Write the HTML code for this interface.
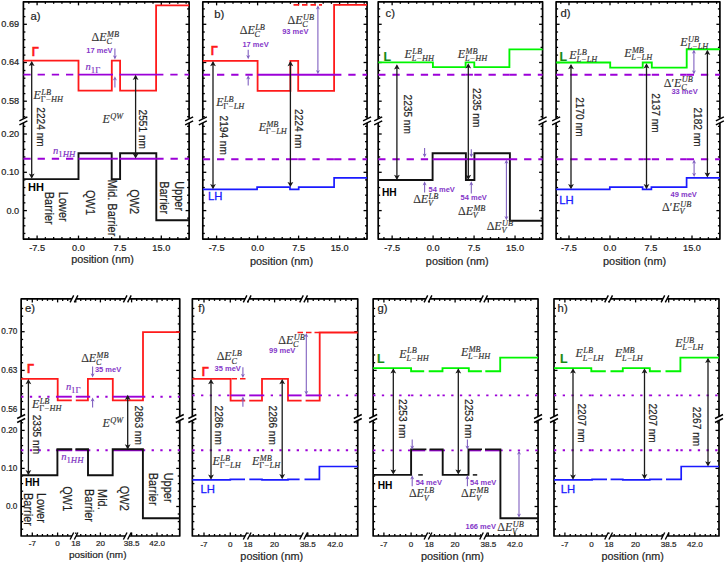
<!DOCTYPE html>
<html><head><meta charset="utf-8"><title>Band diagrams</title>
<style>html,body{margin:0;padding:0;background:#fff;width:725px;height:563px;overflow:hidden}svg{display:block}</style>
</head><body>
<svg width="725" height="563" viewBox="0 0 725 563">
<rect width="725" height="563" fill="#fff"/>
<rect x="23.4" y="1.85" width="165.7" height="237.25" fill="none" stroke="#000" stroke-width="1.7" stroke-linejoin="round"/>
<path d="M23.4 24.3 L26.9 24.3" fill="none" stroke="#000" stroke-width="1.3" stroke-linecap="butt" stroke-linejoin="miter"/>
<path d="M189.1 24.3 L185.6 24.3" fill="none" stroke="#000" stroke-width="1.3" stroke-linecap="butt" stroke-linejoin="miter"/>
<path d="M23.4 62.5 L26.9 62.5" fill="none" stroke="#000" stroke-width="1.3" stroke-linecap="butt" stroke-linejoin="miter"/>
<path d="M189.1 62.5 L185.6 62.5" fill="none" stroke="#000" stroke-width="1.3" stroke-linecap="butt" stroke-linejoin="miter"/>
<path d="M23.4 101.2 L26.9 101.2" fill="none" stroke="#000" stroke-width="1.3" stroke-linecap="butt" stroke-linejoin="miter"/>
<path d="M189.1 101.2 L185.6 101.2" fill="none" stroke="#000" stroke-width="1.3" stroke-linecap="butt" stroke-linejoin="miter"/>
<path d="M23.4 134 L26.9 134" fill="none" stroke="#000" stroke-width="1.3" stroke-linecap="butt" stroke-linejoin="miter"/>
<path d="M189.1 134 L185.6 134" fill="none" stroke="#000" stroke-width="1.3" stroke-linecap="butt" stroke-linejoin="miter"/>
<path d="M23.4 172.3 L26.9 172.3" fill="none" stroke="#000" stroke-width="1.3" stroke-linecap="butt" stroke-linejoin="miter"/>
<path d="M189.1 172.3 L185.6 172.3" fill="none" stroke="#000" stroke-width="1.3" stroke-linecap="butt" stroke-linejoin="miter"/>
<path d="M23.4 210.6 L26.9 210.6" fill="none" stroke="#000" stroke-width="1.3" stroke-linecap="butt" stroke-linejoin="miter"/>
<path d="M189.1 210.6 L185.6 210.6" fill="none" stroke="#000" stroke-width="1.3" stroke-linecap="butt" stroke-linejoin="miter"/>
<path d="M23.4 8.9 L25.4 8.9" fill="none" stroke="#000" stroke-width="1.3" stroke-linecap="butt" stroke-linejoin="miter"/>
<path d="M189.1 8.9 L187.1 8.9" fill="none" stroke="#000" stroke-width="1.3" stroke-linecap="butt" stroke-linejoin="miter"/>
<path d="M23.4 16.6 L25.4 16.6" fill="none" stroke="#000" stroke-width="1.3" stroke-linecap="butt" stroke-linejoin="miter"/>
<path d="M189.1 16.6 L187.1 16.6" fill="none" stroke="#000" stroke-width="1.3" stroke-linecap="butt" stroke-linejoin="miter"/>
<path d="M23.4 32 L25.4 32" fill="none" stroke="#000" stroke-width="1.3" stroke-linecap="butt" stroke-linejoin="miter"/>
<path d="M189.1 32 L187.1 32" fill="none" stroke="#000" stroke-width="1.3" stroke-linecap="butt" stroke-linejoin="miter"/>
<path d="M23.4 39.7 L25.4 39.7" fill="none" stroke="#000" stroke-width="1.3" stroke-linecap="butt" stroke-linejoin="miter"/>
<path d="M189.1 39.7 L187.1 39.7" fill="none" stroke="#000" stroke-width="1.3" stroke-linecap="butt" stroke-linejoin="miter"/>
<path d="M23.4 47.4 L25.4 47.4" fill="none" stroke="#000" stroke-width="1.3" stroke-linecap="butt" stroke-linejoin="miter"/>
<path d="M189.1 47.4 L187.1 47.4" fill="none" stroke="#000" stroke-width="1.3" stroke-linecap="butt" stroke-linejoin="miter"/>
<path d="M23.4 55.1 L25.4 55.1" fill="none" stroke="#000" stroke-width="1.3" stroke-linecap="butt" stroke-linejoin="miter"/>
<path d="M189.1 55.1 L187.1 55.1" fill="none" stroke="#000" stroke-width="1.3" stroke-linecap="butt" stroke-linejoin="miter"/>
<path d="M23.4 70.5 L25.4 70.5" fill="none" stroke="#000" stroke-width="1.3" stroke-linecap="butt" stroke-linejoin="miter"/>
<path d="M189.1 70.5 L187.1 70.5" fill="none" stroke="#000" stroke-width="1.3" stroke-linecap="butt" stroke-linejoin="miter"/>
<path d="M23.4 78.2 L25.4 78.2" fill="none" stroke="#000" stroke-width="1.3" stroke-linecap="butt" stroke-linejoin="miter"/>
<path d="M189.1 78.2 L187.1 78.2" fill="none" stroke="#000" stroke-width="1.3" stroke-linecap="butt" stroke-linejoin="miter"/>
<path d="M23.4 85.9 L25.4 85.9" fill="none" stroke="#000" stroke-width="1.3" stroke-linecap="butt" stroke-linejoin="miter"/>
<path d="M189.1 85.9 L187.1 85.9" fill="none" stroke="#000" stroke-width="1.3" stroke-linecap="butt" stroke-linejoin="miter"/>
<path d="M23.4 93.6 L25.4 93.6" fill="none" stroke="#000" stroke-width="1.3" stroke-linecap="butt" stroke-linejoin="miter"/>
<path d="M189.1 93.6 L187.1 93.6" fill="none" stroke="#000" stroke-width="1.3" stroke-linecap="butt" stroke-linejoin="miter"/>
<path d="M23.4 109 L25.4 109" fill="none" stroke="#000" stroke-width="1.3" stroke-linecap="butt" stroke-linejoin="miter"/>
<path d="M189.1 109 L187.1 109" fill="none" stroke="#000" stroke-width="1.3" stroke-linecap="butt" stroke-linejoin="miter"/>
<path d="M23.4 116.7 L25.4 116.7" fill="none" stroke="#000" stroke-width="1.3" stroke-linecap="butt" stroke-linejoin="miter"/>
<path d="M189.1 116.7 L187.1 116.7" fill="none" stroke="#000" stroke-width="1.3" stroke-linecap="butt" stroke-linejoin="miter"/>
<path d="M23.4 126.35 L25.4 126.35" fill="none" stroke="#000" stroke-width="1.3" stroke-linecap="butt" stroke-linejoin="miter"/>
<path d="M189.1 126.35 L187.1 126.35" fill="none" stroke="#000" stroke-width="1.3" stroke-linecap="butt" stroke-linejoin="miter"/>
<path d="M23.4 141.65 L25.4 141.65" fill="none" stroke="#000" stroke-width="1.3" stroke-linecap="butt" stroke-linejoin="miter"/>
<path d="M189.1 141.65 L187.1 141.65" fill="none" stroke="#000" stroke-width="1.3" stroke-linecap="butt" stroke-linejoin="miter"/>
<path d="M23.4 149.3 L25.4 149.3" fill="none" stroke="#000" stroke-width="1.3" stroke-linecap="butt" stroke-linejoin="miter"/>
<path d="M189.1 149.3 L187.1 149.3" fill="none" stroke="#000" stroke-width="1.3" stroke-linecap="butt" stroke-linejoin="miter"/>
<path d="M23.4 156.95 L25.4 156.95" fill="none" stroke="#000" stroke-width="1.3" stroke-linecap="butt" stroke-linejoin="miter"/>
<path d="M189.1 156.95 L187.1 156.95" fill="none" stroke="#000" stroke-width="1.3" stroke-linecap="butt" stroke-linejoin="miter"/>
<path d="M23.4 164.6 L25.4 164.6" fill="none" stroke="#000" stroke-width="1.3" stroke-linecap="butt" stroke-linejoin="miter"/>
<path d="M189.1 164.6 L187.1 164.6" fill="none" stroke="#000" stroke-width="1.3" stroke-linecap="butt" stroke-linejoin="miter"/>
<path d="M23.4 179.9 L25.4 179.9" fill="none" stroke="#000" stroke-width="1.3" stroke-linecap="butt" stroke-linejoin="miter"/>
<path d="M189.1 179.9 L187.1 179.9" fill="none" stroke="#000" stroke-width="1.3" stroke-linecap="butt" stroke-linejoin="miter"/>
<path d="M23.4 187.55 L25.4 187.55" fill="none" stroke="#000" stroke-width="1.3" stroke-linecap="butt" stroke-linejoin="miter"/>
<path d="M189.1 187.55 L187.1 187.55" fill="none" stroke="#000" stroke-width="1.3" stroke-linecap="butt" stroke-linejoin="miter"/>
<path d="M23.4 195.2 L25.4 195.2" fill="none" stroke="#000" stroke-width="1.3" stroke-linecap="butt" stroke-linejoin="miter"/>
<path d="M189.1 195.2 L187.1 195.2" fill="none" stroke="#000" stroke-width="1.3" stroke-linecap="butt" stroke-linejoin="miter"/>
<path d="M23.4 202.85 L25.4 202.85" fill="none" stroke="#000" stroke-width="1.3" stroke-linecap="butt" stroke-linejoin="miter"/>
<path d="M189.1 202.85 L187.1 202.85" fill="none" stroke="#000" stroke-width="1.3" stroke-linecap="butt" stroke-linejoin="miter"/>
<path d="M23.4 218.15 L25.4 218.15" fill="none" stroke="#000" stroke-width="1.3" stroke-linecap="butt" stroke-linejoin="miter"/>
<path d="M189.1 218.15 L187.1 218.15" fill="none" stroke="#000" stroke-width="1.3" stroke-linecap="butt" stroke-linejoin="miter"/>
<path d="M23.4 225.8 L25.4 225.8" fill="none" stroke="#000" stroke-width="1.3" stroke-linecap="butt" stroke-linejoin="miter"/>
<path d="M189.1 225.8 L187.1 225.8" fill="none" stroke="#000" stroke-width="1.3" stroke-linecap="butt" stroke-linejoin="miter"/>
<path d="M23.4 233.45 L25.4 233.45" fill="none" stroke="#000" stroke-width="1.3" stroke-linecap="butt" stroke-linejoin="miter"/>
<path d="M189.1 233.45 L187.1 233.45" fill="none" stroke="#000" stroke-width="1.3" stroke-linecap="butt" stroke-linejoin="miter"/>
<path d="M37.1 1.85 L37.1 5.35" fill="none" stroke="#000" stroke-width="1.3" stroke-linecap="butt" stroke-linejoin="miter"/>
<path d="M37.1 239.1 L37.1 235.6" fill="none" stroke="#000" stroke-width="1.3" stroke-linecap="butt" stroke-linejoin="miter"/>
<path d="M78.5 1.85 L78.5 5.35" fill="none" stroke="#000" stroke-width="1.3" stroke-linecap="butt" stroke-linejoin="miter"/>
<path d="M78.5 239.1 L78.5 235.6" fill="none" stroke="#000" stroke-width="1.3" stroke-linecap="butt" stroke-linejoin="miter"/>
<path d="M119.9 1.85 L119.9 5.35" fill="none" stroke="#000" stroke-width="1.3" stroke-linecap="butt" stroke-linejoin="miter"/>
<path d="M119.9 239.1 L119.9 235.6" fill="none" stroke="#000" stroke-width="1.3" stroke-linecap="butt" stroke-linejoin="miter"/>
<path d="M161.3 1.85 L161.3 5.35" fill="none" stroke="#000" stroke-width="1.3" stroke-linecap="butt" stroke-linejoin="miter"/>
<path d="M161.3 239.1 L161.3 235.6" fill="none" stroke="#000" stroke-width="1.3" stroke-linecap="butt" stroke-linejoin="miter"/>
<path d="M28.82 1.85 L28.82 3.85" fill="none" stroke="#000" stroke-width="1.3" stroke-linecap="butt" stroke-linejoin="miter"/>
<path d="M28.82 239.1 L28.82 237.1" fill="none" stroke="#000" stroke-width="1.3" stroke-linecap="butt" stroke-linejoin="miter"/>
<path d="M45.38 1.85 L45.38 3.85" fill="none" stroke="#000" stroke-width="1.3" stroke-linecap="butt" stroke-linejoin="miter"/>
<path d="M45.38 239.1 L45.38 237.1" fill="none" stroke="#000" stroke-width="1.3" stroke-linecap="butt" stroke-linejoin="miter"/>
<path d="M53.66 1.85 L53.66 3.85" fill="none" stroke="#000" stroke-width="1.3" stroke-linecap="butt" stroke-linejoin="miter"/>
<path d="M53.66 239.1 L53.66 237.1" fill="none" stroke="#000" stroke-width="1.3" stroke-linecap="butt" stroke-linejoin="miter"/>
<path d="M61.94 1.85 L61.94 3.85" fill="none" stroke="#000" stroke-width="1.3" stroke-linecap="butt" stroke-linejoin="miter"/>
<path d="M61.94 239.1 L61.94 237.1" fill="none" stroke="#000" stroke-width="1.3" stroke-linecap="butt" stroke-linejoin="miter"/>
<path d="M70.22 1.85 L70.22 3.85" fill="none" stroke="#000" stroke-width="1.3" stroke-linecap="butt" stroke-linejoin="miter"/>
<path d="M70.22 239.1 L70.22 237.1" fill="none" stroke="#000" stroke-width="1.3" stroke-linecap="butt" stroke-linejoin="miter"/>
<path d="M86.78 1.85 L86.78 3.85" fill="none" stroke="#000" stroke-width="1.3" stroke-linecap="butt" stroke-linejoin="miter"/>
<path d="M86.78 239.1 L86.78 237.1" fill="none" stroke="#000" stroke-width="1.3" stroke-linecap="butt" stroke-linejoin="miter"/>
<path d="M95.06 1.85 L95.06 3.85" fill="none" stroke="#000" stroke-width="1.3" stroke-linecap="butt" stroke-linejoin="miter"/>
<path d="M95.06 239.1 L95.06 237.1" fill="none" stroke="#000" stroke-width="1.3" stroke-linecap="butt" stroke-linejoin="miter"/>
<path d="M103.34 1.85 L103.34 3.85" fill="none" stroke="#000" stroke-width="1.3" stroke-linecap="butt" stroke-linejoin="miter"/>
<path d="M103.34 239.1 L103.34 237.1" fill="none" stroke="#000" stroke-width="1.3" stroke-linecap="butt" stroke-linejoin="miter"/>
<path d="M111.62 1.85 L111.62 3.85" fill="none" stroke="#000" stroke-width="1.3" stroke-linecap="butt" stroke-linejoin="miter"/>
<path d="M111.62 239.1 L111.62 237.1" fill="none" stroke="#000" stroke-width="1.3" stroke-linecap="butt" stroke-linejoin="miter"/>
<path d="M128.18 1.85 L128.18 3.85" fill="none" stroke="#000" stroke-width="1.3" stroke-linecap="butt" stroke-linejoin="miter"/>
<path d="M128.18 239.1 L128.18 237.1" fill="none" stroke="#000" stroke-width="1.3" stroke-linecap="butt" stroke-linejoin="miter"/>
<path d="M136.46 1.85 L136.46 3.85" fill="none" stroke="#000" stroke-width="1.3" stroke-linecap="butt" stroke-linejoin="miter"/>
<path d="M136.46 239.1 L136.46 237.1" fill="none" stroke="#000" stroke-width="1.3" stroke-linecap="butt" stroke-linejoin="miter"/>
<path d="M144.74 1.85 L144.74 3.85" fill="none" stroke="#000" stroke-width="1.3" stroke-linecap="butt" stroke-linejoin="miter"/>
<path d="M144.74 239.1 L144.74 237.1" fill="none" stroke="#000" stroke-width="1.3" stroke-linecap="butt" stroke-linejoin="miter"/>
<path d="M153.02 1.85 L153.02 3.85" fill="none" stroke="#000" stroke-width="1.3" stroke-linecap="butt" stroke-linejoin="miter"/>
<path d="M153.02 239.1 L153.02 237.1" fill="none" stroke="#000" stroke-width="1.3" stroke-linecap="butt" stroke-linejoin="miter"/>
<path d="M169.58 1.85 L169.58 3.85" fill="none" stroke="#000" stroke-width="1.3" stroke-linecap="butt" stroke-linejoin="miter"/>
<path d="M169.58 239.1 L169.58 237.1" fill="none" stroke="#000" stroke-width="1.3" stroke-linecap="butt" stroke-linejoin="miter"/>
<path d="M177.86 1.85 L177.86 3.85" fill="none" stroke="#000" stroke-width="1.3" stroke-linecap="butt" stroke-linejoin="miter"/>
<path d="M177.86 239.1 L177.86 237.1" fill="none" stroke="#000" stroke-width="1.3" stroke-linecap="butt" stroke-linejoin="miter"/>
<path d="M186.14 1.85 L186.14 3.85" fill="none" stroke="#000" stroke-width="1.3" stroke-linecap="butt" stroke-linejoin="miter"/>
<path d="M186.14 239.1 L186.14 237.1" fill="none" stroke="#000" stroke-width="1.3" stroke-linecap="butt" stroke-linejoin="miter"/>
<rect x="21.4" y="118.7" width="4" height="4.2" fill="#fff"/>
<path d="M19.4 120.9 L27.4 116.9" fill="none" stroke="#000" stroke-width="1.4" stroke-linecap="butt" stroke-linejoin="miter"/>
<path d="M19.4 124.9 L27.4 120.9" fill="none" stroke="#000" stroke-width="1.4" stroke-linecap="butt" stroke-linejoin="miter"/>
<rect x="187.1" y="118.7" width="4" height="4.2" fill="#fff"/>
<path d="M185.1 120.9 L193.1 116.9" fill="none" stroke="#000" stroke-width="1.4" stroke-linecap="butt" stroke-linejoin="miter"/>
<path d="M185.1 124.9 L193.1 120.9" fill="none" stroke="#000" stroke-width="1.4" stroke-linecap="butt" stroke-linejoin="miter"/>
<text x="0" y="0" font-family='"Liberation Sans", sans-serif' font-size="9.2" fill="#1e1e1e" font-weight="normal" font-style="normal" text-anchor="middle" transform="translate(37.1 251) scale(1 1.07)" stroke="#1e1e1e" stroke-width="0.2">-7.5</text>
<text x="0" y="0" font-family='"Liberation Sans", sans-serif' font-size="9.2" fill="#1e1e1e" font-weight="normal" font-style="normal" text-anchor="middle" transform="translate(78.5 251) scale(1 1.07)" stroke="#1e1e1e" stroke-width="0.2">0.0</text>
<text x="0" y="0" font-family='"Liberation Sans", sans-serif' font-size="9.2" fill="#1e1e1e" font-weight="normal" font-style="normal" text-anchor="middle" transform="translate(119.9 251) scale(1 1.07)" stroke="#1e1e1e" stroke-width="0.2">7.5</text>
<text x="0" y="0" font-family='"Liberation Sans", sans-serif' font-size="9.2" fill="#1e1e1e" font-weight="normal" font-style="normal" text-anchor="middle" transform="translate(161.3 251) scale(1 1.07)" stroke="#1e1e1e" stroke-width="0.2">15.0</text>
<text x="102.55" y="263.4" font-family='"Liberation Sans", sans-serif' font-size="10.86" fill="#1e1e1e" font-weight="normal" font-style="normal" text-anchor="middle" stroke="#1e1e1e" stroke-width="0.2">position (nm)</text>
<text x="0" y="0" font-family='"Liberation Sans", sans-serif' font-size="9.2" fill="#1e1e1e" font-weight="normal" font-style="normal" text-anchor="end" transform="translate(19.2 27.2) scale(1 1.07)" stroke="#1e1e1e" stroke-width="0.2">0.69</text>
<text x="0" y="0" font-family='"Liberation Sans", sans-serif' font-size="9.2" fill="#1e1e1e" font-weight="normal" font-style="normal" text-anchor="end" transform="translate(19.2 65.4) scale(1 1.07)" stroke="#1e1e1e" stroke-width="0.2">0.64</text>
<text x="0" y="0" font-family='"Liberation Sans", sans-serif' font-size="9.2" fill="#1e1e1e" font-weight="normal" font-style="normal" text-anchor="end" transform="translate(19.2 104.1) scale(1 1.07)" stroke="#1e1e1e" stroke-width="0.2">0.58</text>
<text x="0" y="0" font-family='"Liberation Sans", sans-serif' font-size="9.2" fill="#1e1e1e" font-weight="normal" font-style="normal" text-anchor="end" transform="translate(19.2 136.9) scale(1 1.07)" stroke="#1e1e1e" stroke-width="0.2">0.20</text>
<text x="0" y="0" font-family='"Liberation Sans", sans-serif' font-size="9.2" fill="#1e1e1e" font-weight="normal" font-style="normal" text-anchor="end" transform="translate(19.2 175.2) scale(1 1.07)" stroke="#1e1e1e" stroke-width="0.2">0.10</text>
<text x="0" y="0" font-family='"Liberation Sans", sans-serif' font-size="9.2" fill="#1e1e1e" font-weight="normal" font-style="normal" text-anchor="end" transform="translate(19.2 213.5) scale(1 1.07)" stroke="#1e1e1e" stroke-width="0.2">0.0</text>
<path d="M23.4 60.7 L78.5 60.7 L78.5 90.6 L111.8 90.6 L111.8 60.7 L120.1 60.7 L120.1 90.6 L156.1 90.6 L156.1 5.3 L189.1 5.3" fill="none" stroke="#ff1a1a" stroke-width="1.8" stroke-linecap="butt" stroke-linejoin="miter"/>
<path d="M23.4 179.1 L78.5 179.1 L78.5 153.2 L111.7 153.2 L111.7 179.1 L120.1 179.1 L120.1 153.2 L156.3 153.2 L156.3 220.2 L189.1 220.2" fill="none" stroke="#111" stroke-width="1.9" stroke-linecap="butt" stroke-linejoin="miter"/>
<path d="M23.4 74.6 L78.5 74.6" fill="none" stroke="#9c00d8" stroke-width="1.9" stroke-dasharray="7.3 6.9" stroke-dashoffset="0"/>
<path d="M78.5 74.6 L113 74.6" fill="none" stroke="#9c00d8" stroke-width="1.9" stroke-linecap="butt" stroke-linejoin="miter"/>
<path d="M119.5 74.6 L156.1 74.6" fill="none" stroke="#9c00d8" stroke-width="1.9" stroke-linecap="butt" stroke-linejoin="miter"/>
<path d="M156.1 74.6 L189.1 74.6" fill="none" stroke="#9c00d8" stroke-width="1.9" stroke-dasharray="7.3 6.9" stroke-dashoffset="0"/>
<path d="M23.4 158.7 L78.5 158.7" fill="none" stroke="#9c00d8" stroke-width="1.9" stroke-dasharray="7.3 6.9" stroke-dashoffset="0"/>
<path d="M78.5 158.7 L111.8 158.7" fill="none" stroke="#9c00d8" stroke-width="1.9" stroke-linecap="butt" stroke-linejoin="miter"/>
<path d="M111.8 158.7 L117.8 158.7" fill="none" stroke="#9c00d8" stroke-width="1.9" stroke-linecap="butt" stroke-linejoin="miter"/>
<path d="M119.4 158.7 L120.1 158.7" fill="none" stroke="#9c00d8" stroke-width="1.9" stroke-linecap="butt" stroke-linejoin="miter"/>
<path d="M120.1 158.7 L156.3 158.7" fill="none" stroke="#9c00d8" stroke-width="1.9" stroke-linecap="butt" stroke-linejoin="miter"/>
<path d="M156.3 158.7 L189.1 158.7" fill="none" stroke="#9c00d8" stroke-width="1.9" stroke-dasharray="7.3 6.9" stroke-dashoffset="0"/>
<text x="30.4" y="19.5" font-family='"Liberation Sans", sans-serif' font-size="11.3" fill="#1e1e1e" font-weight="normal" font-style="normal" text-anchor="start" stroke="#1e1e1e" stroke-width="0.2">a)</text>
<text x="0" y="0" font-family='"Liberation Sans", sans-serif' font-size="12.6" fill="#ff1a1a" font-weight="bold" font-style="normal" text-anchor="start" transform="translate(31.8 55.6) scale(0.92 1)" stroke="#ff1a1a" stroke-width="0.45">Γ</text>
<g transform="translate(85.6 69.8) scale(1 1)" font-family='"Liberation Serif", serif' fill="#7b2fc0" stroke="#7b2fc0" stroke-width="0.15">
<text x="0" y="0" font-size="10.6" font-style="italic">n</text>
<text x="5.21" y="2.7" font-size="8.8" font-style="italic"><tspan font-style="normal">1</tspan><tspan font-style="normal">Γ</tspan></text>
</g>
<g transform="translate(91.6 41) scale(1 1)" font-family='"Liberation Serif", serif' fill="#333333" stroke="#333333" stroke-width="0.15">
<text x="0" y="0" font-size="12">Δ</text>
<text x="7.68" y="0" font-size="12" font-style="italic">E</text>
<text x="15.42" y="-4.1" font-size="8.3" font-style="italic">MB</text>
<text x="14.82" y="3.2" font-size="8.3" font-style="italic">C</text>
</g>
<text x="86.3" y="52.5" font-family='"Liberation Sans", sans-serif' font-size="7.5" fill="#8436c8" font-weight="bold" font-style="normal" text-anchor="start">17 meV</text>
<path d="M114.9 48.5 L114.9 57.4" fill="none" stroke="#8060c0" stroke-width="1.1" stroke-linecap="butt" stroke-linejoin="miter"/>
<path d="M114.9 59.4 L112.9 55.2 L114.9 56.4 L116.9 55.2 Z" fill="#8060c0"/>
<path d="M114.9 87.5 L114.9 78.3" fill="none" stroke="#8060c0" stroke-width="1.1" stroke-linecap="butt" stroke-linejoin="miter"/>
<path d="M114.9 76.3 L112.9 80.5 L114.9 79.3 L116.9 80.5 Z" fill="#8060c0"/>
<path d="M31.7 62.4 L31.7 177.3" fill="none" stroke="#1a1a1a" stroke-width="1.3" stroke-linecap="butt" stroke-linejoin="miter"/>
<path d="M31.7 60.9 L28.8 66.1 L31.7 64.9 L34.6 66.1 Z" fill="#1a1a1a"/>
<path d="M31.7 178.8 L28.8 173.6 L31.7 174.8 L34.6 173.6 Z" fill="#1a1a1a"/>
<path d="M135.6 76.3 L135.6 157.1" fill="none" stroke="#1a1a1a" stroke-width="1.3" stroke-linecap="butt" stroke-linejoin="miter"/>
<path d="M135.6 74.8 L132.7 80 L135.6 78.8 L138.5 80 Z" fill="#1a1a1a"/>
<path d="M135.6 158.6 L132.7 153.4 L135.6 154.6 L138.5 153.4 Z" fill="#1a1a1a"/>
<g transform="translate(33.6 98.8) scale(1 1)" font-family='"Liberation Serif", serif' fill="#333333" stroke="#333333" stroke-width="0.15">
<text x="0" y="0" font-size="12" font-style="italic">E</text>
<text x="7.74" y="-4.1" font-size="8.3" font-style="italic">LB</text>
<text x="7.14" y="3.2" font-size="8.3" font-style="italic"><tspan font-style="normal">Γ</tspan>−HH</text>
</g>
<text x="0" y="0" font-family='"Liberation Sans", sans-serif' font-size="10.15" fill="#1e1e1e" font-weight="normal" font-style="normal" text-anchor="start" transform="translate(36.5 107.3) rotate(90)" stroke="#1e1e1e" stroke-width="0.2">2224 nm</text>
<g transform="translate(102.6 122.9) scale(1 1)" font-family='"Liberation Serif", serif' fill="#333333" stroke="#333333" stroke-width="0.15">
<text x="0" y="0" font-size="12" font-style="italic">E</text>
<text x="7.74" y="-4.1" font-size="8.3" font-style="italic">QW</text>
</g>
<text x="0" y="0" font-family='"Liberation Sans", sans-serif' font-size="10.15" fill="#1e1e1e" font-weight="normal" font-style="normal" text-anchor="start" transform="translate(139.1 109.6) rotate(90)" stroke="#1e1e1e" stroke-width="0.2">2551 nm</text>
<text x="28" y="190.5" font-family='"Liberation Sans", sans-serif' font-size="11" fill="#000" font-weight="bold" font-style="normal" text-anchor="start">HH</text>
<g transform="translate(53.1 154.3) scale(1 1)" font-family='"Liberation Serif", serif' fill="#7b2fc0" stroke="#7b2fc0" stroke-width="0.15">
<text x="0" y="0" font-size="10.6" font-style="italic">n</text>
<text x="5.21" y="2.8" font-size="8.8" font-style="italic"><tspan font-style="normal">1</tspan>HH</text>
</g>
<text x="0" y="0" font-family='"Liberation Sans", sans-serif' font-size="12.2" fill="#1e1e1e" font-weight="normal" font-style="normal" text-anchor="start" transform="translate(59 191.8) rotate(90) scale(0.9 1)" stroke="#1e1e1e" stroke-width="0.2">Lower</text>
<text x="0" y="0" font-family='"Liberation Sans", sans-serif' font-size="12.2" fill="#1e1e1e" font-weight="normal" font-style="normal" text-anchor="start" transform="translate(44.6 191.8) rotate(90) scale(0.9 1)" stroke="#1e1e1e" stroke-width="0.2">Barrier</text>
<text x="0" y="0" font-family='"Liberation Sans", sans-serif' font-size="12.2" fill="#1e1e1e" font-weight="normal" font-style="normal" text-anchor="start" transform="translate(85.8 190) rotate(90) scale(0.9 1)" stroke="#1e1e1e" stroke-width="0.2">QW1</text>
<text x="0" y="0" font-family='"Liberation Sans", sans-serif' font-size="12.2" fill="#1e1e1e" font-weight="normal" font-style="normal" text-anchor="start" transform="translate(108.2 179.6) rotate(90) scale(0.9 1)" stroke="#1e1e1e" stroke-width="0.2">Mid. Barrier</text>
<text x="0" y="0" font-family='"Liberation Sans", sans-serif' font-size="12.2" fill="#1e1e1e" font-weight="normal" font-style="normal" text-anchor="start" transform="translate(129.7 189.2) rotate(90) scale(0.9 1)" stroke="#1e1e1e" stroke-width="0.2">QW2</text>
<text x="0" y="0" font-family='"Liberation Sans", sans-serif' font-size="12.2" fill="#1e1e1e" font-weight="normal" font-style="normal" text-anchor="start" transform="translate(175 181.2) rotate(90) scale(0.9 1)" stroke="#1e1e1e" stroke-width="0.2">Upper</text>
<text x="0" y="0" font-family='"Liberation Sans", sans-serif' font-size="12.2" fill="#1e1e1e" font-weight="normal" font-style="normal" text-anchor="start" transform="translate(159.7 181.2) rotate(90) scale(0.9 1)" stroke="#1e1e1e" stroke-width="0.2">Barrier</text>
<rect x="202.8" y="1.85" width="164.25" height="237.25" fill="none" stroke="#000" stroke-width="1.7" stroke-linejoin="round"/>
<path d="M202.8 24.3 L206.3 24.3" fill="none" stroke="#000" stroke-width="1.3" stroke-linecap="butt" stroke-linejoin="miter"/>
<path d="M367.05 24.3 L363.55 24.3" fill="none" stroke="#000" stroke-width="1.3" stroke-linecap="butt" stroke-linejoin="miter"/>
<path d="M202.8 62.5 L206.3 62.5" fill="none" stroke="#000" stroke-width="1.3" stroke-linecap="butt" stroke-linejoin="miter"/>
<path d="M367.05 62.5 L363.55 62.5" fill="none" stroke="#000" stroke-width="1.3" stroke-linecap="butt" stroke-linejoin="miter"/>
<path d="M202.8 101.2 L206.3 101.2" fill="none" stroke="#000" stroke-width="1.3" stroke-linecap="butt" stroke-linejoin="miter"/>
<path d="M367.05 101.2 L363.55 101.2" fill="none" stroke="#000" stroke-width="1.3" stroke-linecap="butt" stroke-linejoin="miter"/>
<path d="M202.8 134 L206.3 134" fill="none" stroke="#000" stroke-width="1.3" stroke-linecap="butt" stroke-linejoin="miter"/>
<path d="M367.05 134 L363.55 134" fill="none" stroke="#000" stroke-width="1.3" stroke-linecap="butt" stroke-linejoin="miter"/>
<path d="M202.8 172.3 L206.3 172.3" fill="none" stroke="#000" stroke-width="1.3" stroke-linecap="butt" stroke-linejoin="miter"/>
<path d="M367.05 172.3 L363.55 172.3" fill="none" stroke="#000" stroke-width="1.3" stroke-linecap="butt" stroke-linejoin="miter"/>
<path d="M202.8 210.6 L206.3 210.6" fill="none" stroke="#000" stroke-width="1.3" stroke-linecap="butt" stroke-linejoin="miter"/>
<path d="M367.05 210.6 L363.55 210.6" fill="none" stroke="#000" stroke-width="1.3" stroke-linecap="butt" stroke-linejoin="miter"/>
<path d="M202.8 8.9 L204.8 8.9" fill="none" stroke="#000" stroke-width="1.3" stroke-linecap="butt" stroke-linejoin="miter"/>
<path d="M367.05 8.9 L365.05 8.9" fill="none" stroke="#000" stroke-width="1.3" stroke-linecap="butt" stroke-linejoin="miter"/>
<path d="M202.8 16.6 L204.8 16.6" fill="none" stroke="#000" stroke-width="1.3" stroke-linecap="butt" stroke-linejoin="miter"/>
<path d="M367.05 16.6 L365.05 16.6" fill="none" stroke="#000" stroke-width="1.3" stroke-linecap="butt" stroke-linejoin="miter"/>
<path d="M202.8 32 L204.8 32" fill="none" stroke="#000" stroke-width="1.3" stroke-linecap="butt" stroke-linejoin="miter"/>
<path d="M367.05 32 L365.05 32" fill="none" stroke="#000" stroke-width="1.3" stroke-linecap="butt" stroke-linejoin="miter"/>
<path d="M202.8 39.7 L204.8 39.7" fill="none" stroke="#000" stroke-width="1.3" stroke-linecap="butt" stroke-linejoin="miter"/>
<path d="M367.05 39.7 L365.05 39.7" fill="none" stroke="#000" stroke-width="1.3" stroke-linecap="butt" stroke-linejoin="miter"/>
<path d="M202.8 47.4 L204.8 47.4" fill="none" stroke="#000" stroke-width="1.3" stroke-linecap="butt" stroke-linejoin="miter"/>
<path d="M367.05 47.4 L365.05 47.4" fill="none" stroke="#000" stroke-width="1.3" stroke-linecap="butt" stroke-linejoin="miter"/>
<path d="M202.8 55.1 L204.8 55.1" fill="none" stroke="#000" stroke-width="1.3" stroke-linecap="butt" stroke-linejoin="miter"/>
<path d="M367.05 55.1 L365.05 55.1" fill="none" stroke="#000" stroke-width="1.3" stroke-linecap="butt" stroke-linejoin="miter"/>
<path d="M202.8 70.5 L204.8 70.5" fill="none" stroke="#000" stroke-width="1.3" stroke-linecap="butt" stroke-linejoin="miter"/>
<path d="M367.05 70.5 L365.05 70.5" fill="none" stroke="#000" stroke-width="1.3" stroke-linecap="butt" stroke-linejoin="miter"/>
<path d="M202.8 78.2 L204.8 78.2" fill="none" stroke="#000" stroke-width="1.3" stroke-linecap="butt" stroke-linejoin="miter"/>
<path d="M367.05 78.2 L365.05 78.2" fill="none" stroke="#000" stroke-width="1.3" stroke-linecap="butt" stroke-linejoin="miter"/>
<path d="M202.8 85.9 L204.8 85.9" fill="none" stroke="#000" stroke-width="1.3" stroke-linecap="butt" stroke-linejoin="miter"/>
<path d="M367.05 85.9 L365.05 85.9" fill="none" stroke="#000" stroke-width="1.3" stroke-linecap="butt" stroke-linejoin="miter"/>
<path d="M202.8 93.6 L204.8 93.6" fill="none" stroke="#000" stroke-width="1.3" stroke-linecap="butt" stroke-linejoin="miter"/>
<path d="M367.05 93.6 L365.05 93.6" fill="none" stroke="#000" stroke-width="1.3" stroke-linecap="butt" stroke-linejoin="miter"/>
<path d="M202.8 109 L204.8 109" fill="none" stroke="#000" stroke-width="1.3" stroke-linecap="butt" stroke-linejoin="miter"/>
<path d="M367.05 109 L365.05 109" fill="none" stroke="#000" stroke-width="1.3" stroke-linecap="butt" stroke-linejoin="miter"/>
<path d="M202.8 116.7 L204.8 116.7" fill="none" stroke="#000" stroke-width="1.3" stroke-linecap="butt" stroke-linejoin="miter"/>
<path d="M367.05 116.7 L365.05 116.7" fill="none" stroke="#000" stroke-width="1.3" stroke-linecap="butt" stroke-linejoin="miter"/>
<path d="M202.8 126.35 L204.8 126.35" fill="none" stroke="#000" stroke-width="1.3" stroke-linecap="butt" stroke-linejoin="miter"/>
<path d="M367.05 126.35 L365.05 126.35" fill="none" stroke="#000" stroke-width="1.3" stroke-linecap="butt" stroke-linejoin="miter"/>
<path d="M202.8 141.65 L204.8 141.65" fill="none" stroke="#000" stroke-width="1.3" stroke-linecap="butt" stroke-linejoin="miter"/>
<path d="M367.05 141.65 L365.05 141.65" fill="none" stroke="#000" stroke-width="1.3" stroke-linecap="butt" stroke-linejoin="miter"/>
<path d="M202.8 149.3 L204.8 149.3" fill="none" stroke="#000" stroke-width="1.3" stroke-linecap="butt" stroke-linejoin="miter"/>
<path d="M367.05 149.3 L365.05 149.3" fill="none" stroke="#000" stroke-width="1.3" stroke-linecap="butt" stroke-linejoin="miter"/>
<path d="M202.8 156.95 L204.8 156.95" fill="none" stroke="#000" stroke-width="1.3" stroke-linecap="butt" stroke-linejoin="miter"/>
<path d="M367.05 156.95 L365.05 156.95" fill="none" stroke="#000" stroke-width="1.3" stroke-linecap="butt" stroke-linejoin="miter"/>
<path d="M202.8 164.6 L204.8 164.6" fill="none" stroke="#000" stroke-width="1.3" stroke-linecap="butt" stroke-linejoin="miter"/>
<path d="M367.05 164.6 L365.05 164.6" fill="none" stroke="#000" stroke-width="1.3" stroke-linecap="butt" stroke-linejoin="miter"/>
<path d="M202.8 179.9 L204.8 179.9" fill="none" stroke="#000" stroke-width="1.3" stroke-linecap="butt" stroke-linejoin="miter"/>
<path d="M367.05 179.9 L365.05 179.9" fill="none" stroke="#000" stroke-width="1.3" stroke-linecap="butt" stroke-linejoin="miter"/>
<path d="M202.8 187.55 L204.8 187.55" fill="none" stroke="#000" stroke-width="1.3" stroke-linecap="butt" stroke-linejoin="miter"/>
<path d="M367.05 187.55 L365.05 187.55" fill="none" stroke="#000" stroke-width="1.3" stroke-linecap="butt" stroke-linejoin="miter"/>
<path d="M202.8 195.2 L204.8 195.2" fill="none" stroke="#000" stroke-width="1.3" stroke-linecap="butt" stroke-linejoin="miter"/>
<path d="M367.05 195.2 L365.05 195.2" fill="none" stroke="#000" stroke-width="1.3" stroke-linecap="butt" stroke-linejoin="miter"/>
<path d="M202.8 202.85 L204.8 202.85" fill="none" stroke="#000" stroke-width="1.3" stroke-linecap="butt" stroke-linejoin="miter"/>
<path d="M367.05 202.85 L365.05 202.85" fill="none" stroke="#000" stroke-width="1.3" stroke-linecap="butt" stroke-linejoin="miter"/>
<path d="M202.8 218.15 L204.8 218.15" fill="none" stroke="#000" stroke-width="1.3" stroke-linecap="butt" stroke-linejoin="miter"/>
<path d="M367.05 218.15 L365.05 218.15" fill="none" stroke="#000" stroke-width="1.3" stroke-linecap="butt" stroke-linejoin="miter"/>
<path d="M202.8 225.8 L204.8 225.8" fill="none" stroke="#000" stroke-width="1.3" stroke-linecap="butt" stroke-linejoin="miter"/>
<path d="M367.05 225.8 L365.05 225.8" fill="none" stroke="#000" stroke-width="1.3" stroke-linecap="butt" stroke-linejoin="miter"/>
<path d="M202.8 233.45 L204.8 233.45" fill="none" stroke="#000" stroke-width="1.3" stroke-linecap="butt" stroke-linejoin="miter"/>
<path d="M367.05 233.45 L365.05 233.45" fill="none" stroke="#000" stroke-width="1.3" stroke-linecap="butt" stroke-linejoin="miter"/>
<path d="M216.6 1.85 L216.6 5.35" fill="none" stroke="#000" stroke-width="1.3" stroke-linecap="butt" stroke-linejoin="miter"/>
<path d="M216.6 239.1 L216.6 235.6" fill="none" stroke="#000" stroke-width="1.3" stroke-linecap="butt" stroke-linejoin="miter"/>
<path d="M257.6 1.85 L257.6 5.35" fill="none" stroke="#000" stroke-width="1.3" stroke-linecap="butt" stroke-linejoin="miter"/>
<path d="M257.6 239.1 L257.6 235.6" fill="none" stroke="#000" stroke-width="1.3" stroke-linecap="butt" stroke-linejoin="miter"/>
<path d="M298.6 1.85 L298.6 5.35" fill="none" stroke="#000" stroke-width="1.3" stroke-linecap="butt" stroke-linejoin="miter"/>
<path d="M298.6 239.1 L298.6 235.6" fill="none" stroke="#000" stroke-width="1.3" stroke-linecap="butt" stroke-linejoin="miter"/>
<path d="M339.61 1.85 L339.61 5.35" fill="none" stroke="#000" stroke-width="1.3" stroke-linecap="butt" stroke-linejoin="miter"/>
<path d="M339.61 239.1 L339.61 235.6" fill="none" stroke="#000" stroke-width="1.3" stroke-linecap="butt" stroke-linejoin="miter"/>
<path d="M208.4 1.85 L208.4 3.85" fill="none" stroke="#000" stroke-width="1.3" stroke-linecap="butt" stroke-linejoin="miter"/>
<path d="M208.4 239.1 L208.4 237.1" fill="none" stroke="#000" stroke-width="1.3" stroke-linecap="butt" stroke-linejoin="miter"/>
<path d="M224.8 1.85 L224.8 3.85" fill="none" stroke="#000" stroke-width="1.3" stroke-linecap="butt" stroke-linejoin="miter"/>
<path d="M224.8 239.1 L224.8 237.1" fill="none" stroke="#000" stroke-width="1.3" stroke-linecap="butt" stroke-linejoin="miter"/>
<path d="M233 1.85 L233 3.85" fill="none" stroke="#000" stroke-width="1.3" stroke-linecap="butt" stroke-linejoin="miter"/>
<path d="M233 239.1 L233 237.1" fill="none" stroke="#000" stroke-width="1.3" stroke-linecap="butt" stroke-linejoin="miter"/>
<path d="M241.2 1.85 L241.2 3.85" fill="none" stroke="#000" stroke-width="1.3" stroke-linecap="butt" stroke-linejoin="miter"/>
<path d="M241.2 239.1 L241.2 237.1" fill="none" stroke="#000" stroke-width="1.3" stroke-linecap="butt" stroke-linejoin="miter"/>
<path d="M249.4 1.85 L249.4 3.85" fill="none" stroke="#000" stroke-width="1.3" stroke-linecap="butt" stroke-linejoin="miter"/>
<path d="M249.4 239.1 L249.4 237.1" fill="none" stroke="#000" stroke-width="1.3" stroke-linecap="butt" stroke-linejoin="miter"/>
<path d="M265.8 1.85 L265.8 3.85" fill="none" stroke="#000" stroke-width="1.3" stroke-linecap="butt" stroke-linejoin="miter"/>
<path d="M265.8 239.1 L265.8 237.1" fill="none" stroke="#000" stroke-width="1.3" stroke-linecap="butt" stroke-linejoin="miter"/>
<path d="M274 1.85 L274 3.85" fill="none" stroke="#000" stroke-width="1.3" stroke-linecap="butt" stroke-linejoin="miter"/>
<path d="M274 239.1 L274 237.1" fill="none" stroke="#000" stroke-width="1.3" stroke-linecap="butt" stroke-linejoin="miter"/>
<path d="M282.2 1.85 L282.2 3.85" fill="none" stroke="#000" stroke-width="1.3" stroke-linecap="butt" stroke-linejoin="miter"/>
<path d="M282.2 239.1 L282.2 237.1" fill="none" stroke="#000" stroke-width="1.3" stroke-linecap="butt" stroke-linejoin="miter"/>
<path d="M290.4 1.85 L290.4 3.85" fill="none" stroke="#000" stroke-width="1.3" stroke-linecap="butt" stroke-linejoin="miter"/>
<path d="M290.4 239.1 L290.4 237.1" fill="none" stroke="#000" stroke-width="1.3" stroke-linecap="butt" stroke-linejoin="miter"/>
<path d="M306.8 1.85 L306.8 3.85" fill="none" stroke="#000" stroke-width="1.3" stroke-linecap="butt" stroke-linejoin="miter"/>
<path d="M306.8 239.1 L306.8 237.1" fill="none" stroke="#000" stroke-width="1.3" stroke-linecap="butt" stroke-linejoin="miter"/>
<path d="M315 1.85 L315 3.85" fill="none" stroke="#000" stroke-width="1.3" stroke-linecap="butt" stroke-linejoin="miter"/>
<path d="M315 239.1 L315 237.1" fill="none" stroke="#000" stroke-width="1.3" stroke-linecap="butt" stroke-linejoin="miter"/>
<path d="M323.2 1.85 L323.2 3.85" fill="none" stroke="#000" stroke-width="1.3" stroke-linecap="butt" stroke-linejoin="miter"/>
<path d="M323.2 239.1 L323.2 237.1" fill="none" stroke="#000" stroke-width="1.3" stroke-linecap="butt" stroke-linejoin="miter"/>
<path d="M331.4 1.85 L331.4 3.85" fill="none" stroke="#000" stroke-width="1.3" stroke-linecap="butt" stroke-linejoin="miter"/>
<path d="M331.4 239.1 L331.4 237.1" fill="none" stroke="#000" stroke-width="1.3" stroke-linecap="butt" stroke-linejoin="miter"/>
<path d="M347.81 1.85 L347.81 3.85" fill="none" stroke="#000" stroke-width="1.3" stroke-linecap="butt" stroke-linejoin="miter"/>
<path d="M347.81 239.1 L347.81 237.1" fill="none" stroke="#000" stroke-width="1.3" stroke-linecap="butt" stroke-linejoin="miter"/>
<path d="M356.01 1.85 L356.01 3.85" fill="none" stroke="#000" stroke-width="1.3" stroke-linecap="butt" stroke-linejoin="miter"/>
<path d="M356.01 239.1 L356.01 237.1" fill="none" stroke="#000" stroke-width="1.3" stroke-linecap="butt" stroke-linejoin="miter"/>
<path d="M364.21 1.85 L364.21 3.85" fill="none" stroke="#000" stroke-width="1.3" stroke-linecap="butt" stroke-linejoin="miter"/>
<path d="M364.21 239.1 L364.21 237.1" fill="none" stroke="#000" stroke-width="1.3" stroke-linecap="butt" stroke-linejoin="miter"/>
<rect x="200.8" y="118.7" width="4" height="4.2" fill="#fff"/>
<path d="M198.8 120.9 L206.8 116.9" fill="none" stroke="#000" stroke-width="1.4" stroke-linecap="butt" stroke-linejoin="miter"/>
<path d="M198.8 124.9 L206.8 120.9" fill="none" stroke="#000" stroke-width="1.4" stroke-linecap="butt" stroke-linejoin="miter"/>
<rect x="365.05" y="118.7" width="4" height="4.2" fill="#fff"/>
<path d="M363.05 120.9 L371.05 116.9" fill="none" stroke="#000" stroke-width="1.4" stroke-linecap="butt" stroke-linejoin="miter"/>
<path d="M363.05 124.9 L371.05 120.9" fill="none" stroke="#000" stroke-width="1.4" stroke-linecap="butt" stroke-linejoin="miter"/>
<text x="0" y="0" font-family='"Liberation Sans", sans-serif' font-size="9.2" fill="#1e1e1e" font-weight="normal" font-style="normal" text-anchor="middle" transform="translate(216.6 251) scale(1 1.07)" stroke="#1e1e1e" stroke-width="0.2">-7.5</text>
<text x="0" y="0" font-family='"Liberation Sans", sans-serif' font-size="9.2" fill="#1e1e1e" font-weight="normal" font-style="normal" text-anchor="middle" transform="translate(257.6 251) scale(1 1.07)" stroke="#1e1e1e" stroke-width="0.2">0.0</text>
<text x="0" y="0" font-family='"Liberation Sans", sans-serif' font-size="9.2" fill="#1e1e1e" font-weight="normal" font-style="normal" text-anchor="middle" transform="translate(298.6 251) scale(1 1.07)" stroke="#1e1e1e" stroke-width="0.2">7.5</text>
<text x="0" y="0" font-family='"Liberation Sans", sans-serif' font-size="9.2" fill="#1e1e1e" font-weight="normal" font-style="normal" text-anchor="middle" transform="translate(339.61 251) scale(1 1.07)" stroke="#1e1e1e" stroke-width="0.2">15.0</text>
<text x="281.5" y="264.5" font-family='"Liberation Sans", sans-serif' font-size="10.95" fill="#1e1e1e" font-weight="normal" font-style="normal" text-anchor="middle" stroke="#1e1e1e" stroke-width="0.2">position (nm)</text>
<path d="M202.8 60.8 L257.6 60.8 L257.6 90.9 L290.4 90.9 L290.4 60.8 L298.2 60.8 L298.2 90.9 L334.1 90.9 L334.1 4.9 L367.05 4.9" fill="none" stroke="#ff1a1a" stroke-width="1.8" stroke-linecap="butt" stroke-linejoin="miter"/>
<path d="M293.5 4.9 L322 4.9" fill="none" stroke="#ff1a1a" stroke-width="1.6" stroke-linecap="butt" stroke-linejoin="miter" stroke-dasharray="5.5 3"/>
<path d="M202.8 74.7 L257.6 74.7" fill="none" stroke="#9c00d8" stroke-width="1.9" stroke-dasharray="7.3 6.9" stroke-dashoffset="0"/>
<path d="M257.6 74.7 L290.4 74.7" fill="none" stroke="#9c00d8" stroke-width="1.9" stroke-linecap="butt" stroke-linejoin="miter"/>
<path d="M290.4 74.7 L298.2 74.7" fill="none" stroke="#9c00d8" stroke-width="1.9" stroke-linecap="butt" stroke-linejoin="miter"/>
<path d="M298.2 74.7 L334.1 74.7" fill="none" stroke="#9c00d8" stroke-width="1.9" stroke-linecap="butt" stroke-linejoin="miter"/>
<path d="M334.1 74.7 L367.05 74.7" fill="none" stroke="#9c00d8" stroke-width="1.9" stroke-dasharray="7.3 6.9" stroke-dashoffset="0"/>
<path d="M202.8 159.2 L257.6 159.2" fill="none" stroke="#9c00d8" stroke-width="1.9" stroke-dasharray="7.3 6.9" stroke-dashoffset="0"/>
<path d="M257.6 159.2 L290.4 159.2" fill="none" stroke="#9c00d8" stroke-width="1.9" stroke-dasharray="7.3 6.9" stroke-dashoffset="0"/>
<path d="M290.4 159.2 L298.2 159.2" fill="none" stroke="#9c00d8" stroke-width="1.9" stroke-dasharray="7.3 6.9" stroke-dashoffset="0"/>
<path d="M298.2 159.2 L334.1 159.2" fill="none" stroke="#9c00d8" stroke-width="1.9" stroke-dasharray="7.3 6.9" stroke-dashoffset="0"/>
<path d="M334.1 159.2 L367.05 159.2" fill="none" stroke="#9c00d8" stroke-width="1.9" stroke-dasharray="7.3 6.9" stroke-dashoffset="0"/>
<path d="M202.8 189.3 L257.1 189.3 L257.1 187.2 L290 187.2 L290 189.3 L298.7 189.3 L298.7 187.2 L334.1 187.2 L334.1 177.8 L367.05 177.8" fill="none" stroke="#1a1aff" stroke-width="1.7" stroke-linecap="butt" stroke-linejoin="miter"/>
<text x="214.3" y="17.5" font-family='"Liberation Sans", sans-serif' font-size="11.3" fill="#1e1e1e" font-weight="normal" font-style="normal" text-anchor="start" stroke="#1e1e1e" stroke-width="0.2">b)</text>
<text x="0" y="0" font-family='"Liberation Sans", sans-serif' font-size="12.6" fill="#ff1a1a" font-weight="bold" font-style="normal" text-anchor="start" transform="translate(210.8 55.4) scale(0.92 1)" stroke="#ff1a1a" stroke-width="0.45">Γ</text>
<g transform="translate(239.8 34.2) scale(1 1)" font-family='"Liberation Serif", serif' fill="#333333" stroke="#333333" stroke-width="0.15">
<text x="0" y="0" font-size="12">Δ</text>
<text x="7.68" y="0" font-size="12" font-style="italic">E</text>
<text x="15.42" y="-4.1" font-size="8.3" font-style="italic">LB</text>
<text x="14.82" y="3.2" font-size="8.3" font-style="italic">C</text>
</g>
<text x="242.4" y="46.6" font-family='"Liberation Sans", sans-serif' font-size="7.5" fill="#8436c8" font-weight="bold" font-style="normal" text-anchor="start">17 meV</text>
<g transform="translate(287.5 23.7) scale(1 1)" font-family='"Liberation Serif", serif' fill="#333333" stroke="#333333" stroke-width="0.15">
<text x="0" y="0" font-size="12">Δ</text>
<text x="7.68" y="0" font-size="12" font-style="italic">E</text>
<text x="15.42" y="-4.1" font-size="8.3" font-style="italic">UB</text>
<text x="14.82" y="3.2" font-size="8.3" font-style="italic">C</text>
</g>
<text x="282.2" y="34.3" font-family='"Liberation Sans", sans-serif' font-size="7.5" fill="#8436c8" font-weight="bold" font-style="normal" text-anchor="start">93 meV</text>
<path d="M248.2 49.8 L248.2 57.3" fill="none" stroke="#8060c0" stroke-width="1.1" stroke-linecap="butt" stroke-linejoin="miter"/>
<path d="M248.2 59.3 L246.2 55.1 L248.2 56.3 L250.2 55.1 Z" fill="#8060c0"/>
<path d="M248.2 85.5 L248.2 77.2" fill="none" stroke="#8060c0" stroke-width="1.1" stroke-linecap="butt" stroke-linejoin="miter"/>
<path d="M248.2 75.2 L246.2 79.4 L248.2 78.2 L250.2 79.4 Z" fill="#8060c0"/>
<path d="M317.9 7.3 L317.9 72.3" fill="none" stroke="#8060c0" stroke-width="1.1" stroke-linecap="butt" stroke-linejoin="miter"/>
<path d="M317.9 5.3 L315.9 9.5 L317.9 8.3 L319.9 9.5 Z" fill="#8060c0"/>
<path d="M317.9 74.3 L315.9 70.1 L317.9 71.3 L319.9 70.1 Z" fill="#8060c0"/>
<path d="M213 62.5 L213 187.7" fill="none" stroke="#1a1a1a" stroke-width="1.3" stroke-linecap="butt" stroke-linejoin="miter"/>
<path d="M213 61 L210.1 66.2 L213 65 L215.9 66.2 Z" fill="#1a1a1a"/>
<path d="M213 189.2 L210.1 184 L213 185.2 L215.9 184 Z" fill="#1a1a1a"/>
<path d="M290.4 62.5 L290.4 185.6" fill="none" stroke="#1a1a1a" stroke-width="1.3" stroke-linecap="butt" stroke-linejoin="miter"/>
<path d="M290.4 61 L287.5 66.2 L290.4 65 L293.3 66.2 Z" fill="#1a1a1a"/>
<path d="M290.4 187.1 L287.5 181.9 L290.4 183.1 L293.3 181.9 Z" fill="#1a1a1a"/>
<g transform="translate(216.2 106.2) scale(1 1)" font-family='"Liberation Serif", serif' fill="#333333" stroke="#333333" stroke-width="0.15">
<text x="0" y="0" font-size="12" font-style="italic">E</text>
<text x="7.74" y="-4.1" font-size="8.3" font-style="italic">LB</text>
<text x="7.14" y="3.2" font-size="8.3" font-style="italic"><tspan font-style="normal">Γ</tspan>−LH</text>
</g>
<text x="0" y="0" font-family='"Liberation Sans", sans-serif' font-size="10.15" fill="#1e1e1e" font-weight="normal" font-style="normal" text-anchor="start" transform="translate(219.9 115.5) rotate(90)" stroke="#1e1e1e" stroke-width="0.2">2194 nm</text>
<g transform="translate(258.7 131) scale(1 1)" font-family='"Liberation Serif", serif' fill="#333333" stroke="#333333" stroke-width="0.15">
<text x="0" y="0" font-size="12" font-style="italic">E</text>
<text x="7.74" y="-4.1" font-size="8.3" font-style="italic">MB</text>
<text x="7.14" y="3.2" font-size="8.3" font-style="italic"><tspan font-style="normal">Γ</tspan>−LH</text>
</g>
<text x="0" y="0" font-family='"Liberation Sans", sans-serif' font-size="10.15" fill="#1e1e1e" font-weight="normal" font-style="normal" text-anchor="start" transform="translate(294.7 109) rotate(90)" stroke="#1e1e1e" stroke-width="0.2">2224 nm</text>
<text x="0" y="0" font-family='"Liberation Sans", sans-serif' font-size="11.3" fill="#1a1aff" font-weight="normal" font-style="normal" text-anchor="start" transform="translate(208 200.2) scale(1 0.93)" stroke="#1a1aff" stroke-width="0.3">LH</text>
<rect x="378.2" y="1.85" width="164.4" height="237.25" fill="none" stroke="#000" stroke-width="1.7" stroke-linejoin="round"/>
<path d="M378.2 24.3 L381.7 24.3" fill="none" stroke="#000" stroke-width="1.3" stroke-linecap="butt" stroke-linejoin="miter"/>
<path d="M542.6 24.3 L539.1 24.3" fill="none" stroke="#000" stroke-width="1.3" stroke-linecap="butt" stroke-linejoin="miter"/>
<path d="M378.2 62.5 L381.7 62.5" fill="none" stroke="#000" stroke-width="1.3" stroke-linecap="butt" stroke-linejoin="miter"/>
<path d="M542.6 62.5 L539.1 62.5" fill="none" stroke="#000" stroke-width="1.3" stroke-linecap="butt" stroke-linejoin="miter"/>
<path d="M378.2 101.2 L381.7 101.2" fill="none" stroke="#000" stroke-width="1.3" stroke-linecap="butt" stroke-linejoin="miter"/>
<path d="M542.6 101.2 L539.1 101.2" fill="none" stroke="#000" stroke-width="1.3" stroke-linecap="butt" stroke-linejoin="miter"/>
<path d="M378.2 134 L381.7 134" fill="none" stroke="#000" stroke-width="1.3" stroke-linecap="butt" stroke-linejoin="miter"/>
<path d="M542.6 134 L539.1 134" fill="none" stroke="#000" stroke-width="1.3" stroke-linecap="butt" stroke-linejoin="miter"/>
<path d="M378.2 172.3 L381.7 172.3" fill="none" stroke="#000" stroke-width="1.3" stroke-linecap="butt" stroke-linejoin="miter"/>
<path d="M542.6 172.3 L539.1 172.3" fill="none" stroke="#000" stroke-width="1.3" stroke-linecap="butt" stroke-linejoin="miter"/>
<path d="M378.2 210.6 L381.7 210.6" fill="none" stroke="#000" stroke-width="1.3" stroke-linecap="butt" stroke-linejoin="miter"/>
<path d="M542.6 210.6 L539.1 210.6" fill="none" stroke="#000" stroke-width="1.3" stroke-linecap="butt" stroke-linejoin="miter"/>
<path d="M378.2 8.9 L380.2 8.9" fill="none" stroke="#000" stroke-width="1.3" stroke-linecap="butt" stroke-linejoin="miter"/>
<path d="M542.6 8.9 L540.6 8.9" fill="none" stroke="#000" stroke-width="1.3" stroke-linecap="butt" stroke-linejoin="miter"/>
<path d="M378.2 16.6 L380.2 16.6" fill="none" stroke="#000" stroke-width="1.3" stroke-linecap="butt" stroke-linejoin="miter"/>
<path d="M542.6 16.6 L540.6 16.6" fill="none" stroke="#000" stroke-width="1.3" stroke-linecap="butt" stroke-linejoin="miter"/>
<path d="M378.2 32 L380.2 32" fill="none" stroke="#000" stroke-width="1.3" stroke-linecap="butt" stroke-linejoin="miter"/>
<path d="M542.6 32 L540.6 32" fill="none" stroke="#000" stroke-width="1.3" stroke-linecap="butt" stroke-linejoin="miter"/>
<path d="M378.2 39.7 L380.2 39.7" fill="none" stroke="#000" stroke-width="1.3" stroke-linecap="butt" stroke-linejoin="miter"/>
<path d="M542.6 39.7 L540.6 39.7" fill="none" stroke="#000" stroke-width="1.3" stroke-linecap="butt" stroke-linejoin="miter"/>
<path d="M378.2 47.4 L380.2 47.4" fill="none" stroke="#000" stroke-width="1.3" stroke-linecap="butt" stroke-linejoin="miter"/>
<path d="M542.6 47.4 L540.6 47.4" fill="none" stroke="#000" stroke-width="1.3" stroke-linecap="butt" stroke-linejoin="miter"/>
<path d="M378.2 55.1 L380.2 55.1" fill="none" stroke="#000" stroke-width="1.3" stroke-linecap="butt" stroke-linejoin="miter"/>
<path d="M542.6 55.1 L540.6 55.1" fill="none" stroke="#000" stroke-width="1.3" stroke-linecap="butt" stroke-linejoin="miter"/>
<path d="M378.2 70.5 L380.2 70.5" fill="none" stroke="#000" stroke-width="1.3" stroke-linecap="butt" stroke-linejoin="miter"/>
<path d="M542.6 70.5 L540.6 70.5" fill="none" stroke="#000" stroke-width="1.3" stroke-linecap="butt" stroke-linejoin="miter"/>
<path d="M378.2 78.2 L380.2 78.2" fill="none" stroke="#000" stroke-width="1.3" stroke-linecap="butt" stroke-linejoin="miter"/>
<path d="M542.6 78.2 L540.6 78.2" fill="none" stroke="#000" stroke-width="1.3" stroke-linecap="butt" stroke-linejoin="miter"/>
<path d="M378.2 85.9 L380.2 85.9" fill="none" stroke="#000" stroke-width="1.3" stroke-linecap="butt" stroke-linejoin="miter"/>
<path d="M542.6 85.9 L540.6 85.9" fill="none" stroke="#000" stroke-width="1.3" stroke-linecap="butt" stroke-linejoin="miter"/>
<path d="M378.2 93.6 L380.2 93.6" fill="none" stroke="#000" stroke-width="1.3" stroke-linecap="butt" stroke-linejoin="miter"/>
<path d="M542.6 93.6 L540.6 93.6" fill="none" stroke="#000" stroke-width="1.3" stroke-linecap="butt" stroke-linejoin="miter"/>
<path d="M378.2 109 L380.2 109" fill="none" stroke="#000" stroke-width="1.3" stroke-linecap="butt" stroke-linejoin="miter"/>
<path d="M542.6 109 L540.6 109" fill="none" stroke="#000" stroke-width="1.3" stroke-linecap="butt" stroke-linejoin="miter"/>
<path d="M378.2 116.7 L380.2 116.7" fill="none" stroke="#000" stroke-width="1.3" stroke-linecap="butt" stroke-linejoin="miter"/>
<path d="M542.6 116.7 L540.6 116.7" fill="none" stroke="#000" stroke-width="1.3" stroke-linecap="butt" stroke-linejoin="miter"/>
<path d="M378.2 126.35 L380.2 126.35" fill="none" stroke="#000" stroke-width="1.3" stroke-linecap="butt" stroke-linejoin="miter"/>
<path d="M542.6 126.35 L540.6 126.35" fill="none" stroke="#000" stroke-width="1.3" stroke-linecap="butt" stroke-linejoin="miter"/>
<path d="M378.2 141.65 L380.2 141.65" fill="none" stroke="#000" stroke-width="1.3" stroke-linecap="butt" stroke-linejoin="miter"/>
<path d="M542.6 141.65 L540.6 141.65" fill="none" stroke="#000" stroke-width="1.3" stroke-linecap="butt" stroke-linejoin="miter"/>
<path d="M378.2 149.3 L380.2 149.3" fill="none" stroke="#000" stroke-width="1.3" stroke-linecap="butt" stroke-linejoin="miter"/>
<path d="M542.6 149.3 L540.6 149.3" fill="none" stroke="#000" stroke-width="1.3" stroke-linecap="butt" stroke-linejoin="miter"/>
<path d="M378.2 156.95 L380.2 156.95" fill="none" stroke="#000" stroke-width="1.3" stroke-linecap="butt" stroke-linejoin="miter"/>
<path d="M542.6 156.95 L540.6 156.95" fill="none" stroke="#000" stroke-width="1.3" stroke-linecap="butt" stroke-linejoin="miter"/>
<path d="M378.2 164.6 L380.2 164.6" fill="none" stroke="#000" stroke-width="1.3" stroke-linecap="butt" stroke-linejoin="miter"/>
<path d="M542.6 164.6 L540.6 164.6" fill="none" stroke="#000" stroke-width="1.3" stroke-linecap="butt" stroke-linejoin="miter"/>
<path d="M378.2 179.9 L380.2 179.9" fill="none" stroke="#000" stroke-width="1.3" stroke-linecap="butt" stroke-linejoin="miter"/>
<path d="M542.6 179.9 L540.6 179.9" fill="none" stroke="#000" stroke-width="1.3" stroke-linecap="butt" stroke-linejoin="miter"/>
<path d="M378.2 187.55 L380.2 187.55" fill="none" stroke="#000" stroke-width="1.3" stroke-linecap="butt" stroke-linejoin="miter"/>
<path d="M542.6 187.55 L540.6 187.55" fill="none" stroke="#000" stroke-width="1.3" stroke-linecap="butt" stroke-linejoin="miter"/>
<path d="M378.2 195.2 L380.2 195.2" fill="none" stroke="#000" stroke-width="1.3" stroke-linecap="butt" stroke-linejoin="miter"/>
<path d="M542.6 195.2 L540.6 195.2" fill="none" stroke="#000" stroke-width="1.3" stroke-linecap="butt" stroke-linejoin="miter"/>
<path d="M378.2 202.85 L380.2 202.85" fill="none" stroke="#000" stroke-width="1.3" stroke-linecap="butt" stroke-linejoin="miter"/>
<path d="M542.6 202.85 L540.6 202.85" fill="none" stroke="#000" stroke-width="1.3" stroke-linecap="butt" stroke-linejoin="miter"/>
<path d="M378.2 218.15 L380.2 218.15" fill="none" stroke="#000" stroke-width="1.3" stroke-linecap="butt" stroke-linejoin="miter"/>
<path d="M542.6 218.15 L540.6 218.15" fill="none" stroke="#000" stroke-width="1.3" stroke-linecap="butt" stroke-linejoin="miter"/>
<path d="M378.2 225.8 L380.2 225.8" fill="none" stroke="#000" stroke-width="1.3" stroke-linecap="butt" stroke-linejoin="miter"/>
<path d="M542.6 225.8 L540.6 225.8" fill="none" stroke="#000" stroke-width="1.3" stroke-linecap="butt" stroke-linejoin="miter"/>
<path d="M378.2 233.45 L380.2 233.45" fill="none" stroke="#000" stroke-width="1.3" stroke-linecap="butt" stroke-linejoin="miter"/>
<path d="M542.6 233.45 L540.6 233.45" fill="none" stroke="#000" stroke-width="1.3" stroke-linecap="butt" stroke-linejoin="miter"/>
<path d="M392.13 1.85 L392.13 5.35" fill="none" stroke="#000" stroke-width="1.3" stroke-linecap="butt" stroke-linejoin="miter"/>
<path d="M392.13 239.1 L392.13 235.6" fill="none" stroke="#000" stroke-width="1.3" stroke-linecap="butt" stroke-linejoin="miter"/>
<path d="M433.1 1.85 L433.1 5.35" fill="none" stroke="#000" stroke-width="1.3" stroke-linecap="butt" stroke-linejoin="miter"/>
<path d="M433.1 239.1 L433.1 235.6" fill="none" stroke="#000" stroke-width="1.3" stroke-linecap="butt" stroke-linejoin="miter"/>
<path d="M474.07 1.85 L474.07 5.35" fill="none" stroke="#000" stroke-width="1.3" stroke-linecap="butt" stroke-linejoin="miter"/>
<path d="M474.07 239.1 L474.07 235.6" fill="none" stroke="#000" stroke-width="1.3" stroke-linecap="butt" stroke-linejoin="miter"/>
<path d="M515.05 1.85 L515.05 5.35" fill="none" stroke="#000" stroke-width="1.3" stroke-linecap="butt" stroke-linejoin="miter"/>
<path d="M515.05 239.1 L515.05 235.6" fill="none" stroke="#000" stroke-width="1.3" stroke-linecap="butt" stroke-linejoin="miter"/>
<path d="M383.93 1.85 L383.93 3.85" fill="none" stroke="#000" stroke-width="1.3" stroke-linecap="butt" stroke-linejoin="miter"/>
<path d="M383.93 239.1 L383.93 237.1" fill="none" stroke="#000" stroke-width="1.3" stroke-linecap="butt" stroke-linejoin="miter"/>
<path d="M400.32 1.85 L400.32 3.85" fill="none" stroke="#000" stroke-width="1.3" stroke-linecap="butt" stroke-linejoin="miter"/>
<path d="M400.32 239.1 L400.32 237.1" fill="none" stroke="#000" stroke-width="1.3" stroke-linecap="butt" stroke-linejoin="miter"/>
<path d="M408.52 1.85 L408.52 3.85" fill="none" stroke="#000" stroke-width="1.3" stroke-linecap="butt" stroke-linejoin="miter"/>
<path d="M408.52 239.1 L408.52 237.1" fill="none" stroke="#000" stroke-width="1.3" stroke-linecap="butt" stroke-linejoin="miter"/>
<path d="M416.71 1.85 L416.71 3.85" fill="none" stroke="#000" stroke-width="1.3" stroke-linecap="butt" stroke-linejoin="miter"/>
<path d="M416.71 239.1 L416.71 237.1" fill="none" stroke="#000" stroke-width="1.3" stroke-linecap="butt" stroke-linejoin="miter"/>
<path d="M424.91 1.85 L424.91 3.85" fill="none" stroke="#000" stroke-width="1.3" stroke-linecap="butt" stroke-linejoin="miter"/>
<path d="M424.91 239.1 L424.91 237.1" fill="none" stroke="#000" stroke-width="1.3" stroke-linecap="butt" stroke-linejoin="miter"/>
<path d="M441.29 1.85 L441.29 3.85" fill="none" stroke="#000" stroke-width="1.3" stroke-linecap="butt" stroke-linejoin="miter"/>
<path d="M441.29 239.1 L441.29 237.1" fill="none" stroke="#000" stroke-width="1.3" stroke-linecap="butt" stroke-linejoin="miter"/>
<path d="M449.49 1.85 L449.49 3.85" fill="none" stroke="#000" stroke-width="1.3" stroke-linecap="butt" stroke-linejoin="miter"/>
<path d="M449.49 239.1 L449.49 237.1" fill="none" stroke="#000" stroke-width="1.3" stroke-linecap="butt" stroke-linejoin="miter"/>
<path d="M457.68 1.85 L457.68 3.85" fill="none" stroke="#000" stroke-width="1.3" stroke-linecap="butt" stroke-linejoin="miter"/>
<path d="M457.68 239.1 L457.68 237.1" fill="none" stroke="#000" stroke-width="1.3" stroke-linecap="butt" stroke-linejoin="miter"/>
<path d="M465.88 1.85 L465.88 3.85" fill="none" stroke="#000" stroke-width="1.3" stroke-linecap="butt" stroke-linejoin="miter"/>
<path d="M465.88 239.1 L465.88 237.1" fill="none" stroke="#000" stroke-width="1.3" stroke-linecap="butt" stroke-linejoin="miter"/>
<path d="M482.27 1.85 L482.27 3.85" fill="none" stroke="#000" stroke-width="1.3" stroke-linecap="butt" stroke-linejoin="miter"/>
<path d="M482.27 239.1 L482.27 237.1" fill="none" stroke="#000" stroke-width="1.3" stroke-linecap="butt" stroke-linejoin="miter"/>
<path d="M490.46 1.85 L490.46 3.85" fill="none" stroke="#000" stroke-width="1.3" stroke-linecap="butt" stroke-linejoin="miter"/>
<path d="M490.46 239.1 L490.46 237.1" fill="none" stroke="#000" stroke-width="1.3" stroke-linecap="butt" stroke-linejoin="miter"/>
<path d="M498.66 1.85 L498.66 3.85" fill="none" stroke="#000" stroke-width="1.3" stroke-linecap="butt" stroke-linejoin="miter"/>
<path d="M498.66 239.1 L498.66 237.1" fill="none" stroke="#000" stroke-width="1.3" stroke-linecap="butt" stroke-linejoin="miter"/>
<path d="M506.85 1.85 L506.85 3.85" fill="none" stroke="#000" stroke-width="1.3" stroke-linecap="butt" stroke-linejoin="miter"/>
<path d="M506.85 239.1 L506.85 237.1" fill="none" stroke="#000" stroke-width="1.3" stroke-linecap="butt" stroke-linejoin="miter"/>
<path d="M523.24 1.85 L523.24 3.85" fill="none" stroke="#000" stroke-width="1.3" stroke-linecap="butt" stroke-linejoin="miter"/>
<path d="M523.24 239.1 L523.24 237.1" fill="none" stroke="#000" stroke-width="1.3" stroke-linecap="butt" stroke-linejoin="miter"/>
<path d="M531.43 1.85 L531.43 3.85" fill="none" stroke="#000" stroke-width="1.3" stroke-linecap="butt" stroke-linejoin="miter"/>
<path d="M531.43 239.1 L531.43 237.1" fill="none" stroke="#000" stroke-width="1.3" stroke-linecap="butt" stroke-linejoin="miter"/>
<path d="M539.63 1.85 L539.63 3.85" fill="none" stroke="#000" stroke-width="1.3" stroke-linecap="butt" stroke-linejoin="miter"/>
<path d="M539.63 239.1 L539.63 237.1" fill="none" stroke="#000" stroke-width="1.3" stroke-linecap="butt" stroke-linejoin="miter"/>
<rect x="376.2" y="118.7" width="4" height="4.2" fill="#fff"/>
<path d="M374.2 120.9 L382.2 116.9" fill="none" stroke="#000" stroke-width="1.4" stroke-linecap="butt" stroke-linejoin="miter"/>
<path d="M374.2 124.9 L382.2 120.9" fill="none" stroke="#000" stroke-width="1.4" stroke-linecap="butt" stroke-linejoin="miter"/>
<rect x="540.6" y="118.7" width="4" height="4.2" fill="#fff"/>
<path d="M538.6 120.9 L546.6 116.9" fill="none" stroke="#000" stroke-width="1.4" stroke-linecap="butt" stroke-linejoin="miter"/>
<path d="M538.6 124.9 L546.6 120.9" fill="none" stroke="#000" stroke-width="1.4" stroke-linecap="butt" stroke-linejoin="miter"/>
<text x="0" y="0" font-family='"Liberation Sans", sans-serif' font-size="9.2" fill="#1e1e1e" font-weight="normal" font-style="normal" text-anchor="middle" transform="translate(392.13 251) scale(1 1.07)" stroke="#1e1e1e" stroke-width="0.2">-7.5</text>
<text x="0" y="0" font-family='"Liberation Sans", sans-serif' font-size="9.2" fill="#1e1e1e" font-weight="normal" font-style="normal" text-anchor="middle" transform="translate(433.1 251) scale(1 1.07)" stroke="#1e1e1e" stroke-width="0.2">0.0</text>
<text x="0" y="0" font-family='"Liberation Sans", sans-serif' font-size="9.2" fill="#1e1e1e" font-weight="normal" font-style="normal" text-anchor="middle" transform="translate(474.07 251) scale(1 1.07)" stroke="#1e1e1e" stroke-width="0.2">7.5</text>
<text x="0" y="0" font-family='"Liberation Sans", sans-serif' font-size="9.2" fill="#1e1e1e" font-weight="normal" font-style="normal" text-anchor="middle" transform="translate(515.05 251) scale(1 1.07)" stroke="#1e1e1e" stroke-width="0.2">15.0</text>
<text x="457.25" y="264.5" font-family='"Liberation Sans", sans-serif' font-size="10.86" fill="#1e1e1e" font-weight="normal" font-style="normal" text-anchor="middle" stroke="#1e1e1e" stroke-width="0.2">position (nm)</text>
<path d="M378.2 62.4 L432.9 62.4 L432.9 67.1 L465.6 67.1 L465.6 62.4 L474.3 62.4 L474.3 67.1 L509.4 67.1 L509.4 49.3 L542.6 49.3" fill="none" stroke="#00f500" stroke-width="1.85" stroke-linecap="butt" stroke-linejoin="miter"/>
<path d="M378.2 180 L432.6 180 L432.6 153.3 L465.9 153.3 L465.9 180 L474.4 180 L474.4 153.3 L509.9 153.3 L509.9 220.7 L542.6 220.7" fill="none" stroke="#111" stroke-width="1.9" stroke-linecap="butt" stroke-linejoin="miter"/>
<path d="M378.2 74.7 L432.9 74.7" fill="none" stroke="#9c00d8" stroke-width="1.9" stroke-dasharray="7.3 6.9" stroke-dashoffset="0"/>
<path d="M432.9 74.7 L465.6 74.7" fill="none" stroke="#9c00d8" stroke-width="1.9" stroke-dasharray="7.3 6.9" stroke-dashoffset="0"/>
<path d="M465.6 74.7 L474.3 74.7" fill="none" stroke="#9c00d8" stroke-width="1.9" stroke-dasharray="7.3 6.9" stroke-dashoffset="0"/>
<path d="M474.3 74.7 L509.4 74.7" fill="none" stroke="#9c00d8" stroke-width="1.9" stroke-dasharray="7.3 6.9" stroke-dashoffset="0"/>
<path d="M509.4 74.7 L542.6 74.7" fill="none" stroke="#9c00d8" stroke-width="1.9" stroke-dasharray="7.3 6.9" stroke-dashoffset="0"/>
<path d="M378.2 159.2 L432.6 159.2" fill="none" stroke="#9c00d8" stroke-width="1.9" stroke-dasharray="7.3 6.9" stroke-dashoffset="0"/>
<path d="M432.6 159.2 L465.9 159.2" fill="none" stroke="#9c00d8" stroke-width="1.9" stroke-linecap="butt" stroke-linejoin="miter"/>
<path d="M465.9 159.2 L474.4 159.2" fill="none" stroke="#9c00d8" stroke-width="1.9" stroke-linecap="butt" stroke-linejoin="miter"/>
<path d="M474.4 159.2 L509.9 159.2" fill="none" stroke="#9c00d8" stroke-width="1.9" stroke-linecap="butt" stroke-linejoin="miter"/>
<path d="M509.9 159.2 L542.6 159.2" fill="none" stroke="#9c00d8" stroke-width="1.9" stroke-dasharray="7.3 6.9" stroke-dashoffset="0"/>
<text x="385.5" y="17.3" font-family='"Liberation Sans", sans-serif' font-size="11.3" fill="#1e1e1e" font-weight="normal" font-style="normal" text-anchor="start" stroke="#1e1e1e" stroke-width="0.2">c)</text>
<text x="383.6" y="60.8" font-family='"Liberation Sans", sans-serif' font-size="12.4" fill="#148a14" font-weight="bold" font-style="normal" text-anchor="start" stroke="#148a14" stroke-width="0.15">L</text>
<g transform="translate(404.6 57.8) scale(1 1)" font-family='"Liberation Serif", serif' fill="#333333" stroke="#333333" stroke-width="0.15">
<text x="0" y="0" font-size="12" font-style="italic">E</text>
<text x="7.74" y="-4.1" font-size="8.3" font-style="italic">LB</text>
<text x="7.14" y="3.2" font-size="8.3" font-style="italic">L−HH</text>
</g>
<g transform="translate(457.8 57.8) scale(1 1)" font-family='"Liberation Serif", serif' fill="#333333" stroke="#333333" stroke-width="0.15">
<text x="0" y="0" font-size="12" font-style="italic">E</text>
<text x="7.74" y="-4.1" font-size="8.3" font-style="italic">MB</text>
<text x="7.14" y="3.2" font-size="8.3" font-style="italic">L−HH</text>
</g>
<path d="M396.9 65.8 L396.9 178.4" fill="none" stroke="#1a1a1a" stroke-width="1.3" stroke-linecap="butt" stroke-linejoin="miter"/>
<path d="M396.9 64.3 L394 69.5 L396.9 68.3 L399.8 69.5 Z" fill="#1a1a1a"/>
<path d="M396.9 179.9 L394 174.7 L396.9 175.9 L399.8 174.7 Z" fill="#1a1a1a"/>
<path d="M468.3 64.8 L468.3 178.4" fill="none" stroke="#1a1a1a" stroke-width="1.3" stroke-linecap="butt" stroke-linejoin="miter"/>
<path d="M468.3 63.3 L465.4 68.5 L468.3 67.3 L471.2 68.5 Z" fill="#1a1a1a"/>
<path d="M468.3 179.9 L465.4 174.7 L468.3 175.9 L471.2 174.7 Z" fill="#1a1a1a"/>
<text x="0" y="0" font-family='"Liberation Sans", sans-serif' font-size="10.15" fill="#1e1e1e" font-weight="normal" font-style="normal" text-anchor="start" transform="translate(403.9 94.5) rotate(90)" stroke="#1e1e1e" stroke-width="0.2">2235 nm</text>
<text x="0" y="0" font-family='"Liberation Sans", sans-serif' font-size="10.15" fill="#1e1e1e" font-weight="normal" font-style="normal" text-anchor="start" transform="translate(473.3 88) rotate(90)" stroke="#1e1e1e" stroke-width="0.2">2235 nm</text>
<path d="M424.6 148 L424.6 155.6" fill="none" stroke="#8060c0" stroke-width="1.1" stroke-linecap="butt" stroke-linejoin="miter"/>
<path d="M424.6 157.6 L422.6 153.4 L424.6 154.6 L426.6 153.4 Z" fill="#8060c0"/>
<path d="M424.6 192.5 L424.6 183.2" fill="none" stroke="#8060c0" stroke-width="1.1" stroke-linecap="butt" stroke-linejoin="miter"/>
<path d="M424.6 181.2 L422.6 185.4 L424.6 184.2 L426.6 185.4 Z" fill="#8060c0"/>
<path d="M471.3 149.3 L471.3 155.6" fill="none" stroke="#8060c0" stroke-width="1.1" stroke-linecap="butt" stroke-linejoin="miter"/>
<path d="M471.3 157.6 L469.3 153.4 L471.3 154.6 L473.3 153.4 Z" fill="#8060c0"/>
<path d="M471.3 193.5 L471.3 183.2" fill="none" stroke="#8060c0" stroke-width="1.1" stroke-linecap="butt" stroke-linejoin="miter"/>
<path d="M471.3 181.2 L469.3 185.4 L471.3 184.2 L473.3 185.4 Z" fill="#8060c0"/>
<text x="428.6" y="191.5" font-family='"Liberation Sans", sans-serif' font-size="7.5" fill="#8436c8" font-weight="bold" font-style="normal" text-anchor="start">54 meV</text>
<text x="460.6" y="199.5" font-family='"Liberation Sans", sans-serif' font-size="7.5" fill="#8436c8" font-weight="bold" font-style="normal" text-anchor="start">54 meV</text>
<g transform="translate(413.2 203) scale(1 1)" font-family='"Liberation Serif", serif' fill="#333333" stroke="#333333" stroke-width="0.15">
<text x="0" y="0" font-size="12">Δ</text>
<text x="7.68" y="0" font-size="12" font-style="italic">E</text>
<text x="15.42" y="-4.1" font-size="8.3" font-style="italic">LB</text>
<text x="14.82" y="3.2" font-size="8.3" font-style="italic">V</text>
</g>
<g transform="translate(458 215) scale(1 1)" font-family='"Liberation Serif", serif' fill="#333333" stroke="#333333" stroke-width="0.15">
<text x="0" y="0" font-size="12">Δ</text>
<text x="7.68" y="0" font-size="12" font-style="italic">E</text>
<text x="15.42" y="-4.1" font-size="8.3" font-style="italic">MB</text>
<text x="14.82" y="3.2" font-size="8.3" font-style="italic">V</text>
</g>
<path d="M506.4 161.6 L506.4 218.3" fill="none" stroke="#8060c0" stroke-width="1.1" stroke-linecap="butt" stroke-linejoin="miter"/>
<path d="M506.4 159.6 L504.4 163.8 L506.4 162.6 L508.4 163.8 Z" fill="#8060c0"/>
<path d="M506.4 220.3 L504.4 216.1 L506.4 217.3 L508.4 216.1 Z" fill="#8060c0"/>
<g transform="translate(486.7 230) scale(1 1)" font-family='"Liberation Serif", serif' fill="#333333" stroke="#333333" stroke-width="0.15">
<text x="0" y="0" font-size="12">Δ</text>
<text x="7.68" y="0" font-size="12" font-style="italic">E</text>
<text x="15.42" y="-4.1" font-size="8.3" font-style="italic">UB</text>
<text x="14.82" y="3.2" font-size="8.3" font-style="italic">V</text>
</g>
<text x="382" y="196.2" font-family='"Liberation Sans", sans-serif' font-size="10.2" fill="#000" font-weight="bold" font-style="normal" text-anchor="start">HH</text>
<rect x="556.1" y="1.85" width="163.8" height="237.25" fill="none" stroke="#000" stroke-width="1.7" stroke-linejoin="round"/>
<path d="M556.1 24.3 L559.6 24.3" fill="none" stroke="#000" stroke-width="1.3" stroke-linecap="butt" stroke-linejoin="miter"/>
<path d="M719.9 24.3 L716.4 24.3" fill="none" stroke="#000" stroke-width="1.3" stroke-linecap="butt" stroke-linejoin="miter"/>
<path d="M556.1 62.5 L559.6 62.5" fill="none" stroke="#000" stroke-width="1.3" stroke-linecap="butt" stroke-linejoin="miter"/>
<path d="M719.9 62.5 L716.4 62.5" fill="none" stroke="#000" stroke-width="1.3" stroke-linecap="butt" stroke-linejoin="miter"/>
<path d="M556.1 101.2 L559.6 101.2" fill="none" stroke="#000" stroke-width="1.3" stroke-linecap="butt" stroke-linejoin="miter"/>
<path d="M719.9 101.2 L716.4 101.2" fill="none" stroke="#000" stroke-width="1.3" stroke-linecap="butt" stroke-linejoin="miter"/>
<path d="M556.1 134 L559.6 134" fill="none" stroke="#000" stroke-width="1.3" stroke-linecap="butt" stroke-linejoin="miter"/>
<path d="M719.9 134 L716.4 134" fill="none" stroke="#000" stroke-width="1.3" stroke-linecap="butt" stroke-linejoin="miter"/>
<path d="M556.1 172.3 L559.6 172.3" fill="none" stroke="#000" stroke-width="1.3" stroke-linecap="butt" stroke-linejoin="miter"/>
<path d="M719.9 172.3 L716.4 172.3" fill="none" stroke="#000" stroke-width="1.3" stroke-linecap="butt" stroke-linejoin="miter"/>
<path d="M556.1 210.6 L559.6 210.6" fill="none" stroke="#000" stroke-width="1.3" stroke-linecap="butt" stroke-linejoin="miter"/>
<path d="M719.9 210.6 L716.4 210.6" fill="none" stroke="#000" stroke-width="1.3" stroke-linecap="butt" stroke-linejoin="miter"/>
<path d="M556.1 8.9 L558.1 8.9" fill="none" stroke="#000" stroke-width="1.3" stroke-linecap="butt" stroke-linejoin="miter"/>
<path d="M719.9 8.9 L717.9 8.9" fill="none" stroke="#000" stroke-width="1.3" stroke-linecap="butt" stroke-linejoin="miter"/>
<path d="M556.1 16.6 L558.1 16.6" fill="none" stroke="#000" stroke-width="1.3" stroke-linecap="butt" stroke-linejoin="miter"/>
<path d="M719.9 16.6 L717.9 16.6" fill="none" stroke="#000" stroke-width="1.3" stroke-linecap="butt" stroke-linejoin="miter"/>
<path d="M556.1 32 L558.1 32" fill="none" stroke="#000" stroke-width="1.3" stroke-linecap="butt" stroke-linejoin="miter"/>
<path d="M719.9 32 L717.9 32" fill="none" stroke="#000" stroke-width="1.3" stroke-linecap="butt" stroke-linejoin="miter"/>
<path d="M556.1 39.7 L558.1 39.7" fill="none" stroke="#000" stroke-width="1.3" stroke-linecap="butt" stroke-linejoin="miter"/>
<path d="M719.9 39.7 L717.9 39.7" fill="none" stroke="#000" stroke-width="1.3" stroke-linecap="butt" stroke-linejoin="miter"/>
<path d="M556.1 47.4 L558.1 47.4" fill="none" stroke="#000" stroke-width="1.3" stroke-linecap="butt" stroke-linejoin="miter"/>
<path d="M719.9 47.4 L717.9 47.4" fill="none" stroke="#000" stroke-width="1.3" stroke-linecap="butt" stroke-linejoin="miter"/>
<path d="M556.1 55.1 L558.1 55.1" fill="none" stroke="#000" stroke-width="1.3" stroke-linecap="butt" stroke-linejoin="miter"/>
<path d="M719.9 55.1 L717.9 55.1" fill="none" stroke="#000" stroke-width="1.3" stroke-linecap="butt" stroke-linejoin="miter"/>
<path d="M556.1 70.5 L558.1 70.5" fill="none" stroke="#000" stroke-width="1.3" stroke-linecap="butt" stroke-linejoin="miter"/>
<path d="M719.9 70.5 L717.9 70.5" fill="none" stroke="#000" stroke-width="1.3" stroke-linecap="butt" stroke-linejoin="miter"/>
<path d="M556.1 78.2 L558.1 78.2" fill="none" stroke="#000" stroke-width="1.3" stroke-linecap="butt" stroke-linejoin="miter"/>
<path d="M719.9 78.2 L717.9 78.2" fill="none" stroke="#000" stroke-width="1.3" stroke-linecap="butt" stroke-linejoin="miter"/>
<path d="M556.1 85.9 L558.1 85.9" fill="none" stroke="#000" stroke-width="1.3" stroke-linecap="butt" stroke-linejoin="miter"/>
<path d="M719.9 85.9 L717.9 85.9" fill="none" stroke="#000" stroke-width="1.3" stroke-linecap="butt" stroke-linejoin="miter"/>
<path d="M556.1 93.6 L558.1 93.6" fill="none" stroke="#000" stroke-width="1.3" stroke-linecap="butt" stroke-linejoin="miter"/>
<path d="M719.9 93.6 L717.9 93.6" fill="none" stroke="#000" stroke-width="1.3" stroke-linecap="butt" stroke-linejoin="miter"/>
<path d="M556.1 109 L558.1 109" fill="none" stroke="#000" stroke-width="1.3" stroke-linecap="butt" stroke-linejoin="miter"/>
<path d="M719.9 109 L717.9 109" fill="none" stroke="#000" stroke-width="1.3" stroke-linecap="butt" stroke-linejoin="miter"/>
<path d="M556.1 116.7 L558.1 116.7" fill="none" stroke="#000" stroke-width="1.3" stroke-linecap="butt" stroke-linejoin="miter"/>
<path d="M719.9 116.7 L717.9 116.7" fill="none" stroke="#000" stroke-width="1.3" stroke-linecap="butt" stroke-linejoin="miter"/>
<path d="M556.1 126.35 L558.1 126.35" fill="none" stroke="#000" stroke-width="1.3" stroke-linecap="butt" stroke-linejoin="miter"/>
<path d="M719.9 126.35 L717.9 126.35" fill="none" stroke="#000" stroke-width="1.3" stroke-linecap="butt" stroke-linejoin="miter"/>
<path d="M556.1 141.65 L558.1 141.65" fill="none" stroke="#000" stroke-width="1.3" stroke-linecap="butt" stroke-linejoin="miter"/>
<path d="M719.9 141.65 L717.9 141.65" fill="none" stroke="#000" stroke-width="1.3" stroke-linecap="butt" stroke-linejoin="miter"/>
<path d="M556.1 149.3 L558.1 149.3" fill="none" stroke="#000" stroke-width="1.3" stroke-linecap="butt" stroke-linejoin="miter"/>
<path d="M719.9 149.3 L717.9 149.3" fill="none" stroke="#000" stroke-width="1.3" stroke-linecap="butt" stroke-linejoin="miter"/>
<path d="M556.1 156.95 L558.1 156.95" fill="none" stroke="#000" stroke-width="1.3" stroke-linecap="butt" stroke-linejoin="miter"/>
<path d="M719.9 156.95 L717.9 156.95" fill="none" stroke="#000" stroke-width="1.3" stroke-linecap="butt" stroke-linejoin="miter"/>
<path d="M556.1 164.6 L558.1 164.6" fill="none" stroke="#000" stroke-width="1.3" stroke-linecap="butt" stroke-linejoin="miter"/>
<path d="M719.9 164.6 L717.9 164.6" fill="none" stroke="#000" stroke-width="1.3" stroke-linecap="butt" stroke-linejoin="miter"/>
<path d="M556.1 179.9 L558.1 179.9" fill="none" stroke="#000" stroke-width="1.3" stroke-linecap="butt" stroke-linejoin="miter"/>
<path d="M719.9 179.9 L717.9 179.9" fill="none" stroke="#000" stroke-width="1.3" stroke-linecap="butt" stroke-linejoin="miter"/>
<path d="M556.1 187.55 L558.1 187.55" fill="none" stroke="#000" stroke-width="1.3" stroke-linecap="butt" stroke-linejoin="miter"/>
<path d="M719.9 187.55 L717.9 187.55" fill="none" stroke="#000" stroke-width="1.3" stroke-linecap="butt" stroke-linejoin="miter"/>
<path d="M556.1 195.2 L558.1 195.2" fill="none" stroke="#000" stroke-width="1.3" stroke-linecap="butt" stroke-linejoin="miter"/>
<path d="M719.9 195.2 L717.9 195.2" fill="none" stroke="#000" stroke-width="1.3" stroke-linecap="butt" stroke-linejoin="miter"/>
<path d="M556.1 202.85 L558.1 202.85" fill="none" stroke="#000" stroke-width="1.3" stroke-linecap="butt" stroke-linejoin="miter"/>
<path d="M719.9 202.85 L717.9 202.85" fill="none" stroke="#000" stroke-width="1.3" stroke-linecap="butt" stroke-linejoin="miter"/>
<path d="M556.1 218.15 L558.1 218.15" fill="none" stroke="#000" stroke-width="1.3" stroke-linecap="butt" stroke-linejoin="miter"/>
<path d="M719.9 218.15 L717.9 218.15" fill="none" stroke="#000" stroke-width="1.3" stroke-linecap="butt" stroke-linejoin="miter"/>
<path d="M556.1 225.8 L558.1 225.8" fill="none" stroke="#000" stroke-width="1.3" stroke-linecap="butt" stroke-linejoin="miter"/>
<path d="M719.9 225.8 L717.9 225.8" fill="none" stroke="#000" stroke-width="1.3" stroke-linecap="butt" stroke-linejoin="miter"/>
<path d="M556.1 233.45 L558.1 233.45" fill="none" stroke="#000" stroke-width="1.3" stroke-linecap="butt" stroke-linejoin="miter"/>
<path d="M719.9 233.45 L717.9 233.45" fill="none" stroke="#000" stroke-width="1.3" stroke-linecap="butt" stroke-linejoin="miter"/>
<path d="M569 1.85 L569 5.35" fill="none" stroke="#000" stroke-width="1.3" stroke-linecap="butt" stroke-linejoin="miter"/>
<path d="M569 239.1 L569 235.6" fill="none" stroke="#000" stroke-width="1.3" stroke-linecap="butt" stroke-linejoin="miter"/>
<path d="M610 1.85 L610 5.35" fill="none" stroke="#000" stroke-width="1.3" stroke-linecap="butt" stroke-linejoin="miter"/>
<path d="M610 239.1 L610 235.6" fill="none" stroke="#000" stroke-width="1.3" stroke-linecap="butt" stroke-linejoin="miter"/>
<path d="M651 1.85 L651 5.35" fill="none" stroke="#000" stroke-width="1.3" stroke-linecap="butt" stroke-linejoin="miter"/>
<path d="M651 239.1 L651 235.6" fill="none" stroke="#000" stroke-width="1.3" stroke-linecap="butt" stroke-linejoin="miter"/>
<path d="M692 1.85 L692 5.35" fill="none" stroke="#000" stroke-width="1.3" stroke-linecap="butt" stroke-linejoin="miter"/>
<path d="M692 239.1 L692 235.6" fill="none" stroke="#000" stroke-width="1.3" stroke-linecap="butt" stroke-linejoin="miter"/>
<path d="M560.8 1.85 L560.8 3.85" fill="none" stroke="#000" stroke-width="1.3" stroke-linecap="butt" stroke-linejoin="miter"/>
<path d="M560.8 239.1 L560.8 237.1" fill="none" stroke="#000" stroke-width="1.3" stroke-linecap="butt" stroke-linejoin="miter"/>
<path d="M577.2 1.85 L577.2 3.85" fill="none" stroke="#000" stroke-width="1.3" stroke-linecap="butt" stroke-linejoin="miter"/>
<path d="M577.2 239.1 L577.2 237.1" fill="none" stroke="#000" stroke-width="1.3" stroke-linecap="butt" stroke-linejoin="miter"/>
<path d="M585.4 1.85 L585.4 3.85" fill="none" stroke="#000" stroke-width="1.3" stroke-linecap="butt" stroke-linejoin="miter"/>
<path d="M585.4 239.1 L585.4 237.1" fill="none" stroke="#000" stroke-width="1.3" stroke-linecap="butt" stroke-linejoin="miter"/>
<path d="M593.6 1.85 L593.6 3.85" fill="none" stroke="#000" stroke-width="1.3" stroke-linecap="butt" stroke-linejoin="miter"/>
<path d="M593.6 239.1 L593.6 237.1" fill="none" stroke="#000" stroke-width="1.3" stroke-linecap="butt" stroke-linejoin="miter"/>
<path d="M601.8 1.85 L601.8 3.85" fill="none" stroke="#000" stroke-width="1.3" stroke-linecap="butt" stroke-linejoin="miter"/>
<path d="M601.8 239.1 L601.8 237.1" fill="none" stroke="#000" stroke-width="1.3" stroke-linecap="butt" stroke-linejoin="miter"/>
<path d="M618.2 1.85 L618.2 3.85" fill="none" stroke="#000" stroke-width="1.3" stroke-linecap="butt" stroke-linejoin="miter"/>
<path d="M618.2 239.1 L618.2 237.1" fill="none" stroke="#000" stroke-width="1.3" stroke-linecap="butt" stroke-linejoin="miter"/>
<path d="M626.4 1.85 L626.4 3.85" fill="none" stroke="#000" stroke-width="1.3" stroke-linecap="butt" stroke-linejoin="miter"/>
<path d="M626.4 239.1 L626.4 237.1" fill="none" stroke="#000" stroke-width="1.3" stroke-linecap="butt" stroke-linejoin="miter"/>
<path d="M634.6 1.85 L634.6 3.85" fill="none" stroke="#000" stroke-width="1.3" stroke-linecap="butt" stroke-linejoin="miter"/>
<path d="M634.6 239.1 L634.6 237.1" fill="none" stroke="#000" stroke-width="1.3" stroke-linecap="butt" stroke-linejoin="miter"/>
<path d="M642.8 1.85 L642.8 3.85" fill="none" stroke="#000" stroke-width="1.3" stroke-linecap="butt" stroke-linejoin="miter"/>
<path d="M642.8 239.1 L642.8 237.1" fill="none" stroke="#000" stroke-width="1.3" stroke-linecap="butt" stroke-linejoin="miter"/>
<path d="M659.2 1.85 L659.2 3.85" fill="none" stroke="#000" stroke-width="1.3" stroke-linecap="butt" stroke-linejoin="miter"/>
<path d="M659.2 239.1 L659.2 237.1" fill="none" stroke="#000" stroke-width="1.3" stroke-linecap="butt" stroke-linejoin="miter"/>
<path d="M667.4 1.85 L667.4 3.85" fill="none" stroke="#000" stroke-width="1.3" stroke-linecap="butt" stroke-linejoin="miter"/>
<path d="M667.4 239.1 L667.4 237.1" fill="none" stroke="#000" stroke-width="1.3" stroke-linecap="butt" stroke-linejoin="miter"/>
<path d="M675.6 1.85 L675.6 3.85" fill="none" stroke="#000" stroke-width="1.3" stroke-linecap="butt" stroke-linejoin="miter"/>
<path d="M675.6 239.1 L675.6 237.1" fill="none" stroke="#000" stroke-width="1.3" stroke-linecap="butt" stroke-linejoin="miter"/>
<path d="M683.8 1.85 L683.8 3.85" fill="none" stroke="#000" stroke-width="1.3" stroke-linecap="butt" stroke-linejoin="miter"/>
<path d="M683.8 239.1 L683.8 237.1" fill="none" stroke="#000" stroke-width="1.3" stroke-linecap="butt" stroke-linejoin="miter"/>
<path d="M700.21 1.85 L700.21 3.85" fill="none" stroke="#000" stroke-width="1.3" stroke-linecap="butt" stroke-linejoin="miter"/>
<path d="M700.21 239.1 L700.21 237.1" fill="none" stroke="#000" stroke-width="1.3" stroke-linecap="butt" stroke-linejoin="miter"/>
<path d="M708.41 1.85 L708.41 3.85" fill="none" stroke="#000" stroke-width="1.3" stroke-linecap="butt" stroke-linejoin="miter"/>
<path d="M708.41 239.1 L708.41 237.1" fill="none" stroke="#000" stroke-width="1.3" stroke-linecap="butt" stroke-linejoin="miter"/>
<path d="M716.61 1.85 L716.61 3.85" fill="none" stroke="#000" stroke-width="1.3" stroke-linecap="butt" stroke-linejoin="miter"/>
<path d="M716.61 239.1 L716.61 237.1" fill="none" stroke="#000" stroke-width="1.3" stroke-linecap="butt" stroke-linejoin="miter"/>
<rect x="554.1" y="118.7" width="4" height="4.2" fill="#fff"/>
<path d="M552.1 120.9 L560.1 116.9" fill="none" stroke="#000" stroke-width="1.4" stroke-linecap="butt" stroke-linejoin="miter"/>
<path d="M552.1 124.9 L560.1 120.9" fill="none" stroke="#000" stroke-width="1.4" stroke-linecap="butt" stroke-linejoin="miter"/>
<rect x="717.9" y="118.7" width="4" height="4.2" fill="#fff"/>
<path d="M715.9 120.9 L723.9 116.9" fill="none" stroke="#000" stroke-width="1.4" stroke-linecap="butt" stroke-linejoin="miter"/>
<path d="M715.9 124.9 L723.9 120.9" fill="none" stroke="#000" stroke-width="1.4" stroke-linecap="butt" stroke-linejoin="miter"/>
<text x="0" y="0" font-family='"Liberation Sans", sans-serif' font-size="9.2" fill="#1e1e1e" font-weight="normal" font-style="normal" text-anchor="middle" transform="translate(569 251) scale(1 1.07)" stroke="#1e1e1e" stroke-width="0.2">-7.5</text>
<text x="0" y="0" font-family='"Liberation Sans", sans-serif' font-size="9.2" fill="#1e1e1e" font-weight="normal" font-style="normal" text-anchor="middle" transform="translate(610 251) scale(1 1.07)" stroke="#1e1e1e" stroke-width="0.2">0.0</text>
<text x="0" y="0" font-family='"Liberation Sans", sans-serif' font-size="9.2" fill="#1e1e1e" font-weight="normal" font-style="normal" text-anchor="middle" transform="translate(651 251) scale(1 1.07)" stroke="#1e1e1e" stroke-width="0.2">7.5</text>
<text x="0" y="0" font-family='"Liberation Sans", sans-serif' font-size="9.2" fill="#1e1e1e" font-weight="normal" font-style="normal" text-anchor="middle" transform="translate(692 251) scale(1 1.07)" stroke="#1e1e1e" stroke-width="0.2">15.0</text>
<text x="634.6" y="265" font-family='"Liberation Sans", sans-serif' font-size="10.95" fill="#1e1e1e" font-weight="normal" font-style="normal" text-anchor="middle" stroke="#1e1e1e" stroke-width="0.2">position (nm)</text>
<path d="M556.1 62.5 L610.2 62.5 L610.2 67.6 L642.7 67.6 L642.7 62.5 L651.8 62.5 L651.8 67.6 L686.7 67.6 L686.7 49.2 L719.9 49.2" fill="none" stroke="#00f500" stroke-width="1.85" stroke-linecap="butt" stroke-linejoin="miter"/>
<path d="M556.1 74.8 L610.2 74.8" fill="none" stroke="#9c00d8" stroke-width="1.9" stroke-dasharray="7.3 6.9" stroke-dashoffset="0"/>
<path d="M610.2 74.8 L643.3 74.8" fill="none" stroke="#9c00d8" stroke-width="1.9" stroke-dasharray="7.3 6.9" stroke-dashoffset="0"/>
<path d="M643.3 74.8 L651.8 74.8" fill="none" stroke="#9c00d8" stroke-width="1.9" stroke-dasharray="7.3 6.9" stroke-dashoffset="0"/>
<path d="M651.8 74.8 L686.7 74.8" fill="none" stroke="#9c00d8" stroke-width="1.9" stroke-dasharray="7.3 6.9" stroke-dashoffset="0"/>
<path d="M686.7 74.8 L719.9 74.8" fill="none" stroke="#9c00d8" stroke-width="1.9" stroke-dasharray="7.3 6.9" stroke-dashoffset="0"/>
<path d="M556.1 159.2 L610.2 159.2" fill="none" stroke="#9c00d8" stroke-width="1.9" stroke-dasharray="7.3 6.9" stroke-dashoffset="0"/>
<path d="M610.2 159.2 L643.3 159.2" fill="none" stroke="#9c00d8" stroke-width="1.9" stroke-dasharray="7.3 6.9" stroke-dashoffset="0"/>
<path d="M643.3 159.2 L651.8 159.2" fill="none" stroke="#9c00d8" stroke-width="1.9" stroke-dasharray="7.3 6.9" stroke-dashoffset="0"/>
<path d="M651.8 159.2 L686.7 159.2" fill="none" stroke="#9c00d8" stroke-width="1.9" stroke-dasharray="7.3 6.9" stroke-dashoffset="0"/>
<path d="M686.7 159.2 L719.9 159.2" fill="none" stroke="#9c00d8" stroke-width="1.9" stroke-dasharray="7.3 6.9" stroke-dashoffset="0"/>
<path d="M556.1 189.3 L609.8 189.3 L609.8 187.2 L642.6 187.2 L642.6 189.3 L651.4 189.3 L651.4 187.2 L686.6 187.2 L686.6 177.8 L719.9 177.8" fill="none" stroke="#1a1aff" stroke-width="1.7" stroke-linecap="butt" stroke-linejoin="miter"/>
<text x="560.5" y="16.9" font-family='"Liberation Sans", sans-serif' font-size="11.3" fill="#1e1e1e" font-weight="normal" font-style="normal" text-anchor="start" stroke="#1e1e1e" stroke-width="0.2">d)</text>
<text x="559.6" y="60.7" font-family='"Liberation Sans", sans-serif' font-size="12.4" fill="#148a14" font-weight="bold" font-style="normal" text-anchor="start" stroke="#148a14" stroke-width="0.15">L</text>
<g transform="translate(569.3 58.6) scale(1 1)" font-family='"Liberation Serif", serif' fill="#333333" stroke="#333333" stroke-width="0.15">
<text x="0" y="0" font-size="12" font-style="italic">E</text>
<text x="7.74" y="-4.1" font-size="8.3" font-style="italic">LB</text>
<text x="7.14" y="3.2" font-size="8.3" font-style="italic">L−LH</text>
</g>
<g transform="translate(624.2 56.6) scale(1 1)" font-family='"Liberation Serif", serif' fill="#333333" stroke="#333333" stroke-width="0.15">
<text x="0" y="0" font-size="12" font-style="italic">E</text>
<text x="7.74" y="-4.1" font-size="8.3" font-style="italic">MB</text>
<text x="7.14" y="3.2" font-size="8.3" font-style="italic">L−LH</text>
</g>
<g transform="translate(680.3 45.9) scale(1 1)" font-family='"Liberation Serif", serif' fill="#333333" stroke="#333333" stroke-width="0.15">
<text x="0" y="0" font-size="12" font-style="italic">E</text>
<text x="7.74" y="-4.1" font-size="8.3" font-style="italic">UB</text>
<text x="7.14" y="3.2" font-size="8.3" font-style="italic">L−LH</text>
</g>
<path d="M571 65.5 L571 187.7" fill="none" stroke="#1a1a1a" stroke-width="1.3" stroke-linecap="butt" stroke-linejoin="miter"/>
<path d="M571 64 L568.1 69.2 L571 68 L573.9 69.2 Z" fill="#1a1a1a"/>
<path d="M571 189.2 L568.1 184 L571 185.2 L573.9 184 Z" fill="#1a1a1a"/>
<path d="M646.5 64.8 L646.5 187.7" fill="none" stroke="#1a1a1a" stroke-width="1.3" stroke-linecap="butt" stroke-linejoin="miter"/>
<path d="M646.5 63.3 L643.6 68.5 L646.5 67.3 L649.4 68.5 Z" fill="#1a1a1a"/>
<path d="M646.5 189.2 L643.6 184 L646.5 185.2 L649.4 184 Z" fill="#1a1a1a"/>
<path d="M707.4 51.2 L707.4 176.1" fill="none" stroke="#1a1a1a" stroke-width="1.3" stroke-linecap="butt" stroke-linejoin="miter"/>
<path d="M707.4 49.7 L704.5 54.9 L707.4 53.7 L710.3 54.9 Z" fill="#1a1a1a"/>
<path d="M707.4 177.6 L704.5 172.4 L707.4 173.6 L710.3 172.4 Z" fill="#1a1a1a"/>
<path d="M693.9 51.6 L693.9 72.4" fill="none" stroke="#8060c0" stroke-width="1.1" stroke-linecap="butt" stroke-linejoin="miter"/>
<path d="M693.9 49.6 L691.9 53.8 L693.9 52.6 L695.9 53.8 Z" fill="#8060c0"/>
<path d="M693.9 74.4 L691.9 70.2 L693.9 71.4 L695.9 70.2 Z" fill="#8060c0"/>
<g transform="translate(663.8 86.5) scale(1 1)" font-family='"Liberation Serif", serif' fill="#333333" stroke="#333333" stroke-width="0.15">
<text x="0" y="0" font-size="12">Δ′</text>
<text x="10.32" y="0" font-size="12" font-style="italic">E</text>
<text x="18.06" y="-4.1" font-size="8.3" font-style="italic">UB</text>
<text x="17.46" y="3.2" font-size="8.3" font-style="italic">C</text>
</g>
<text x="671.4" y="94.3" font-family='"Liberation Sans", sans-serif' font-size="7.5" fill="#8436c8" font-weight="bold" font-style="normal" text-anchor="start">33 meV</text>
<text x="0" y="0" font-family='"Liberation Sans", sans-serif' font-size="10.15" fill="#1e1e1e" font-weight="normal" font-style="normal" text-anchor="start" transform="translate(575.5 97.2) rotate(90)" stroke="#1e1e1e" stroke-width="0.2">2170 nm</text>
<text x="0" y="0" font-family='"Liberation Sans", sans-serif' font-size="10.15" fill="#1e1e1e" font-weight="normal" font-style="normal" text-anchor="start" transform="translate(652.1 93.3) rotate(90)" stroke="#1e1e1e" stroke-width="0.2">2137 nm</text>
<text x="0" y="0" font-family='"Liberation Sans", sans-serif' font-size="10.15" fill="#1e1e1e" font-weight="normal" font-style="normal" text-anchor="start" transform="translate(694.2 107.4) rotate(90)" stroke="#1e1e1e" stroke-width="0.2">2182 nm</text>
<path d="M694.1 161.6 L694.1 174.9" fill="none" stroke="#8060c0" stroke-width="1.1" stroke-linecap="butt" stroke-linejoin="miter"/>
<path d="M694.1 159.6 L692.1 163.8 L694.1 162.6 L696.1 163.8 Z" fill="#8060c0"/>
<path d="M694.1 176.9 L692.1 172.7 L694.1 173.9 L696.1 172.7 Z" fill="#8060c0"/>
<text x="670.6" y="196.7" font-family='"Liberation Sans", sans-serif' font-size="7.5" fill="#8436c8" font-weight="bold" font-style="normal" text-anchor="start">49 meV</text>
<g transform="translate(662.1 210.8) scale(1 1)" font-family='"Liberation Serif", serif' fill="#333333" stroke="#333333" stroke-width="0.15">
<text x="0" y="0" font-size="12">Δ′</text>
<text x="10.32" y="0" font-size="12" font-style="italic">E</text>
<text x="18.06" y="-4.1" font-size="8.3" font-style="italic">UB</text>
<text x="17.46" y="3.2" font-size="8.3" font-style="italic">V</text>
</g>
<text x="0" y="0" font-family='"Liberation Sans", sans-serif' font-size="11.3" fill="#1a1aff" font-weight="normal" font-style="normal" text-anchor="start" transform="translate(559.2 204.2) scale(1 0.93)" stroke="#1a1aff" stroke-width="0.3">LH</text>
<rect x="21.15" y="298.9" width="158.6" height="237.1" fill="none" stroke="#000" stroke-width="1.7" stroke-linejoin="round"/>
<path d="M21.15 331.7 L24.65 331.7" fill="none" stroke="#000" stroke-width="1.3" stroke-linecap="butt" stroke-linejoin="miter"/>
<path d="M179.75 331.7 L176.25 331.7" fill="none" stroke="#000" stroke-width="1.3" stroke-linecap="butt" stroke-linejoin="miter"/>
<path d="M21.15 370.4 L24.65 370.4" fill="none" stroke="#000" stroke-width="1.3" stroke-linecap="butt" stroke-linejoin="miter"/>
<path d="M179.75 370.4 L176.25 370.4" fill="none" stroke="#000" stroke-width="1.3" stroke-linecap="butt" stroke-linejoin="miter"/>
<path d="M21.15 409.3 L24.65 409.3" fill="none" stroke="#000" stroke-width="1.3" stroke-linecap="butt" stroke-linejoin="miter"/>
<path d="M179.75 409.3 L176.25 409.3" fill="none" stroke="#000" stroke-width="1.3" stroke-linecap="butt" stroke-linejoin="miter"/>
<path d="M21.15 430.4 L24.65 430.4" fill="none" stroke="#000" stroke-width="1.3" stroke-linecap="butt" stroke-linejoin="miter"/>
<path d="M179.75 430.4 L176.25 430.4" fill="none" stroke="#000" stroke-width="1.3" stroke-linecap="butt" stroke-linejoin="miter"/>
<path d="M21.15 468.4 L24.65 468.4" fill="none" stroke="#000" stroke-width="1.3" stroke-linecap="butt" stroke-linejoin="miter"/>
<path d="M179.75 468.4 L176.25 468.4" fill="none" stroke="#000" stroke-width="1.3" stroke-linecap="butt" stroke-linejoin="miter"/>
<path d="M21.15 506.5 L24.65 506.5" fill="none" stroke="#000" stroke-width="1.3" stroke-linecap="butt" stroke-linejoin="miter"/>
<path d="M179.75 506.5 L176.25 506.5" fill="none" stroke="#000" stroke-width="1.3" stroke-linecap="butt" stroke-linejoin="miter"/>
<path d="M21.15 308.45 L23.15 308.45" fill="none" stroke="#000" stroke-width="1.3" stroke-linecap="butt" stroke-linejoin="miter"/>
<path d="M179.75 308.45 L177.75 308.45" fill="none" stroke="#000" stroke-width="1.3" stroke-linecap="butt" stroke-linejoin="miter"/>
<path d="M21.15 316.2 L23.15 316.2" fill="none" stroke="#000" stroke-width="1.3" stroke-linecap="butt" stroke-linejoin="miter"/>
<path d="M179.75 316.2 L177.75 316.2" fill="none" stroke="#000" stroke-width="1.3" stroke-linecap="butt" stroke-linejoin="miter"/>
<path d="M21.15 323.95 L23.15 323.95" fill="none" stroke="#000" stroke-width="1.3" stroke-linecap="butt" stroke-linejoin="miter"/>
<path d="M179.75 323.95 L177.75 323.95" fill="none" stroke="#000" stroke-width="1.3" stroke-linecap="butt" stroke-linejoin="miter"/>
<path d="M21.15 339.45 L23.15 339.45" fill="none" stroke="#000" stroke-width="1.3" stroke-linecap="butt" stroke-linejoin="miter"/>
<path d="M179.75 339.45 L177.75 339.45" fill="none" stroke="#000" stroke-width="1.3" stroke-linecap="butt" stroke-linejoin="miter"/>
<path d="M21.15 347.2 L23.15 347.2" fill="none" stroke="#000" stroke-width="1.3" stroke-linecap="butt" stroke-linejoin="miter"/>
<path d="M179.75 347.2 L177.75 347.2" fill="none" stroke="#000" stroke-width="1.3" stroke-linecap="butt" stroke-linejoin="miter"/>
<path d="M21.15 354.95 L23.15 354.95" fill="none" stroke="#000" stroke-width="1.3" stroke-linecap="butt" stroke-linejoin="miter"/>
<path d="M179.75 354.95 L177.75 354.95" fill="none" stroke="#000" stroke-width="1.3" stroke-linecap="butt" stroke-linejoin="miter"/>
<path d="M21.15 362.7 L23.15 362.7" fill="none" stroke="#000" stroke-width="1.3" stroke-linecap="butt" stroke-linejoin="miter"/>
<path d="M179.75 362.7 L177.75 362.7" fill="none" stroke="#000" stroke-width="1.3" stroke-linecap="butt" stroke-linejoin="miter"/>
<path d="M21.15 378.2 L23.15 378.2" fill="none" stroke="#000" stroke-width="1.3" stroke-linecap="butt" stroke-linejoin="miter"/>
<path d="M179.75 378.2 L177.75 378.2" fill="none" stroke="#000" stroke-width="1.3" stroke-linecap="butt" stroke-linejoin="miter"/>
<path d="M21.15 385.95 L23.15 385.95" fill="none" stroke="#000" stroke-width="1.3" stroke-linecap="butt" stroke-linejoin="miter"/>
<path d="M179.75 385.95 L177.75 385.95" fill="none" stroke="#000" stroke-width="1.3" stroke-linecap="butt" stroke-linejoin="miter"/>
<path d="M21.15 393.7 L23.15 393.7" fill="none" stroke="#000" stroke-width="1.3" stroke-linecap="butt" stroke-linejoin="miter"/>
<path d="M179.75 393.7 L177.75 393.7" fill="none" stroke="#000" stroke-width="1.3" stroke-linecap="butt" stroke-linejoin="miter"/>
<path d="M21.15 401.45 L23.15 401.45" fill="none" stroke="#000" stroke-width="1.3" stroke-linecap="butt" stroke-linejoin="miter"/>
<path d="M179.75 401.45 L177.75 401.45" fill="none" stroke="#000" stroke-width="1.3" stroke-linecap="butt" stroke-linejoin="miter"/>
<path d="M21.15 422.8 L23.15 422.8" fill="none" stroke="#000" stroke-width="1.3" stroke-linecap="butt" stroke-linejoin="miter"/>
<path d="M179.75 422.8 L177.75 422.8" fill="none" stroke="#000" stroke-width="1.3" stroke-linecap="butt" stroke-linejoin="miter"/>
<path d="M21.15 438 L23.15 438" fill="none" stroke="#000" stroke-width="1.3" stroke-linecap="butt" stroke-linejoin="miter"/>
<path d="M179.75 438 L177.75 438" fill="none" stroke="#000" stroke-width="1.3" stroke-linecap="butt" stroke-linejoin="miter"/>
<path d="M21.15 445.6 L23.15 445.6" fill="none" stroke="#000" stroke-width="1.3" stroke-linecap="butt" stroke-linejoin="miter"/>
<path d="M179.75 445.6 L177.75 445.6" fill="none" stroke="#000" stroke-width="1.3" stroke-linecap="butt" stroke-linejoin="miter"/>
<path d="M21.15 453.2 L23.15 453.2" fill="none" stroke="#000" stroke-width="1.3" stroke-linecap="butt" stroke-linejoin="miter"/>
<path d="M179.75 453.2 L177.75 453.2" fill="none" stroke="#000" stroke-width="1.3" stroke-linecap="butt" stroke-linejoin="miter"/>
<path d="M21.15 460.8 L23.15 460.8" fill="none" stroke="#000" stroke-width="1.3" stroke-linecap="butt" stroke-linejoin="miter"/>
<path d="M179.75 460.8 L177.75 460.8" fill="none" stroke="#000" stroke-width="1.3" stroke-linecap="butt" stroke-linejoin="miter"/>
<path d="M21.15 476 L23.15 476" fill="none" stroke="#000" stroke-width="1.3" stroke-linecap="butt" stroke-linejoin="miter"/>
<path d="M179.75 476 L177.75 476" fill="none" stroke="#000" stroke-width="1.3" stroke-linecap="butt" stroke-linejoin="miter"/>
<path d="M21.15 483.6 L23.15 483.6" fill="none" stroke="#000" stroke-width="1.3" stroke-linecap="butt" stroke-linejoin="miter"/>
<path d="M179.75 483.6 L177.75 483.6" fill="none" stroke="#000" stroke-width="1.3" stroke-linecap="butt" stroke-linejoin="miter"/>
<path d="M21.15 491.2 L23.15 491.2" fill="none" stroke="#000" stroke-width="1.3" stroke-linecap="butt" stroke-linejoin="miter"/>
<path d="M179.75 491.2 L177.75 491.2" fill="none" stroke="#000" stroke-width="1.3" stroke-linecap="butt" stroke-linejoin="miter"/>
<path d="M21.15 498.8 L23.15 498.8" fill="none" stroke="#000" stroke-width="1.3" stroke-linecap="butt" stroke-linejoin="miter"/>
<path d="M179.75 498.8 L177.75 498.8" fill="none" stroke="#000" stroke-width="1.3" stroke-linecap="butt" stroke-linejoin="miter"/>
<path d="M21.15 514 L23.15 514" fill="none" stroke="#000" stroke-width="1.3" stroke-linecap="butt" stroke-linejoin="miter"/>
<path d="M179.75 514 L177.75 514" fill="none" stroke="#000" stroke-width="1.3" stroke-linecap="butt" stroke-linejoin="miter"/>
<path d="M21.15 521.6 L23.15 521.6" fill="none" stroke="#000" stroke-width="1.3" stroke-linecap="butt" stroke-linejoin="miter"/>
<path d="M179.75 521.6 L177.75 521.6" fill="none" stroke="#000" stroke-width="1.3" stroke-linecap="butt" stroke-linejoin="miter"/>
<path d="M21.15 529.2 L23.15 529.2" fill="none" stroke="#000" stroke-width="1.3" stroke-linecap="butt" stroke-linejoin="miter"/>
<path d="M179.75 529.2 L177.75 529.2" fill="none" stroke="#000" stroke-width="1.3" stroke-linecap="butt" stroke-linejoin="miter"/>
<path d="M32.3 298.9 L32.3 302.4" fill="none" stroke="#000" stroke-width="1.3" stroke-linecap="butt" stroke-linejoin="miter"/>
<path d="M32.3 536 L32.3 532.5" fill="none" stroke="#000" stroke-width="1.3" stroke-linecap="butt" stroke-linejoin="miter"/>
<path d="M57.6 298.9 L57.6 302.4" fill="none" stroke="#000" stroke-width="1.3" stroke-linecap="butt" stroke-linejoin="miter"/>
<path d="M57.6 536 L57.6 532.5" fill="none" stroke="#000" stroke-width="1.3" stroke-linecap="butt" stroke-linejoin="miter"/>
<path d="M75.8 298.9 L75.8 302.4" fill="none" stroke="#000" stroke-width="1.3" stroke-linecap="butt" stroke-linejoin="miter"/>
<path d="M75.8 536 L75.8 532.5" fill="none" stroke="#000" stroke-width="1.3" stroke-linecap="butt" stroke-linejoin="miter"/>
<path d="M100.4 298.9 L100.4 302.4" fill="none" stroke="#000" stroke-width="1.3" stroke-linecap="butt" stroke-linejoin="miter"/>
<path d="M100.4 536 L100.4 532.5" fill="none" stroke="#000" stroke-width="1.3" stroke-linecap="butt" stroke-linejoin="miter"/>
<path d="M131.6 298.9 L131.6 302.4" fill="none" stroke="#000" stroke-width="1.3" stroke-linecap="butt" stroke-linejoin="miter"/>
<path d="M131.6 536 L131.6 532.5" fill="none" stroke="#000" stroke-width="1.3" stroke-linecap="butt" stroke-linejoin="miter"/>
<path d="M157 298.9 L157 302.4" fill="none" stroke="#000" stroke-width="1.3" stroke-linecap="butt" stroke-linejoin="miter"/>
<path d="M157 536 L157 532.5" fill="none" stroke="#000" stroke-width="1.3" stroke-linecap="butt" stroke-linejoin="miter"/>
<path d="M27.24 298.9 L27.24 300.9" fill="none" stroke="#000" stroke-width="1.3" stroke-linecap="butt" stroke-linejoin="miter"/>
<path d="M27.24 536 L27.24 534" fill="none" stroke="#000" stroke-width="1.3" stroke-linecap="butt" stroke-linejoin="miter"/>
<path d="M37.36 298.9 L37.36 300.9" fill="none" stroke="#000" stroke-width="1.3" stroke-linecap="butt" stroke-linejoin="miter"/>
<path d="M37.36 536 L37.36 534" fill="none" stroke="#000" stroke-width="1.3" stroke-linecap="butt" stroke-linejoin="miter"/>
<path d="M42.42 298.9 L42.42 300.9" fill="none" stroke="#000" stroke-width="1.3" stroke-linecap="butt" stroke-linejoin="miter"/>
<path d="M42.42 536 L42.42 534" fill="none" stroke="#000" stroke-width="1.3" stroke-linecap="butt" stroke-linejoin="miter"/>
<path d="M47.48 298.9 L47.48 300.9" fill="none" stroke="#000" stroke-width="1.3" stroke-linecap="butt" stroke-linejoin="miter"/>
<path d="M47.48 536 L47.48 534" fill="none" stroke="#000" stroke-width="1.3" stroke-linecap="butt" stroke-linejoin="miter"/>
<path d="M52.54 298.9 L52.54 300.9" fill="none" stroke="#000" stroke-width="1.3" stroke-linecap="butt" stroke-linejoin="miter"/>
<path d="M52.54 536 L52.54 534" fill="none" stroke="#000" stroke-width="1.3" stroke-linecap="butt" stroke-linejoin="miter"/>
<path d="M62.66 298.9 L62.66 300.9" fill="none" stroke="#000" stroke-width="1.3" stroke-linecap="butt" stroke-linejoin="miter"/>
<path d="M62.66 536 L62.66 534" fill="none" stroke="#000" stroke-width="1.3" stroke-linecap="butt" stroke-linejoin="miter"/>
<path d="M67.72 298.9 L67.72 300.9" fill="none" stroke="#000" stroke-width="1.3" stroke-linecap="butt" stroke-linejoin="miter"/>
<path d="M67.72 536 L67.72 534" fill="none" stroke="#000" stroke-width="1.3" stroke-linecap="butt" stroke-linejoin="miter"/>
<path d="M80.72 298.9 L80.72 300.9" fill="none" stroke="#000" stroke-width="1.3" stroke-linecap="butt" stroke-linejoin="miter"/>
<path d="M80.72 536 L80.72 534" fill="none" stroke="#000" stroke-width="1.3" stroke-linecap="butt" stroke-linejoin="miter"/>
<path d="M85.64 298.9 L85.64 300.9" fill="none" stroke="#000" stroke-width="1.3" stroke-linecap="butt" stroke-linejoin="miter"/>
<path d="M85.64 536 L85.64 534" fill="none" stroke="#000" stroke-width="1.3" stroke-linecap="butt" stroke-linejoin="miter"/>
<path d="M90.56 298.9 L90.56 300.9" fill="none" stroke="#000" stroke-width="1.3" stroke-linecap="butt" stroke-linejoin="miter"/>
<path d="M90.56 536 L90.56 534" fill="none" stroke="#000" stroke-width="1.3" stroke-linecap="butt" stroke-linejoin="miter"/>
<path d="M95.48 298.9 L95.48 300.9" fill="none" stroke="#000" stroke-width="1.3" stroke-linecap="butt" stroke-linejoin="miter"/>
<path d="M95.48 536 L95.48 534" fill="none" stroke="#000" stroke-width="1.3" stroke-linecap="butt" stroke-linejoin="miter"/>
<path d="M105.32 298.9 L105.32 300.9" fill="none" stroke="#000" stroke-width="1.3" stroke-linecap="butt" stroke-linejoin="miter"/>
<path d="M105.32 536 L105.32 534" fill="none" stroke="#000" stroke-width="1.3" stroke-linecap="butt" stroke-linejoin="miter"/>
<path d="M110.24 298.9 L110.24 300.9" fill="none" stroke="#000" stroke-width="1.3" stroke-linecap="butt" stroke-linejoin="miter"/>
<path d="M110.24 536 L110.24 534" fill="none" stroke="#000" stroke-width="1.3" stroke-linecap="butt" stroke-linejoin="miter"/>
<path d="M115.16 298.9 L115.16 300.9" fill="none" stroke="#000" stroke-width="1.3" stroke-linecap="butt" stroke-linejoin="miter"/>
<path d="M115.16 536 L115.16 534" fill="none" stroke="#000" stroke-width="1.3" stroke-linecap="butt" stroke-linejoin="miter"/>
<path d="M120.08 298.9 L120.08 300.9" fill="none" stroke="#000" stroke-width="1.3" stroke-linecap="butt" stroke-linejoin="miter"/>
<path d="M120.08 536 L120.08 534" fill="none" stroke="#000" stroke-width="1.3" stroke-linecap="butt" stroke-linejoin="miter"/>
<path d="M136.68 298.9 L136.68 300.9" fill="none" stroke="#000" stroke-width="1.3" stroke-linecap="butt" stroke-linejoin="miter"/>
<path d="M136.68 536 L136.68 534" fill="none" stroke="#000" stroke-width="1.3" stroke-linecap="butt" stroke-linejoin="miter"/>
<path d="M141.76 298.9 L141.76 300.9" fill="none" stroke="#000" stroke-width="1.3" stroke-linecap="butt" stroke-linejoin="miter"/>
<path d="M141.76 536 L141.76 534" fill="none" stroke="#000" stroke-width="1.3" stroke-linecap="butt" stroke-linejoin="miter"/>
<path d="M146.84 298.9 L146.84 300.9" fill="none" stroke="#000" stroke-width="1.3" stroke-linecap="butt" stroke-linejoin="miter"/>
<path d="M146.84 536 L146.84 534" fill="none" stroke="#000" stroke-width="1.3" stroke-linecap="butt" stroke-linejoin="miter"/>
<path d="M151.92 298.9 L151.92 300.9" fill="none" stroke="#000" stroke-width="1.3" stroke-linecap="butt" stroke-linejoin="miter"/>
<path d="M151.92 536 L151.92 534" fill="none" stroke="#000" stroke-width="1.3" stroke-linecap="butt" stroke-linejoin="miter"/>
<path d="M162.08 298.9 L162.08 300.9" fill="none" stroke="#000" stroke-width="1.3" stroke-linecap="butt" stroke-linejoin="miter"/>
<path d="M162.08 536 L162.08 534" fill="none" stroke="#000" stroke-width="1.3" stroke-linecap="butt" stroke-linejoin="miter"/>
<path d="M167.16 298.9 L167.16 300.9" fill="none" stroke="#000" stroke-width="1.3" stroke-linecap="butt" stroke-linejoin="miter"/>
<path d="M167.16 536 L167.16 534" fill="none" stroke="#000" stroke-width="1.3" stroke-linecap="butt" stroke-linejoin="miter"/>
<path d="M172.24 298.9 L172.24 300.9" fill="none" stroke="#000" stroke-width="1.3" stroke-linecap="butt" stroke-linejoin="miter"/>
<path d="M172.24 536 L172.24 534" fill="none" stroke="#000" stroke-width="1.3" stroke-linecap="butt" stroke-linejoin="miter"/>
<rect x="19.15" y="416.3" width="4" height="4.2" fill="#fff"/>
<path d="M17.15 418.5 L25.15 414.5" fill="none" stroke="#000" stroke-width="1.4" stroke-linecap="butt" stroke-linejoin="miter"/>
<path d="M17.15 422.5 L25.15 418.5" fill="none" stroke="#000" stroke-width="1.4" stroke-linecap="butt" stroke-linejoin="miter"/>
<rect x="177.75" y="416.3" width="4" height="4.2" fill="#fff"/>
<path d="M175.75 418.5 L183.75 414.5" fill="none" stroke="#000" stroke-width="1.4" stroke-linecap="butt" stroke-linejoin="miter"/>
<path d="M175.75 422.5 L183.75 418.5" fill="none" stroke="#000" stroke-width="1.4" stroke-linecap="butt" stroke-linejoin="miter"/>
<rect x="71.9" y="296.9" width="4.2" height="4" fill="#fff"/>
<path d="M70.1 302.4 L73.7 295.4" fill="none" stroke="#000" stroke-width="1.4" stroke-linecap="butt" stroke-linejoin="miter"/>
<path d="M74.3 302.4 L77.9 295.4" fill="none" stroke="#000" stroke-width="1.4" stroke-linecap="butt" stroke-linejoin="miter"/>
<rect x="71.9" y="534" width="4.2" height="4" fill="#fff"/>
<path d="M70.1 539.5 L73.7 532.5" fill="none" stroke="#000" stroke-width="1.4" stroke-linecap="butt" stroke-linejoin="miter"/>
<path d="M74.3 539.5 L77.9 532.5" fill="none" stroke="#000" stroke-width="1.4" stroke-linecap="butt" stroke-linejoin="miter"/>
<rect x="125.2" y="296.9" width="4.2" height="4" fill="#fff"/>
<path d="M123.4 302.4 L127 295.4" fill="none" stroke="#000" stroke-width="1.4" stroke-linecap="butt" stroke-linejoin="miter"/>
<path d="M127.6 302.4 L131.2 295.4" fill="none" stroke="#000" stroke-width="1.4" stroke-linecap="butt" stroke-linejoin="miter"/>
<rect x="125.2" y="534" width="4.2" height="4" fill="#fff"/>
<path d="M123.4 539.5 L127 532.5" fill="none" stroke="#000" stroke-width="1.4" stroke-linecap="butt" stroke-linejoin="miter"/>
<path d="M127.6 539.5 L131.2 532.5" fill="none" stroke="#000" stroke-width="1.4" stroke-linecap="butt" stroke-linejoin="miter"/>
<text x="0" y="0" font-family='"Liberation Sans", sans-serif' font-size="8.1" fill="#1e1e1e" font-weight="normal" font-style="normal" text-anchor="middle" transform="translate(32.3 546) scale(1 0.97)" stroke="#1e1e1e" stroke-width="0.2">-7</text>
<text x="0" y="0" font-family='"Liberation Sans", sans-serif' font-size="8.1" fill="#1e1e1e" font-weight="normal" font-style="normal" text-anchor="middle" transform="translate(57.6 546) scale(1 0.97)" stroke="#1e1e1e" stroke-width="0.2">0</text>
<text x="0" y="0" font-family='"Liberation Sans", sans-serif' font-size="8.1" fill="#1e1e1e" font-weight="normal" font-style="normal" text-anchor="middle" transform="translate(75.8 546) scale(1 0.97)" stroke="#1e1e1e" stroke-width="0.2">18</text>
<text x="0" y="0" font-family='"Liberation Sans", sans-serif' font-size="8.1" fill="#1e1e1e" font-weight="normal" font-style="normal" text-anchor="middle" transform="translate(100.4 546) scale(1 0.97)" stroke="#1e1e1e" stroke-width="0.2">20</text>
<text x="0" y="0" font-family='"Liberation Sans", sans-serif' font-size="8.1" fill="#1e1e1e" font-weight="normal" font-style="normal" text-anchor="middle" transform="translate(131.6 546) scale(1 0.97)" stroke="#1e1e1e" stroke-width="0.2">38.5</text>
<text x="0" y="0" font-family='"Liberation Sans", sans-serif' font-size="8.1" fill="#1e1e1e" font-weight="normal" font-style="normal" text-anchor="middle" transform="translate(157 546) scale(1 0.97)" stroke="#1e1e1e" stroke-width="0.2">42.0</text>
<text x="97.7" y="557.6" font-family='"Liberation Sans", sans-serif' font-size="9.98" fill="#1e1e1e" font-weight="normal" font-style="normal" text-anchor="middle" stroke="#1e1e1e" stroke-width="0.2">position (nm)</text>
<text x="17.3" y="334" font-family='"Liberation Sans", sans-serif' font-size="8.2" fill="#1e1e1e" font-weight="normal" font-style="normal" text-anchor="end" stroke="#1e1e1e" stroke-width="0.2">0.70</text>
<text x="17.3" y="372.7" font-family='"Liberation Sans", sans-serif' font-size="8.2" fill="#1e1e1e" font-weight="normal" font-style="normal" text-anchor="end" stroke="#1e1e1e" stroke-width="0.2">0.63</text>
<text x="17.3" y="411.6" font-family='"Liberation Sans", sans-serif' font-size="8.2" fill="#1e1e1e" font-weight="normal" font-style="normal" text-anchor="end" stroke="#1e1e1e" stroke-width="0.2">0.56</text>
<text x="17.3" y="432.7" font-family='"Liberation Sans", sans-serif' font-size="8.2" fill="#1e1e1e" font-weight="normal" font-style="normal" text-anchor="end" stroke="#1e1e1e" stroke-width="0.2">0.20</text>
<text x="17.3" y="470.7" font-family='"Liberation Sans", sans-serif' font-size="8.2" fill="#1e1e1e" font-weight="normal" font-style="normal" text-anchor="end" stroke="#1e1e1e" stroke-width="0.2">0.10</text>
<text x="17.3" y="508.8" font-family='"Liberation Sans", sans-serif' font-size="8.2" fill="#1e1e1e" font-weight="normal" font-style="normal" text-anchor="end" stroke="#1e1e1e" stroke-width="0.2">0.0</text>
<path d="M21.15 378.8 L57.7 378.8 L57.7 400.3 L71.8 400.3" fill="none" stroke="#ff1a1a" stroke-width="1.8" stroke-linecap="butt" stroke-linejoin="miter"/>
<path d="M75.8 400.3 L87.9 400.3 L87.9 378.8 L112.8 378.8 L112.8 400.3 L143 400.3 L143 332.2 L179.75 332.2" fill="none" stroke="#ff1a1a" stroke-width="1.8" stroke-linecap="butt" stroke-linejoin="miter"/>
<path d="M21.15 396.7 L57.7 396.7" fill="none" stroke="#9c00d8" stroke-width="1.9" stroke-dasharray="2.3 6.4" stroke-dashoffset="0"/>
<path d="M57.7 396.7 L71.8 396.7" fill="none" stroke="#9c00d8" stroke-width="1.9" stroke-linecap="butt" stroke-linejoin="miter"/>
<path d="M75.8 396.7 L87.9 396.7" fill="none" stroke="#9c00d8" stroke-width="1.9" stroke-linecap="butt" stroke-linejoin="miter"/>
<path d="M87.9 396.7 L112.8 396.7" fill="none" stroke="#9c00d8" stroke-width="1.9" stroke-dasharray="2.3 6.4" stroke-dashoffset="0"/>
<path d="M112.8 396.7 L143 396.7" fill="none" stroke="#9c00d8" stroke-width="1.9" stroke-linecap="butt" stroke-linejoin="miter"/>
<path d="M143 396.7 L179.75 396.7" fill="none" stroke="#9c00d8" stroke-width="1.9" stroke-dasharray="2.3 6.4" stroke-dashoffset="0"/>
<path d="M21.15 450.3 L57.4 450.3" fill="none" stroke="#9c00d8" stroke-width="1.9" stroke-dasharray="2.3 6.4" stroke-dashoffset="0"/>
<path d="M57.4 450.3 L72.2 450.3" fill="none" stroke="#9c00d8" stroke-width="1.9" stroke-linecap="butt" stroke-linejoin="miter"/>
<path d="M75.4 450.3 L88 450.3" fill="none" stroke="#9c00d8" stroke-width="1.9" stroke-linecap="butt" stroke-linejoin="miter"/>
<path d="M88 450.3 L112.7 450.3" fill="none" stroke="#9c00d8" stroke-width="1.9" stroke-dasharray="2.3 6.4" stroke-dashoffset="0"/>
<path d="M112.7 450.3 L142.9 450.3" fill="none" stroke="#9c00d8" stroke-width="1.9" stroke-linecap="butt" stroke-linejoin="miter"/>
<path d="M142.9 450.3 L179.75 450.3" fill="none" stroke="#9c00d8" stroke-width="1.9" stroke-dasharray="2.3 6.4" stroke-dashoffset="0"/>
<path d="M21.15 475.3 L57.4 475.3 L57.4 449.2 L72.2 449.2" fill="none" stroke="#111" stroke-width="1.9" stroke-linecap="butt" stroke-linejoin="miter"/>
<path d="M75.4 449.2 L88 449.2 L88 475.3 L112.7 475.3 L112.7 449.2 L142.9 449.2 L142.9 518.2 L179.75 518.2" fill="none" stroke="#111" stroke-width="1.9" stroke-linecap="butt" stroke-linejoin="miter"/>
<text x="25" y="312.2" font-family='"Liberation Sans", sans-serif' font-size="11.3" fill="#1e1e1e" font-weight="normal" font-style="normal" text-anchor="start" stroke="#1e1e1e" stroke-width="0.2">e)</text>
<text x="0" y="0" font-family='"Liberation Sans", sans-serif' font-size="12.6" fill="#ff1a1a" font-weight="bold" font-style="normal" text-anchor="start" transform="translate(27 372.8) scale(0.92 1)" stroke="#ff1a1a" stroke-width="0.45">Γ</text>
<g transform="translate(81.2 362) scale(1 1)" font-family='"Liberation Serif", serif' fill="#333333" stroke="#333333" stroke-width="0.15">
<text x="0" y="0" font-size="12">Δ</text>
<text x="7.68" y="0" font-size="12" font-style="italic">E</text>
<text x="15.42" y="-4.1" font-size="8.3" font-style="italic">MB</text>
<text x="14.82" y="3.2" font-size="8.3" font-style="italic">C</text>
</g>
<text x="94.9" y="371.9" font-family='"Liberation Sans", sans-serif' font-size="7.5" fill="#8436c8" font-weight="bold" font-style="normal" text-anchor="start">35 meV</text>
<path d="M92.6 366.5 L92.6 375.4" fill="none" stroke="#8060c0" stroke-width="1.1" stroke-linecap="butt" stroke-linejoin="miter"/>
<path d="M92.6 377.4 L90.6 373.2 L92.6 374.4 L94.6 373.2 Z" fill="#8060c0"/>
<path d="M92.6 407.5 L92.6 399.4" fill="none" stroke="#8060c0" stroke-width="1.1" stroke-linecap="butt" stroke-linejoin="miter"/>
<path d="M92.6 397.4 L90.6 401.6 L92.6 400.4 L94.6 401.6 Z" fill="#8060c0"/>
<g transform="translate(65.9 390.3) scale(1 1)" font-family='"Liberation Serif", serif' fill="#7b2fc0" stroke="#7b2fc0" stroke-width="0.15">
<text x="0" y="0" font-size="10.6" font-style="italic">n</text>
<text x="5.21" y="2.7" font-size="8.8" font-style="italic"><tspan font-style="normal">1</tspan><tspan font-style="normal">Γ</tspan></text>
</g>
<path d="M28.4 380.5 L28.4 473.7" fill="none" stroke="#1a1a1a" stroke-width="1.3" stroke-linecap="butt" stroke-linejoin="miter"/>
<path d="M28.4 379 L25.5 384.2 L28.4 383 L31.3 384.2 Z" fill="#1a1a1a"/>
<path d="M28.4 475.2 L25.5 470 L28.4 471.2 L31.3 470 Z" fill="#1a1a1a"/>
<g transform="translate(32 407.8) scale(1 1)" font-family='"Liberation Serif", serif' fill="#333333" stroke="#333333" stroke-width="0.15">
<text x="0" y="0" font-size="12" font-style="italic">E</text>
<text x="7.74" y="-4.1" font-size="8.3" font-style="italic">LB</text>
<text x="7.14" y="3.2" font-size="8.3" font-style="italic"><tspan font-style="normal">Γ</tspan>−HH</text>
</g>
<text x="0" y="0" font-family='"Liberation Sans", sans-serif' font-size="10.15" fill="#1e1e1e" font-weight="normal" font-style="normal" text-anchor="start" transform="translate(32.7 414.7) rotate(90)" stroke="#1e1e1e" stroke-width="0.2">2335 nm</text>
<path d="M127.7 396.3 L127.7 447.9" fill="none" stroke="#1a1a1a" stroke-width="1.3" stroke-linecap="butt" stroke-linejoin="miter"/>
<path d="M127.7 394.8 L124.8 400 L127.7 398.8 L130.6 400 Z" fill="#1a1a1a"/>
<path d="M127.7 449.4 L124.8 444.2 L127.7 445.4 L130.6 444.2 Z" fill="#1a1a1a"/>
<g transform="translate(102.4 427.4) scale(1 1)" font-family='"Liberation Serif", serif' fill="#333333" stroke="#333333" stroke-width="0.15">
<text x="0" y="0" font-size="12" font-style="italic">E</text>
<text x="7.74" y="-4.1" font-size="8.3" font-style="italic">QW</text>
</g>
<text x="0" y="0" font-family='"Liberation Sans", sans-serif' font-size="10.15" fill="#1e1e1e" font-weight="normal" font-style="normal" text-anchor="start" transform="translate(134.5 405.5) rotate(90)" stroke="#1e1e1e" stroke-width="0.2">2863 nm</text>
<g transform="translate(61.2 460.4) scale(1 1)" font-family='"Liberation Serif", serif' fill="#7b2fc0" stroke="#7b2fc0" stroke-width="0.15">
<text x="0" y="0" font-size="10.6" font-style="italic">n</text>
<text x="5.21" y="2.8" font-size="8.8" font-style="italic"><tspan font-style="normal">1</tspan>HH</text>
</g>
<text x="25" y="486.3" font-family='"Liberation Sans", sans-serif' font-size="10.2" fill="#000" font-weight="bold" font-style="normal" text-anchor="start">HH</text>
<text x="0" y="0" font-family='"Liberation Sans", sans-serif' font-size="12.2" fill="#1e1e1e" font-weight="normal" font-style="normal" text-anchor="start" transform="translate(37 493) rotate(90) scale(0.9 1)" stroke="#1e1e1e" stroke-width="0.2">Lower</text>
<text x="0" y="0" font-family='"Liberation Sans", sans-serif' font-size="12.2" fill="#1e1e1e" font-weight="normal" font-style="normal" text-anchor="start" transform="translate(24.1 493) rotate(90) scale(0.9 1)" stroke="#1e1e1e" stroke-width="0.2">Barrier</text>
<text x="0" y="0" font-family='"Liberation Sans", sans-serif' font-size="12.2" fill="#1e1e1e" font-weight="normal" font-style="normal" text-anchor="start" transform="translate(63.3 486.3) rotate(90) scale(0.9 1)" stroke="#1e1e1e" stroke-width="0.2">QW1</text>
<text x="0" y="0" font-family='"Liberation Sans", sans-serif' font-size="12.2" fill="#1e1e1e" font-weight="normal" font-style="normal" text-anchor="start" transform="translate(97.5 489) rotate(90) scale(0.9 1)" stroke="#1e1e1e" stroke-width="0.2">Mid.</text>
<text x="0" y="0" font-family='"Liberation Sans", sans-serif' font-size="12.2" fill="#1e1e1e" font-weight="normal" font-style="normal" text-anchor="start" transform="translate(85 489) rotate(90) scale(0.9 1)" stroke="#1e1e1e" stroke-width="0.2">Barrier</text>
<text x="0" y="0" font-family='"Liberation Sans", sans-serif' font-size="12.2" fill="#1e1e1e" font-weight="normal" font-style="normal" text-anchor="start" transform="translate(119.9 485.8) rotate(90) scale(0.9 1)" stroke="#1e1e1e" stroke-width="0.2">QW2</text>
<text x="0" y="0" font-family='"Liberation Sans", sans-serif' font-size="12.2" fill="#1e1e1e" font-weight="normal" font-style="normal" text-anchor="start" transform="translate(163.9 472.7) rotate(90) scale(0.9 1)" stroke="#1e1e1e" stroke-width="0.2">Upper</text>
<text x="0" y="0" font-family='"Liberation Sans", sans-serif' font-size="12.2" fill="#1e1e1e" font-weight="normal" font-style="normal" text-anchor="start" transform="translate(149.2 472.7) rotate(90) scale(0.9 1)" stroke="#1e1e1e" stroke-width="0.2">Barrier</text>
<rect x="192.35" y="298.9" width="165.4" height="237.1" fill="none" stroke="#000" stroke-width="1.7" stroke-linejoin="round"/>
<path d="M192.35 331.7 L195.85 331.7" fill="none" stroke="#000" stroke-width="1.3" stroke-linecap="butt" stroke-linejoin="miter"/>
<path d="M357.75 331.7 L354.25 331.7" fill="none" stroke="#000" stroke-width="1.3" stroke-linecap="butt" stroke-linejoin="miter"/>
<path d="M192.35 370.4 L195.85 370.4" fill="none" stroke="#000" stroke-width="1.3" stroke-linecap="butt" stroke-linejoin="miter"/>
<path d="M357.75 370.4 L354.25 370.4" fill="none" stroke="#000" stroke-width="1.3" stroke-linecap="butt" stroke-linejoin="miter"/>
<path d="M192.35 409.3 L195.85 409.3" fill="none" stroke="#000" stroke-width="1.3" stroke-linecap="butt" stroke-linejoin="miter"/>
<path d="M357.75 409.3 L354.25 409.3" fill="none" stroke="#000" stroke-width="1.3" stroke-linecap="butt" stroke-linejoin="miter"/>
<path d="M192.35 430.4 L195.85 430.4" fill="none" stroke="#000" stroke-width="1.3" stroke-linecap="butt" stroke-linejoin="miter"/>
<path d="M357.75 430.4 L354.25 430.4" fill="none" stroke="#000" stroke-width="1.3" stroke-linecap="butt" stroke-linejoin="miter"/>
<path d="M192.35 468.4 L195.85 468.4" fill="none" stroke="#000" stroke-width="1.3" stroke-linecap="butt" stroke-linejoin="miter"/>
<path d="M357.75 468.4 L354.25 468.4" fill="none" stroke="#000" stroke-width="1.3" stroke-linecap="butt" stroke-linejoin="miter"/>
<path d="M192.35 506.5 L195.85 506.5" fill="none" stroke="#000" stroke-width="1.3" stroke-linecap="butt" stroke-linejoin="miter"/>
<path d="M357.75 506.5 L354.25 506.5" fill="none" stroke="#000" stroke-width="1.3" stroke-linecap="butt" stroke-linejoin="miter"/>
<path d="M192.35 308.45 L194.35 308.45" fill="none" stroke="#000" stroke-width="1.3" stroke-linecap="butt" stroke-linejoin="miter"/>
<path d="M357.75 308.45 L355.75 308.45" fill="none" stroke="#000" stroke-width="1.3" stroke-linecap="butt" stroke-linejoin="miter"/>
<path d="M192.35 316.2 L194.35 316.2" fill="none" stroke="#000" stroke-width="1.3" stroke-linecap="butt" stroke-linejoin="miter"/>
<path d="M357.75 316.2 L355.75 316.2" fill="none" stroke="#000" stroke-width="1.3" stroke-linecap="butt" stroke-linejoin="miter"/>
<path d="M192.35 323.95 L194.35 323.95" fill="none" stroke="#000" stroke-width="1.3" stroke-linecap="butt" stroke-linejoin="miter"/>
<path d="M357.75 323.95 L355.75 323.95" fill="none" stroke="#000" stroke-width="1.3" stroke-linecap="butt" stroke-linejoin="miter"/>
<path d="M192.35 339.45 L194.35 339.45" fill="none" stroke="#000" stroke-width="1.3" stroke-linecap="butt" stroke-linejoin="miter"/>
<path d="M357.75 339.45 L355.75 339.45" fill="none" stroke="#000" stroke-width="1.3" stroke-linecap="butt" stroke-linejoin="miter"/>
<path d="M192.35 347.2 L194.35 347.2" fill="none" stroke="#000" stroke-width="1.3" stroke-linecap="butt" stroke-linejoin="miter"/>
<path d="M357.75 347.2 L355.75 347.2" fill="none" stroke="#000" stroke-width="1.3" stroke-linecap="butt" stroke-linejoin="miter"/>
<path d="M192.35 354.95 L194.35 354.95" fill="none" stroke="#000" stroke-width="1.3" stroke-linecap="butt" stroke-linejoin="miter"/>
<path d="M357.75 354.95 L355.75 354.95" fill="none" stroke="#000" stroke-width="1.3" stroke-linecap="butt" stroke-linejoin="miter"/>
<path d="M192.35 362.7 L194.35 362.7" fill="none" stroke="#000" stroke-width="1.3" stroke-linecap="butt" stroke-linejoin="miter"/>
<path d="M357.75 362.7 L355.75 362.7" fill="none" stroke="#000" stroke-width="1.3" stroke-linecap="butt" stroke-linejoin="miter"/>
<path d="M192.35 378.2 L194.35 378.2" fill="none" stroke="#000" stroke-width="1.3" stroke-linecap="butt" stroke-linejoin="miter"/>
<path d="M357.75 378.2 L355.75 378.2" fill="none" stroke="#000" stroke-width="1.3" stroke-linecap="butt" stroke-linejoin="miter"/>
<path d="M192.35 385.95 L194.35 385.95" fill="none" stroke="#000" stroke-width="1.3" stroke-linecap="butt" stroke-linejoin="miter"/>
<path d="M357.75 385.95 L355.75 385.95" fill="none" stroke="#000" stroke-width="1.3" stroke-linecap="butt" stroke-linejoin="miter"/>
<path d="M192.35 393.7 L194.35 393.7" fill="none" stroke="#000" stroke-width="1.3" stroke-linecap="butt" stroke-linejoin="miter"/>
<path d="M357.75 393.7 L355.75 393.7" fill="none" stroke="#000" stroke-width="1.3" stroke-linecap="butt" stroke-linejoin="miter"/>
<path d="M192.35 401.45 L194.35 401.45" fill="none" stroke="#000" stroke-width="1.3" stroke-linecap="butt" stroke-linejoin="miter"/>
<path d="M357.75 401.45 L355.75 401.45" fill="none" stroke="#000" stroke-width="1.3" stroke-linecap="butt" stroke-linejoin="miter"/>
<path d="M192.35 422.8 L194.35 422.8" fill="none" stroke="#000" stroke-width="1.3" stroke-linecap="butt" stroke-linejoin="miter"/>
<path d="M357.75 422.8 L355.75 422.8" fill="none" stroke="#000" stroke-width="1.3" stroke-linecap="butt" stroke-linejoin="miter"/>
<path d="M192.35 438 L194.35 438" fill="none" stroke="#000" stroke-width="1.3" stroke-linecap="butt" stroke-linejoin="miter"/>
<path d="M357.75 438 L355.75 438" fill="none" stroke="#000" stroke-width="1.3" stroke-linecap="butt" stroke-linejoin="miter"/>
<path d="M192.35 445.6 L194.35 445.6" fill="none" stroke="#000" stroke-width="1.3" stroke-linecap="butt" stroke-linejoin="miter"/>
<path d="M357.75 445.6 L355.75 445.6" fill="none" stroke="#000" stroke-width="1.3" stroke-linecap="butt" stroke-linejoin="miter"/>
<path d="M192.35 453.2 L194.35 453.2" fill="none" stroke="#000" stroke-width="1.3" stroke-linecap="butt" stroke-linejoin="miter"/>
<path d="M357.75 453.2 L355.75 453.2" fill="none" stroke="#000" stroke-width="1.3" stroke-linecap="butt" stroke-linejoin="miter"/>
<path d="M192.35 460.8 L194.35 460.8" fill="none" stroke="#000" stroke-width="1.3" stroke-linecap="butt" stroke-linejoin="miter"/>
<path d="M357.75 460.8 L355.75 460.8" fill="none" stroke="#000" stroke-width="1.3" stroke-linecap="butt" stroke-linejoin="miter"/>
<path d="M192.35 476 L194.35 476" fill="none" stroke="#000" stroke-width="1.3" stroke-linecap="butt" stroke-linejoin="miter"/>
<path d="M357.75 476 L355.75 476" fill="none" stroke="#000" stroke-width="1.3" stroke-linecap="butt" stroke-linejoin="miter"/>
<path d="M192.35 483.6 L194.35 483.6" fill="none" stroke="#000" stroke-width="1.3" stroke-linecap="butt" stroke-linejoin="miter"/>
<path d="M357.75 483.6 L355.75 483.6" fill="none" stroke="#000" stroke-width="1.3" stroke-linecap="butt" stroke-linejoin="miter"/>
<path d="M192.35 491.2 L194.35 491.2" fill="none" stroke="#000" stroke-width="1.3" stroke-linecap="butt" stroke-linejoin="miter"/>
<path d="M357.75 491.2 L355.75 491.2" fill="none" stroke="#000" stroke-width="1.3" stroke-linecap="butt" stroke-linejoin="miter"/>
<path d="M192.35 498.8 L194.35 498.8" fill="none" stroke="#000" stroke-width="1.3" stroke-linecap="butt" stroke-linejoin="miter"/>
<path d="M357.75 498.8 L355.75 498.8" fill="none" stroke="#000" stroke-width="1.3" stroke-linecap="butt" stroke-linejoin="miter"/>
<path d="M192.35 514 L194.35 514" fill="none" stroke="#000" stroke-width="1.3" stroke-linecap="butt" stroke-linejoin="miter"/>
<path d="M357.75 514 L355.75 514" fill="none" stroke="#000" stroke-width="1.3" stroke-linecap="butt" stroke-linejoin="miter"/>
<path d="M192.35 521.6 L194.35 521.6" fill="none" stroke="#000" stroke-width="1.3" stroke-linecap="butt" stroke-linejoin="miter"/>
<path d="M357.75 521.6 L355.75 521.6" fill="none" stroke="#000" stroke-width="1.3" stroke-linecap="butt" stroke-linejoin="miter"/>
<path d="M192.35 529.2 L194.35 529.2" fill="none" stroke="#000" stroke-width="1.3" stroke-linecap="butt" stroke-linejoin="miter"/>
<path d="M357.75 529.2 L355.75 529.2" fill="none" stroke="#000" stroke-width="1.3" stroke-linecap="butt" stroke-linejoin="miter"/>
<path d="M204 298.9 L204 302.4" fill="none" stroke="#000" stroke-width="1.3" stroke-linecap="butt" stroke-linejoin="miter"/>
<path d="M204 536 L204 532.5" fill="none" stroke="#000" stroke-width="1.3" stroke-linecap="butt" stroke-linejoin="miter"/>
<path d="M230.3 298.9 L230.3 302.4" fill="none" stroke="#000" stroke-width="1.3" stroke-linecap="butt" stroke-linejoin="miter"/>
<path d="M230.3 536 L230.3 532.5" fill="none" stroke="#000" stroke-width="1.3" stroke-linecap="butt" stroke-linejoin="miter"/>
<path d="M247.9 298.9 L247.9 302.4" fill="none" stroke="#000" stroke-width="1.3" stroke-linecap="butt" stroke-linejoin="miter"/>
<path d="M247.9 536 L247.9 532.5" fill="none" stroke="#000" stroke-width="1.3" stroke-linecap="butt" stroke-linejoin="miter"/>
<path d="M274.6 298.9 L274.6 302.4" fill="none" stroke="#000" stroke-width="1.3" stroke-linecap="butt" stroke-linejoin="miter"/>
<path d="M274.6 536 L274.6 532.5" fill="none" stroke="#000" stroke-width="1.3" stroke-linecap="butt" stroke-linejoin="miter"/>
<path d="M307.8 298.9 L307.8 302.4" fill="none" stroke="#000" stroke-width="1.3" stroke-linecap="butt" stroke-linejoin="miter"/>
<path d="M307.8 536 L307.8 532.5" fill="none" stroke="#000" stroke-width="1.3" stroke-linecap="butt" stroke-linejoin="miter"/>
<path d="M335 298.9 L335 302.4" fill="none" stroke="#000" stroke-width="1.3" stroke-linecap="butt" stroke-linejoin="miter"/>
<path d="M335 536 L335 532.5" fill="none" stroke="#000" stroke-width="1.3" stroke-linecap="butt" stroke-linejoin="miter"/>
<path d="M198.74 298.9 L198.74 300.9" fill="none" stroke="#000" stroke-width="1.3" stroke-linecap="butt" stroke-linejoin="miter"/>
<path d="M198.74 536 L198.74 534" fill="none" stroke="#000" stroke-width="1.3" stroke-linecap="butt" stroke-linejoin="miter"/>
<path d="M209.26 298.9 L209.26 300.9" fill="none" stroke="#000" stroke-width="1.3" stroke-linecap="butt" stroke-linejoin="miter"/>
<path d="M209.26 536 L209.26 534" fill="none" stroke="#000" stroke-width="1.3" stroke-linecap="butt" stroke-linejoin="miter"/>
<path d="M214.52 298.9 L214.52 300.9" fill="none" stroke="#000" stroke-width="1.3" stroke-linecap="butt" stroke-linejoin="miter"/>
<path d="M214.52 536 L214.52 534" fill="none" stroke="#000" stroke-width="1.3" stroke-linecap="butt" stroke-linejoin="miter"/>
<path d="M219.78 298.9 L219.78 300.9" fill="none" stroke="#000" stroke-width="1.3" stroke-linecap="butt" stroke-linejoin="miter"/>
<path d="M219.78 536 L219.78 534" fill="none" stroke="#000" stroke-width="1.3" stroke-linecap="butt" stroke-linejoin="miter"/>
<path d="M225.04 298.9 L225.04 300.9" fill="none" stroke="#000" stroke-width="1.3" stroke-linecap="butt" stroke-linejoin="miter"/>
<path d="M225.04 536 L225.04 534" fill="none" stroke="#000" stroke-width="1.3" stroke-linecap="butt" stroke-linejoin="miter"/>
<path d="M235.56 298.9 L235.56 300.9" fill="none" stroke="#000" stroke-width="1.3" stroke-linecap="butt" stroke-linejoin="miter"/>
<path d="M235.56 536 L235.56 534" fill="none" stroke="#000" stroke-width="1.3" stroke-linecap="butt" stroke-linejoin="miter"/>
<path d="M240.82 298.9 L240.82 300.9" fill="none" stroke="#000" stroke-width="1.3" stroke-linecap="butt" stroke-linejoin="miter"/>
<path d="M240.82 536 L240.82 534" fill="none" stroke="#000" stroke-width="1.3" stroke-linecap="butt" stroke-linejoin="miter"/>
<path d="M253.24 298.9 L253.24 300.9" fill="none" stroke="#000" stroke-width="1.3" stroke-linecap="butt" stroke-linejoin="miter"/>
<path d="M253.24 536 L253.24 534" fill="none" stroke="#000" stroke-width="1.3" stroke-linecap="butt" stroke-linejoin="miter"/>
<path d="M258.58 298.9 L258.58 300.9" fill="none" stroke="#000" stroke-width="1.3" stroke-linecap="butt" stroke-linejoin="miter"/>
<path d="M258.58 536 L258.58 534" fill="none" stroke="#000" stroke-width="1.3" stroke-linecap="butt" stroke-linejoin="miter"/>
<path d="M263.92 298.9 L263.92 300.9" fill="none" stroke="#000" stroke-width="1.3" stroke-linecap="butt" stroke-linejoin="miter"/>
<path d="M263.92 536 L263.92 534" fill="none" stroke="#000" stroke-width="1.3" stroke-linecap="butt" stroke-linejoin="miter"/>
<path d="M269.26 298.9 L269.26 300.9" fill="none" stroke="#000" stroke-width="1.3" stroke-linecap="butt" stroke-linejoin="miter"/>
<path d="M269.26 536 L269.26 534" fill="none" stroke="#000" stroke-width="1.3" stroke-linecap="butt" stroke-linejoin="miter"/>
<path d="M279.94 298.9 L279.94 300.9" fill="none" stroke="#000" stroke-width="1.3" stroke-linecap="butt" stroke-linejoin="miter"/>
<path d="M279.94 536 L279.94 534" fill="none" stroke="#000" stroke-width="1.3" stroke-linecap="butt" stroke-linejoin="miter"/>
<path d="M285.28 298.9 L285.28 300.9" fill="none" stroke="#000" stroke-width="1.3" stroke-linecap="butt" stroke-linejoin="miter"/>
<path d="M285.28 536 L285.28 534" fill="none" stroke="#000" stroke-width="1.3" stroke-linecap="butt" stroke-linejoin="miter"/>
<path d="M290.62 298.9 L290.62 300.9" fill="none" stroke="#000" stroke-width="1.3" stroke-linecap="butt" stroke-linejoin="miter"/>
<path d="M290.62 536 L290.62 534" fill="none" stroke="#000" stroke-width="1.3" stroke-linecap="butt" stroke-linejoin="miter"/>
<path d="M295.96 298.9 L295.96 300.9" fill="none" stroke="#000" stroke-width="1.3" stroke-linecap="butt" stroke-linejoin="miter"/>
<path d="M295.96 536 L295.96 534" fill="none" stroke="#000" stroke-width="1.3" stroke-linecap="butt" stroke-linejoin="miter"/>
<path d="M313.24 298.9 L313.24 300.9" fill="none" stroke="#000" stroke-width="1.3" stroke-linecap="butt" stroke-linejoin="miter"/>
<path d="M313.24 536 L313.24 534" fill="none" stroke="#000" stroke-width="1.3" stroke-linecap="butt" stroke-linejoin="miter"/>
<path d="M318.68 298.9 L318.68 300.9" fill="none" stroke="#000" stroke-width="1.3" stroke-linecap="butt" stroke-linejoin="miter"/>
<path d="M318.68 536 L318.68 534" fill="none" stroke="#000" stroke-width="1.3" stroke-linecap="butt" stroke-linejoin="miter"/>
<path d="M324.12 298.9 L324.12 300.9" fill="none" stroke="#000" stroke-width="1.3" stroke-linecap="butt" stroke-linejoin="miter"/>
<path d="M324.12 536 L324.12 534" fill="none" stroke="#000" stroke-width="1.3" stroke-linecap="butt" stroke-linejoin="miter"/>
<path d="M329.56 298.9 L329.56 300.9" fill="none" stroke="#000" stroke-width="1.3" stroke-linecap="butt" stroke-linejoin="miter"/>
<path d="M329.56 536 L329.56 534" fill="none" stroke="#000" stroke-width="1.3" stroke-linecap="butt" stroke-linejoin="miter"/>
<path d="M340.44 298.9 L340.44 300.9" fill="none" stroke="#000" stroke-width="1.3" stroke-linecap="butt" stroke-linejoin="miter"/>
<path d="M340.44 536 L340.44 534" fill="none" stroke="#000" stroke-width="1.3" stroke-linecap="butt" stroke-linejoin="miter"/>
<path d="M345.88 298.9 L345.88 300.9" fill="none" stroke="#000" stroke-width="1.3" stroke-linecap="butt" stroke-linejoin="miter"/>
<path d="M345.88 536 L345.88 534" fill="none" stroke="#000" stroke-width="1.3" stroke-linecap="butt" stroke-linejoin="miter"/>
<path d="M351.32 298.9 L351.32 300.9" fill="none" stroke="#000" stroke-width="1.3" stroke-linecap="butt" stroke-linejoin="miter"/>
<path d="M351.32 536 L351.32 534" fill="none" stroke="#000" stroke-width="1.3" stroke-linecap="butt" stroke-linejoin="miter"/>
<rect x="190.35" y="416.3" width="4" height="4.2" fill="#fff"/>
<path d="M188.35 418.5 L196.35 414.5" fill="none" stroke="#000" stroke-width="1.4" stroke-linecap="butt" stroke-linejoin="miter"/>
<path d="M188.35 422.5 L196.35 418.5" fill="none" stroke="#000" stroke-width="1.4" stroke-linecap="butt" stroke-linejoin="miter"/>
<rect x="355.75" y="416.3" width="4" height="4.2" fill="#fff"/>
<path d="M353.75 418.5 L361.75 414.5" fill="none" stroke="#000" stroke-width="1.4" stroke-linecap="butt" stroke-linejoin="miter"/>
<path d="M353.75 422.5 L361.75 418.5" fill="none" stroke="#000" stroke-width="1.4" stroke-linecap="butt" stroke-linejoin="miter"/>
<rect x="245.1" y="296.9" width="4.2" height="4" fill="#fff"/>
<path d="M243.3 302.4 L246.9 295.4" fill="none" stroke="#000" stroke-width="1.4" stroke-linecap="butt" stroke-linejoin="miter"/>
<path d="M247.5 302.4 L251.1 295.4" fill="none" stroke="#000" stroke-width="1.4" stroke-linecap="butt" stroke-linejoin="miter"/>
<rect x="245.1" y="534" width="4.2" height="4" fill="#fff"/>
<path d="M243.3 539.5 L246.9 532.5" fill="none" stroke="#000" stroke-width="1.4" stroke-linecap="butt" stroke-linejoin="miter"/>
<path d="M247.5 539.5 L251.1 532.5" fill="none" stroke="#000" stroke-width="1.4" stroke-linecap="butt" stroke-linejoin="miter"/>
<rect x="301.5" y="296.9" width="4.2" height="4" fill="#fff"/>
<path d="M299.7 302.4 L303.3 295.4" fill="none" stroke="#000" stroke-width="1.4" stroke-linecap="butt" stroke-linejoin="miter"/>
<path d="M303.9 302.4 L307.5 295.4" fill="none" stroke="#000" stroke-width="1.4" stroke-linecap="butt" stroke-linejoin="miter"/>
<rect x="301.5" y="534" width="4.2" height="4" fill="#fff"/>
<path d="M299.7 539.5 L303.3 532.5" fill="none" stroke="#000" stroke-width="1.4" stroke-linecap="butt" stroke-linejoin="miter"/>
<path d="M303.9 539.5 L307.5 532.5" fill="none" stroke="#000" stroke-width="1.4" stroke-linecap="butt" stroke-linejoin="miter"/>
<text x="0" y="0" font-family='"Liberation Sans", sans-serif' font-size="8.1" fill="#1e1e1e" font-weight="normal" font-style="normal" text-anchor="middle" transform="translate(204 546.8) scale(1 0.97)" stroke="#1e1e1e" stroke-width="0.2">-7</text>
<text x="0" y="0" font-family='"Liberation Sans", sans-serif' font-size="8.1" fill="#1e1e1e" font-weight="normal" font-style="normal" text-anchor="middle" transform="translate(230.3 546.8) scale(1 0.97)" stroke="#1e1e1e" stroke-width="0.2">0</text>
<text x="0" y="0" font-family='"Liberation Sans", sans-serif' font-size="8.1" fill="#1e1e1e" font-weight="normal" font-style="normal" text-anchor="middle" transform="translate(247.9 546.8) scale(1 0.97)" stroke="#1e1e1e" stroke-width="0.2">18</text>
<text x="0" y="0" font-family='"Liberation Sans", sans-serif' font-size="8.1" fill="#1e1e1e" font-weight="normal" font-style="normal" text-anchor="middle" transform="translate(274.6 546.8) scale(1 0.97)" stroke="#1e1e1e" stroke-width="0.2">20</text>
<text x="0" y="0" font-family='"Liberation Sans", sans-serif' font-size="8.1" fill="#1e1e1e" font-weight="normal" font-style="normal" text-anchor="middle" transform="translate(307.8 546.8) scale(1 0.97)" stroke="#1e1e1e" stroke-width="0.2">38.5</text>
<text x="0" y="0" font-family='"Liberation Sans", sans-serif' font-size="8.1" fill="#1e1e1e" font-weight="normal" font-style="normal" text-anchor="middle" transform="translate(335 546.8) scale(1 0.97)" stroke="#1e1e1e" stroke-width="0.2">42.0</text>
<text x="271.75" y="559.5" font-family='"Liberation Sans", sans-serif' font-size="10.86" fill="#1e1e1e" font-weight="normal" font-style="normal" text-anchor="middle" stroke="#1e1e1e" stroke-width="0.2">position (nm)</text>
<path d="M192.35 378.8 L230.6 378.8 L230.6 400.6 L245.2 400.6" fill="none" stroke="#ff1a1a" stroke-width="1.8" stroke-linecap="butt" stroke-linejoin="miter"/>
<path d="M249.2 400.6 L262 400.6 L262 378.8 L288 378.8 L288 400.6 L301.6 400.6" fill="none" stroke="#ff1a1a" stroke-width="1.8" stroke-linecap="butt" stroke-linejoin="miter"/>
<path d="M305.6 400.6 L319.7 400.6 L319.7 332.5 L357.75 332.5" fill="none" stroke="#ff1a1a" stroke-width="1.8" stroke-linecap="butt" stroke-linejoin="miter"/>
<path d="M231.5 378.8 L248 378.8" fill="none" stroke="#ff1a1a" stroke-width="1.6" stroke-linecap="butt" stroke-linejoin="miter" stroke-dasharray="5.5 3"/>
<path d="M297.5 332.5 L319 332.5" fill="none" stroke="#ff1a1a" stroke-width="1.6" stroke-linecap="butt" stroke-linejoin="miter" stroke-dasharray="5.5 3"/>
<path d="M192.35 395.4 L230.6 395.4" fill="none" stroke="#9c00d8" stroke-width="1.9" stroke-dasharray="2.3 6.4" stroke-dashoffset="0"/>
<path d="M230.6 395.4 L245.2 395.4" fill="none" stroke="#9c00d8" stroke-width="1.9" stroke-linecap="butt" stroke-linejoin="miter"/>
<path d="M249.2 395.4 L262 395.4" fill="none" stroke="#9c00d8" stroke-width="1.9" stroke-linecap="butt" stroke-linejoin="miter"/>
<path d="M262 395.4 L288 395.4" fill="none" stroke="#9c00d8" stroke-width="1.9" stroke-dasharray="2.3 6.4" stroke-dashoffset="0"/>
<path d="M288 395.4 L301.6 395.4" fill="none" stroke="#9c00d8" stroke-width="1.9" stroke-linecap="butt" stroke-linejoin="miter"/>
<path d="M305.6 395.4 L319.7 395.4" fill="none" stroke="#9c00d8" stroke-width="1.9" stroke-linecap="butt" stroke-linejoin="miter"/>
<path d="M319.7 395.4 L357.75 395.4" fill="none" stroke="#9c00d8" stroke-width="1.9" stroke-dasharray="2.3 6.4" stroke-dashoffset="0"/>
<path d="M192.35 450.2 L230.6 450.2" fill="none" stroke="#9c00d8" stroke-width="1.9" stroke-dasharray="2.3 6.4" stroke-dashoffset="0"/>
<path d="M230.6 450.2 L262 450.2" fill="none" stroke="#9c00d8" stroke-width="1.9" stroke-dasharray="2.3 6.4" stroke-dashoffset="0"/>
<path d="M262 450.2 L288 450.2" fill="none" stroke="#9c00d8" stroke-width="1.9" stroke-dasharray="2.3 6.4" stroke-dashoffset="0"/>
<path d="M288 450.2 L319.7 450.2" fill="none" stroke="#9c00d8" stroke-width="1.9" stroke-dasharray="2.3 6.4" stroke-dashoffset="0"/>
<path d="M319.7 450.2 L357.75 450.2" fill="none" stroke="#9c00d8" stroke-width="1.9" stroke-dasharray="2.3 6.4" stroke-dashoffset="0"/>
<path d="M192.35 479.9 L230.3 479.9 L230.3 479.3 L245 479.3" fill="none" stroke="#1a1aff" stroke-width="1.7" stroke-linecap="butt" stroke-linejoin="miter"/>
<path d="M249.3 479.3 L262 479.3 L262 479.9 L288 479.9 L288 479.3 L299.6 479.3" fill="none" stroke="#1a1aff" stroke-width="1.7" stroke-linecap="butt" stroke-linejoin="miter"/>
<path d="M304.5 479.3 L319.4 479.3 L319.4 466.5 L357.75 466.5" fill="none" stroke="#1a1aff" stroke-width="1.7" stroke-linecap="butt" stroke-linejoin="miter"/>
<text x="198.2" y="312" font-family='"Liberation Sans", sans-serif' font-size="11.3" fill="#1e1e1e" font-weight="normal" font-style="normal" text-anchor="start" stroke="#1e1e1e" stroke-width="0.2">f)</text>
<text x="0" y="0" font-family='"Liberation Sans", sans-serif' font-size="12.6" fill="#ff1a1a" font-weight="bold" font-style="normal" text-anchor="start" transform="translate(201.8 376.2) scale(0.92 1)" stroke="#ff1a1a" stroke-width="0.45">Γ</text>
<g transform="translate(216.7 360.4) scale(1 1)" font-family='"Liberation Serif", serif' fill="#333333" stroke="#333333" stroke-width="0.15">
<text x="0" y="0" font-size="12">Δ</text>
<text x="7.68" y="0" font-size="12" font-style="italic">E</text>
<text x="15.42" y="-4.1" font-size="8.3" font-style="italic">LB</text>
<text x="14.82" y="3.2" font-size="8.3" font-style="italic">C</text>
</g>
<text x="214.6" y="371.2" font-family='"Liberation Sans", sans-serif' font-size="7.5" fill="#8436c8" font-weight="bold" font-style="normal" text-anchor="start">35 meV</text>
<path d="M242.9 367.3 L242.9 376" fill="none" stroke="#8060c0" stroke-width="1.1" stroke-linecap="butt" stroke-linejoin="miter"/>
<path d="M242.9 378 L240.9 373.8 L242.9 375 L244.9 373.8 Z" fill="#8060c0"/>
<path d="M242.9 406.8 L242.9 398.6" fill="none" stroke="#8060c0" stroke-width="1.1" stroke-linecap="butt" stroke-linejoin="miter"/>
<path d="M242.9 396.6 L240.9 400.8 L242.9 399.6 L244.9 400.8 Z" fill="#8060c0"/>
<g transform="translate(278.3 343.9) scale(1 1)" font-family='"Liberation Serif", serif' fill="#333333" stroke="#333333" stroke-width="0.15">
<text x="0" y="0" font-size="12">Δ</text>
<text x="7.68" y="0" font-size="12" font-style="italic">E</text>
<text x="15.42" y="-4.1" font-size="8.3" font-style="italic">UB</text>
<text x="14.82" y="3.2" font-size="8.3" font-style="italic">C</text>
</g>
<text x="269.1" y="352.8" font-family='"Liberation Sans", sans-serif' font-size="7.5" fill="#8436c8" font-weight="bold" font-style="normal" text-anchor="start">99 meV</text>
<path d="M306.3 335 L306.3 392.9" fill="none" stroke="#8060c0" stroke-width="1.1" stroke-linecap="butt" stroke-linejoin="miter"/>
<path d="M306.3 333 L304.3 337.2 L306.3 336 L308.3 337.2 Z" fill="#8060c0"/>
<path d="M306.3 394.9 L304.3 390.7 L306.3 391.9 L308.3 390.7 Z" fill="#8060c0"/>
<path d="M211 380.5 L211 478.3" fill="none" stroke="#1a1a1a" stroke-width="1.3" stroke-linecap="butt" stroke-linejoin="miter"/>
<path d="M211 379 L208.1 384.2 L211 383 L213.9 384.2 Z" fill="#1a1a1a"/>
<path d="M211 479.8 L208.1 474.6 L211 475.8 L213.9 474.6 Z" fill="#1a1a1a"/>
<path d="M282.2 380.5 L282.2 477.7" fill="none" stroke="#1a1a1a" stroke-width="1.3" stroke-linecap="butt" stroke-linejoin="miter"/>
<path d="M282.2 379 L279.3 384.2 L282.2 383 L285.1 384.2 Z" fill="#1a1a1a"/>
<path d="M282.2 479.2 L279.3 474 L282.2 475.2 L285.1 474 Z" fill="#1a1a1a"/>
<text x="0" y="0" font-family='"Liberation Sans", sans-serif' font-size="10.15" fill="#1e1e1e" font-weight="normal" font-style="normal" text-anchor="start" transform="translate(215.3 405.5) rotate(90)" stroke="#1e1e1e" stroke-width="0.2">2286 nm</text>
<text x="0" y="0" font-family='"Liberation Sans", sans-serif' font-size="10.15" fill="#1e1e1e" font-weight="normal" font-style="normal" text-anchor="start" transform="translate(269 405.5) rotate(90)" stroke="#1e1e1e" stroke-width="0.2">2286 nm</text>
<g transform="translate(212.6 464.6) scale(1 1)" font-family='"Liberation Serif", serif' fill="#333333" stroke="#333333" stroke-width="0.15">
<text x="0" y="0" font-size="12" font-style="italic">E</text>
<text x="7.74" y="-4.1" font-size="8.3" font-style="italic">LB</text>
<text x="7.14" y="3.2" font-size="8.3" font-style="italic"><tspan font-style="normal">Γ</tspan>−LH</text>
</g>
<g transform="translate(252 464.6) scale(1 1)" font-family='"Liberation Serif", serif' fill="#333333" stroke="#333333" stroke-width="0.15">
<text x="0" y="0" font-size="12" font-style="italic">E</text>
<text x="7.74" y="-4.1" font-size="8.3" font-style="italic">MB</text>
<text x="7.14" y="3.2" font-size="8.3" font-style="italic"><tspan font-style="normal">Γ</tspan>−LH</text>
</g>
<text x="0" y="0" font-family='"Liberation Sans", sans-serif' font-size="11.3" fill="#1a1aff" font-weight="normal" font-style="normal" text-anchor="start" transform="translate(200.4 493.1) scale(1 0.93)" stroke="#1a1aff" stroke-width="0.3">LH</text>
<rect x="373.15" y="298.9" width="164.9" height="237.1" fill="none" stroke="#000" stroke-width="1.7" stroke-linejoin="round"/>
<path d="M373.15 331.7 L376.65 331.7" fill="none" stroke="#000" stroke-width="1.3" stroke-linecap="butt" stroke-linejoin="miter"/>
<path d="M538.05 331.7 L534.55 331.7" fill="none" stroke="#000" stroke-width="1.3" stroke-linecap="butt" stroke-linejoin="miter"/>
<path d="M373.15 370.4 L376.65 370.4" fill="none" stroke="#000" stroke-width="1.3" stroke-linecap="butt" stroke-linejoin="miter"/>
<path d="M538.05 370.4 L534.55 370.4" fill="none" stroke="#000" stroke-width="1.3" stroke-linecap="butt" stroke-linejoin="miter"/>
<path d="M373.15 409.3 L376.65 409.3" fill="none" stroke="#000" stroke-width="1.3" stroke-linecap="butt" stroke-linejoin="miter"/>
<path d="M538.05 409.3 L534.55 409.3" fill="none" stroke="#000" stroke-width="1.3" stroke-linecap="butt" stroke-linejoin="miter"/>
<path d="M373.15 430.4 L376.65 430.4" fill="none" stroke="#000" stroke-width="1.3" stroke-linecap="butt" stroke-linejoin="miter"/>
<path d="M538.05 430.4 L534.55 430.4" fill="none" stroke="#000" stroke-width="1.3" stroke-linecap="butt" stroke-linejoin="miter"/>
<path d="M373.15 468.4 L376.65 468.4" fill="none" stroke="#000" stroke-width="1.3" stroke-linecap="butt" stroke-linejoin="miter"/>
<path d="M538.05 468.4 L534.55 468.4" fill="none" stroke="#000" stroke-width="1.3" stroke-linecap="butt" stroke-linejoin="miter"/>
<path d="M373.15 506.5 L376.65 506.5" fill="none" stroke="#000" stroke-width="1.3" stroke-linecap="butt" stroke-linejoin="miter"/>
<path d="M538.05 506.5 L534.55 506.5" fill="none" stroke="#000" stroke-width="1.3" stroke-linecap="butt" stroke-linejoin="miter"/>
<path d="M373.15 308.45 L375.15 308.45" fill="none" stroke="#000" stroke-width="1.3" stroke-linecap="butt" stroke-linejoin="miter"/>
<path d="M538.05 308.45 L536.05 308.45" fill="none" stroke="#000" stroke-width="1.3" stroke-linecap="butt" stroke-linejoin="miter"/>
<path d="M373.15 316.2 L375.15 316.2" fill="none" stroke="#000" stroke-width="1.3" stroke-linecap="butt" stroke-linejoin="miter"/>
<path d="M538.05 316.2 L536.05 316.2" fill="none" stroke="#000" stroke-width="1.3" stroke-linecap="butt" stroke-linejoin="miter"/>
<path d="M373.15 323.95 L375.15 323.95" fill="none" stroke="#000" stroke-width="1.3" stroke-linecap="butt" stroke-linejoin="miter"/>
<path d="M538.05 323.95 L536.05 323.95" fill="none" stroke="#000" stroke-width="1.3" stroke-linecap="butt" stroke-linejoin="miter"/>
<path d="M373.15 339.45 L375.15 339.45" fill="none" stroke="#000" stroke-width="1.3" stroke-linecap="butt" stroke-linejoin="miter"/>
<path d="M538.05 339.45 L536.05 339.45" fill="none" stroke="#000" stroke-width="1.3" stroke-linecap="butt" stroke-linejoin="miter"/>
<path d="M373.15 347.2 L375.15 347.2" fill="none" stroke="#000" stroke-width="1.3" stroke-linecap="butt" stroke-linejoin="miter"/>
<path d="M538.05 347.2 L536.05 347.2" fill="none" stroke="#000" stroke-width="1.3" stroke-linecap="butt" stroke-linejoin="miter"/>
<path d="M373.15 354.95 L375.15 354.95" fill="none" stroke="#000" stroke-width="1.3" stroke-linecap="butt" stroke-linejoin="miter"/>
<path d="M538.05 354.95 L536.05 354.95" fill="none" stroke="#000" stroke-width="1.3" stroke-linecap="butt" stroke-linejoin="miter"/>
<path d="M373.15 362.7 L375.15 362.7" fill="none" stroke="#000" stroke-width="1.3" stroke-linecap="butt" stroke-linejoin="miter"/>
<path d="M538.05 362.7 L536.05 362.7" fill="none" stroke="#000" stroke-width="1.3" stroke-linecap="butt" stroke-linejoin="miter"/>
<path d="M373.15 378.2 L375.15 378.2" fill="none" stroke="#000" stroke-width="1.3" stroke-linecap="butt" stroke-linejoin="miter"/>
<path d="M538.05 378.2 L536.05 378.2" fill="none" stroke="#000" stroke-width="1.3" stroke-linecap="butt" stroke-linejoin="miter"/>
<path d="M373.15 385.95 L375.15 385.95" fill="none" stroke="#000" stroke-width="1.3" stroke-linecap="butt" stroke-linejoin="miter"/>
<path d="M538.05 385.95 L536.05 385.95" fill="none" stroke="#000" stroke-width="1.3" stroke-linecap="butt" stroke-linejoin="miter"/>
<path d="M373.15 393.7 L375.15 393.7" fill="none" stroke="#000" stroke-width="1.3" stroke-linecap="butt" stroke-linejoin="miter"/>
<path d="M538.05 393.7 L536.05 393.7" fill="none" stroke="#000" stroke-width="1.3" stroke-linecap="butt" stroke-linejoin="miter"/>
<path d="M373.15 401.45 L375.15 401.45" fill="none" stroke="#000" stroke-width="1.3" stroke-linecap="butt" stroke-linejoin="miter"/>
<path d="M538.05 401.45 L536.05 401.45" fill="none" stroke="#000" stroke-width="1.3" stroke-linecap="butt" stroke-linejoin="miter"/>
<path d="M373.15 422.8 L375.15 422.8" fill="none" stroke="#000" stroke-width="1.3" stroke-linecap="butt" stroke-linejoin="miter"/>
<path d="M538.05 422.8 L536.05 422.8" fill="none" stroke="#000" stroke-width="1.3" stroke-linecap="butt" stroke-linejoin="miter"/>
<path d="M373.15 438 L375.15 438" fill="none" stroke="#000" stroke-width="1.3" stroke-linecap="butt" stroke-linejoin="miter"/>
<path d="M538.05 438 L536.05 438" fill="none" stroke="#000" stroke-width="1.3" stroke-linecap="butt" stroke-linejoin="miter"/>
<path d="M373.15 445.6 L375.15 445.6" fill="none" stroke="#000" stroke-width="1.3" stroke-linecap="butt" stroke-linejoin="miter"/>
<path d="M538.05 445.6 L536.05 445.6" fill="none" stroke="#000" stroke-width="1.3" stroke-linecap="butt" stroke-linejoin="miter"/>
<path d="M373.15 453.2 L375.15 453.2" fill="none" stroke="#000" stroke-width="1.3" stroke-linecap="butt" stroke-linejoin="miter"/>
<path d="M538.05 453.2 L536.05 453.2" fill="none" stroke="#000" stroke-width="1.3" stroke-linecap="butt" stroke-linejoin="miter"/>
<path d="M373.15 460.8 L375.15 460.8" fill="none" stroke="#000" stroke-width="1.3" stroke-linecap="butt" stroke-linejoin="miter"/>
<path d="M538.05 460.8 L536.05 460.8" fill="none" stroke="#000" stroke-width="1.3" stroke-linecap="butt" stroke-linejoin="miter"/>
<path d="M373.15 476 L375.15 476" fill="none" stroke="#000" stroke-width="1.3" stroke-linecap="butt" stroke-linejoin="miter"/>
<path d="M538.05 476 L536.05 476" fill="none" stroke="#000" stroke-width="1.3" stroke-linecap="butt" stroke-linejoin="miter"/>
<path d="M373.15 483.6 L375.15 483.6" fill="none" stroke="#000" stroke-width="1.3" stroke-linecap="butt" stroke-linejoin="miter"/>
<path d="M538.05 483.6 L536.05 483.6" fill="none" stroke="#000" stroke-width="1.3" stroke-linecap="butt" stroke-linejoin="miter"/>
<path d="M373.15 491.2 L375.15 491.2" fill="none" stroke="#000" stroke-width="1.3" stroke-linecap="butt" stroke-linejoin="miter"/>
<path d="M538.05 491.2 L536.05 491.2" fill="none" stroke="#000" stroke-width="1.3" stroke-linecap="butt" stroke-linejoin="miter"/>
<path d="M373.15 498.8 L375.15 498.8" fill="none" stroke="#000" stroke-width="1.3" stroke-linecap="butt" stroke-linejoin="miter"/>
<path d="M538.05 498.8 L536.05 498.8" fill="none" stroke="#000" stroke-width="1.3" stroke-linecap="butt" stroke-linejoin="miter"/>
<path d="M373.15 514 L375.15 514" fill="none" stroke="#000" stroke-width="1.3" stroke-linecap="butt" stroke-linejoin="miter"/>
<path d="M538.05 514 L536.05 514" fill="none" stroke="#000" stroke-width="1.3" stroke-linecap="butt" stroke-linejoin="miter"/>
<path d="M373.15 521.6 L375.15 521.6" fill="none" stroke="#000" stroke-width="1.3" stroke-linecap="butt" stroke-linejoin="miter"/>
<path d="M538.05 521.6 L536.05 521.6" fill="none" stroke="#000" stroke-width="1.3" stroke-linecap="butt" stroke-linejoin="miter"/>
<path d="M373.15 529.2 L375.15 529.2" fill="none" stroke="#000" stroke-width="1.3" stroke-linecap="butt" stroke-linejoin="miter"/>
<path d="M538.05 529.2 L536.05 529.2" fill="none" stroke="#000" stroke-width="1.3" stroke-linecap="butt" stroke-linejoin="miter"/>
<path d="M383.9 298.9 L383.9 302.4" fill="none" stroke="#000" stroke-width="1.3" stroke-linecap="butt" stroke-linejoin="miter"/>
<path d="M383.9 536 L383.9 532.5" fill="none" stroke="#000" stroke-width="1.3" stroke-linecap="butt" stroke-linejoin="miter"/>
<path d="M411.1 298.9 L411.1 302.4" fill="none" stroke="#000" stroke-width="1.3" stroke-linecap="butt" stroke-linejoin="miter"/>
<path d="M411.1 536 L411.1 532.5" fill="none" stroke="#000" stroke-width="1.3" stroke-linecap="butt" stroke-linejoin="miter"/>
<path d="M429.3 298.9 L429.3 302.4" fill="none" stroke="#000" stroke-width="1.3" stroke-linecap="butt" stroke-linejoin="miter"/>
<path d="M429.3 536 L429.3 532.5" fill="none" stroke="#000" stroke-width="1.3" stroke-linecap="butt" stroke-linejoin="miter"/>
<path d="M455.1 298.9 L455.1 302.4" fill="none" stroke="#000" stroke-width="1.3" stroke-linecap="butt" stroke-linejoin="miter"/>
<path d="M455.1 536 L455.1 532.5" fill="none" stroke="#000" stroke-width="1.3" stroke-linecap="butt" stroke-linejoin="miter"/>
<path d="M488.3 298.9 L488.3 302.4" fill="none" stroke="#000" stroke-width="1.3" stroke-linecap="butt" stroke-linejoin="miter"/>
<path d="M488.3 536 L488.3 532.5" fill="none" stroke="#000" stroke-width="1.3" stroke-linecap="butt" stroke-linejoin="miter"/>
<path d="M514.9 298.9 L514.9 302.4" fill="none" stroke="#000" stroke-width="1.3" stroke-linecap="butt" stroke-linejoin="miter"/>
<path d="M514.9 536 L514.9 532.5" fill="none" stroke="#000" stroke-width="1.3" stroke-linecap="butt" stroke-linejoin="miter"/>
<path d="M378.46 298.9 L378.46 300.9" fill="none" stroke="#000" stroke-width="1.3" stroke-linecap="butt" stroke-linejoin="miter"/>
<path d="M378.46 536 L378.46 534" fill="none" stroke="#000" stroke-width="1.3" stroke-linecap="butt" stroke-linejoin="miter"/>
<path d="M389.34 298.9 L389.34 300.9" fill="none" stroke="#000" stroke-width="1.3" stroke-linecap="butt" stroke-linejoin="miter"/>
<path d="M389.34 536 L389.34 534" fill="none" stroke="#000" stroke-width="1.3" stroke-linecap="butt" stroke-linejoin="miter"/>
<path d="M394.78 298.9 L394.78 300.9" fill="none" stroke="#000" stroke-width="1.3" stroke-linecap="butt" stroke-linejoin="miter"/>
<path d="M394.78 536 L394.78 534" fill="none" stroke="#000" stroke-width="1.3" stroke-linecap="butt" stroke-linejoin="miter"/>
<path d="M400.22 298.9 L400.22 300.9" fill="none" stroke="#000" stroke-width="1.3" stroke-linecap="butt" stroke-linejoin="miter"/>
<path d="M400.22 536 L400.22 534" fill="none" stroke="#000" stroke-width="1.3" stroke-linecap="butt" stroke-linejoin="miter"/>
<path d="M405.66 298.9 L405.66 300.9" fill="none" stroke="#000" stroke-width="1.3" stroke-linecap="butt" stroke-linejoin="miter"/>
<path d="M405.66 536 L405.66 534" fill="none" stroke="#000" stroke-width="1.3" stroke-linecap="butt" stroke-linejoin="miter"/>
<path d="M416.54 298.9 L416.54 300.9" fill="none" stroke="#000" stroke-width="1.3" stroke-linecap="butt" stroke-linejoin="miter"/>
<path d="M416.54 536 L416.54 534" fill="none" stroke="#000" stroke-width="1.3" stroke-linecap="butt" stroke-linejoin="miter"/>
<path d="M421.98 298.9 L421.98 300.9" fill="none" stroke="#000" stroke-width="1.3" stroke-linecap="butt" stroke-linejoin="miter"/>
<path d="M421.98 536 L421.98 534" fill="none" stroke="#000" stroke-width="1.3" stroke-linecap="butt" stroke-linejoin="miter"/>
<path d="M434.46 298.9 L434.46 300.9" fill="none" stroke="#000" stroke-width="1.3" stroke-linecap="butt" stroke-linejoin="miter"/>
<path d="M434.46 536 L434.46 534" fill="none" stroke="#000" stroke-width="1.3" stroke-linecap="butt" stroke-linejoin="miter"/>
<path d="M439.62 298.9 L439.62 300.9" fill="none" stroke="#000" stroke-width="1.3" stroke-linecap="butt" stroke-linejoin="miter"/>
<path d="M439.62 536 L439.62 534" fill="none" stroke="#000" stroke-width="1.3" stroke-linecap="butt" stroke-linejoin="miter"/>
<path d="M444.78 298.9 L444.78 300.9" fill="none" stroke="#000" stroke-width="1.3" stroke-linecap="butt" stroke-linejoin="miter"/>
<path d="M444.78 536 L444.78 534" fill="none" stroke="#000" stroke-width="1.3" stroke-linecap="butt" stroke-linejoin="miter"/>
<path d="M449.94 298.9 L449.94 300.9" fill="none" stroke="#000" stroke-width="1.3" stroke-linecap="butt" stroke-linejoin="miter"/>
<path d="M449.94 536 L449.94 534" fill="none" stroke="#000" stroke-width="1.3" stroke-linecap="butt" stroke-linejoin="miter"/>
<path d="M460.26 298.9 L460.26 300.9" fill="none" stroke="#000" stroke-width="1.3" stroke-linecap="butt" stroke-linejoin="miter"/>
<path d="M460.26 536 L460.26 534" fill="none" stroke="#000" stroke-width="1.3" stroke-linecap="butt" stroke-linejoin="miter"/>
<path d="M465.42 298.9 L465.42 300.9" fill="none" stroke="#000" stroke-width="1.3" stroke-linecap="butt" stroke-linejoin="miter"/>
<path d="M465.42 536 L465.42 534" fill="none" stroke="#000" stroke-width="1.3" stroke-linecap="butt" stroke-linejoin="miter"/>
<path d="M470.58 298.9 L470.58 300.9" fill="none" stroke="#000" stroke-width="1.3" stroke-linecap="butt" stroke-linejoin="miter"/>
<path d="M470.58 536 L470.58 534" fill="none" stroke="#000" stroke-width="1.3" stroke-linecap="butt" stroke-linejoin="miter"/>
<path d="M475.74 298.9 L475.74 300.9" fill="none" stroke="#000" stroke-width="1.3" stroke-linecap="butt" stroke-linejoin="miter"/>
<path d="M475.74 536 L475.74 534" fill="none" stroke="#000" stroke-width="1.3" stroke-linecap="butt" stroke-linejoin="miter"/>
<path d="M480.9 298.9 L480.9 300.9" fill="none" stroke="#000" stroke-width="1.3" stroke-linecap="butt" stroke-linejoin="miter"/>
<path d="M480.9 536 L480.9 534" fill="none" stroke="#000" stroke-width="1.3" stroke-linecap="butt" stroke-linejoin="miter"/>
<path d="M493.62 298.9 L493.62 300.9" fill="none" stroke="#000" stroke-width="1.3" stroke-linecap="butt" stroke-linejoin="miter"/>
<path d="M493.62 536 L493.62 534" fill="none" stroke="#000" stroke-width="1.3" stroke-linecap="butt" stroke-linejoin="miter"/>
<path d="M498.94 298.9 L498.94 300.9" fill="none" stroke="#000" stroke-width="1.3" stroke-linecap="butt" stroke-linejoin="miter"/>
<path d="M498.94 536 L498.94 534" fill="none" stroke="#000" stroke-width="1.3" stroke-linecap="butt" stroke-linejoin="miter"/>
<path d="M504.26 298.9 L504.26 300.9" fill="none" stroke="#000" stroke-width="1.3" stroke-linecap="butt" stroke-linejoin="miter"/>
<path d="M504.26 536 L504.26 534" fill="none" stroke="#000" stroke-width="1.3" stroke-linecap="butt" stroke-linejoin="miter"/>
<path d="M509.58 298.9 L509.58 300.9" fill="none" stroke="#000" stroke-width="1.3" stroke-linecap="butt" stroke-linejoin="miter"/>
<path d="M509.58 536 L509.58 534" fill="none" stroke="#000" stroke-width="1.3" stroke-linecap="butt" stroke-linejoin="miter"/>
<path d="M520.22 298.9 L520.22 300.9" fill="none" stroke="#000" stroke-width="1.3" stroke-linecap="butt" stroke-linejoin="miter"/>
<path d="M520.22 536 L520.22 534" fill="none" stroke="#000" stroke-width="1.3" stroke-linecap="butt" stroke-linejoin="miter"/>
<path d="M525.54 298.9 L525.54 300.9" fill="none" stroke="#000" stroke-width="1.3" stroke-linecap="butt" stroke-linejoin="miter"/>
<path d="M525.54 536 L525.54 534" fill="none" stroke="#000" stroke-width="1.3" stroke-linecap="butt" stroke-linejoin="miter"/>
<path d="M530.86 298.9 L530.86 300.9" fill="none" stroke="#000" stroke-width="1.3" stroke-linecap="butt" stroke-linejoin="miter"/>
<path d="M530.86 536 L530.86 534" fill="none" stroke="#000" stroke-width="1.3" stroke-linecap="butt" stroke-linejoin="miter"/>
<rect x="371.15" y="416.3" width="4" height="4.2" fill="#fff"/>
<path d="M369.15 418.5 L377.15 414.5" fill="none" stroke="#000" stroke-width="1.4" stroke-linecap="butt" stroke-linejoin="miter"/>
<path d="M369.15 422.5 L377.15 418.5" fill="none" stroke="#000" stroke-width="1.4" stroke-linecap="butt" stroke-linejoin="miter"/>
<rect x="536.05" y="416.3" width="4" height="4.2" fill="#fff"/>
<path d="M534.05 418.5 L542.05 414.5" fill="none" stroke="#000" stroke-width="1.4" stroke-linecap="butt" stroke-linejoin="miter"/>
<path d="M534.05 422.5 L542.05 418.5" fill="none" stroke="#000" stroke-width="1.4" stroke-linecap="butt" stroke-linejoin="miter"/>
<rect x="425.9" y="296.9" width="4.2" height="4" fill="#fff"/>
<path d="M424.1 302.4 L427.7 295.4" fill="none" stroke="#000" stroke-width="1.4" stroke-linecap="butt" stroke-linejoin="miter"/>
<path d="M428.3 302.4 L431.9 295.4" fill="none" stroke="#000" stroke-width="1.4" stroke-linecap="butt" stroke-linejoin="miter"/>
<rect x="425.9" y="534" width="4.2" height="4" fill="#fff"/>
<path d="M424.1 539.5 L427.7 532.5" fill="none" stroke="#000" stroke-width="1.4" stroke-linecap="butt" stroke-linejoin="miter"/>
<path d="M428.3 539.5 L431.9 532.5" fill="none" stroke="#000" stroke-width="1.4" stroke-linecap="butt" stroke-linejoin="miter"/>
<rect x="481.5" y="296.9" width="4.2" height="4" fill="#fff"/>
<path d="M479.7 302.4 L483.3 295.4" fill="none" stroke="#000" stroke-width="1.4" stroke-linecap="butt" stroke-linejoin="miter"/>
<path d="M483.9 302.4 L487.5 295.4" fill="none" stroke="#000" stroke-width="1.4" stroke-linecap="butt" stroke-linejoin="miter"/>
<rect x="481.5" y="534" width="4.2" height="4" fill="#fff"/>
<path d="M479.7 539.5 L483.3 532.5" fill="none" stroke="#000" stroke-width="1.4" stroke-linecap="butt" stroke-linejoin="miter"/>
<path d="M483.9 539.5 L487.5 532.5" fill="none" stroke="#000" stroke-width="1.4" stroke-linecap="butt" stroke-linejoin="miter"/>
<text x="0" y="0" font-family='"Liberation Sans", sans-serif' font-size="8.1" fill="#1e1e1e" font-weight="normal" font-style="normal" text-anchor="middle" transform="translate(383.9 546.8) scale(1 0.97)" stroke="#1e1e1e" stroke-width="0.2">-7</text>
<text x="0" y="0" font-family='"Liberation Sans", sans-serif' font-size="8.1" fill="#1e1e1e" font-weight="normal" font-style="normal" text-anchor="middle" transform="translate(411.1 546.8) scale(1 0.97)" stroke="#1e1e1e" stroke-width="0.2">0</text>
<text x="0" y="0" font-family='"Liberation Sans", sans-serif' font-size="8.1" fill="#1e1e1e" font-weight="normal" font-style="normal" text-anchor="middle" transform="translate(429.3 546.8) scale(1 0.97)" stroke="#1e1e1e" stroke-width="0.2">18</text>
<text x="0" y="0" font-family='"Liberation Sans", sans-serif' font-size="8.1" fill="#1e1e1e" font-weight="normal" font-style="normal" text-anchor="middle" transform="translate(455.1 546.8) scale(1 0.97)" stroke="#1e1e1e" stroke-width="0.2">20</text>
<text x="0" y="0" font-family='"Liberation Sans", sans-serif' font-size="8.1" fill="#1e1e1e" font-weight="normal" font-style="normal" text-anchor="middle" transform="translate(488.3 546.8) scale(1 0.97)" stroke="#1e1e1e" stroke-width="0.2">38.5</text>
<text x="0" y="0" font-family='"Liberation Sans", sans-serif' font-size="8.1" fill="#1e1e1e" font-weight="normal" font-style="normal" text-anchor="middle" transform="translate(514.9 546.8) scale(1 0.97)" stroke="#1e1e1e" stroke-width="0.2">42.0</text>
<text x="452.4" y="559.5" font-family='"Liberation Sans", sans-serif' font-size="10.91" fill="#1e1e1e" font-weight="normal" font-style="normal" text-anchor="middle" stroke="#1e1e1e" stroke-width="0.2">position (nm)</text>
<path d="M373.15 368.1 L411.1 368.1 L411.1 371.2 L424.2 371.2" fill="none" stroke="#00f500" stroke-width="1.85" stroke-linecap="butt" stroke-linejoin="miter"/>
<path d="M428.7 371.2 L442.5 371.2 L442.5 368.1 L468.8 368.1 L468.8 371.2 L481.9 371.2" fill="none" stroke="#00f500" stroke-width="1.85" stroke-linecap="butt" stroke-linejoin="miter"/>
<path d="M485.3 371.2 L500.2 371.2 L500.2 357.6 L538.05 357.6" fill="none" stroke="#00f500" stroke-width="1.85" stroke-linecap="butt" stroke-linejoin="miter"/>
<path d="M373.15 395.4 L411.1 395.4" fill="none" stroke="#9c00d8" stroke-width="1.9" stroke-dasharray="2.3 6.4" stroke-dashoffset="0"/>
<path d="M411.1 395.4 L442.5 395.4" fill="none" stroke="#9c00d8" stroke-width="1.9" stroke-dasharray="2.3 6.4" stroke-dashoffset="0"/>
<path d="M442.5 395.4 L468.8 395.4" fill="none" stroke="#9c00d8" stroke-width="1.9" stroke-dasharray="2.3 6.4" stroke-dashoffset="0"/>
<path d="M468.8 395.4 L500.2 395.4" fill="none" stroke="#9c00d8" stroke-width="1.9" stroke-dasharray="2.3 6.4" stroke-dashoffset="0"/>
<path d="M500.2 395.4 L538.05 395.4" fill="none" stroke="#9c00d8" stroke-width="1.9" stroke-dasharray="2.3 6.4" stroke-dashoffset="0"/>
<path d="M373.15 450.4 L411.1 450.4" fill="none" stroke="#9c00d8" stroke-width="1.9" stroke-dasharray="2.3 6.4" stroke-dashoffset="0"/>
<path d="M411.1 450.4 L425.2 450.4" fill="none" stroke="#9c00d8" stroke-width="1.9" stroke-linecap="butt" stroke-linejoin="miter"/>
<path d="M429.3 450.4 L442.7 450.4" fill="none" stroke="#9c00d8" stroke-width="1.9" stroke-linecap="butt" stroke-linejoin="miter"/>
<path d="M442.7 450.4 L468.5 450.4" fill="none" stroke="#9c00d8" stroke-width="1.9" stroke-dasharray="2.3 6.4" stroke-dashoffset="0"/>
<path d="M468.5 450.4 L481 450.4" fill="none" stroke="#9c00d8" stroke-width="1.9" stroke-linecap="butt" stroke-linejoin="miter"/>
<path d="M485 450.4 L500.4 450.4" fill="none" stroke="#9c00d8" stroke-width="1.9" stroke-linecap="butt" stroke-linejoin="miter"/>
<path d="M500.4 450.4 L538.05 450.4" fill="none" stroke="#9c00d8" stroke-width="1.9" stroke-dasharray="2.3 6.4" stroke-dashoffset="0"/>
<path d="M373.15 474.9 L411.1 474.9 L411.1 449.4 L426.4 449.4" fill="none" stroke="#111" stroke-width="1.9" stroke-linecap="butt" stroke-linejoin="miter"/>
<path d="M429.6 449.4 L442.7 449.4 L442.7 474.9 L468.5 474.9 L468.5 449.4 L482 449.4" fill="none" stroke="#111" stroke-width="1.9" stroke-linecap="butt" stroke-linejoin="miter"/>
<path d="M485 449.4 L500.4 449.4 L500.4 518.2 L538.05 518.2" fill="none" stroke="#111" stroke-width="1.9" stroke-linecap="butt" stroke-linejoin="miter"/>
<path d="M418.2 474.9 L422.8 474.9" fill="none" stroke="#111" stroke-width="1.5" stroke-linecap="butt" stroke-linejoin="miter"/>
<path d="M472.8 474.9 L477.2 474.9" fill="none" stroke="#111" stroke-width="1.5" stroke-linecap="butt" stroke-linejoin="miter"/>
<text x="377.5" y="311.8" font-family='"Liberation Sans", sans-serif' font-size="11.3" fill="#1e1e1e" font-weight="normal" font-style="normal" text-anchor="start" stroke="#1e1e1e" stroke-width="0.2">g)</text>
<text x="377" y="362.9" font-family='"Liberation Sans", sans-serif' font-size="12.4" fill="#148a14" font-weight="bold" font-style="normal" text-anchor="start" stroke="#148a14" stroke-width="0.15">L</text>
<g transform="translate(399.3 357.5) scale(1 1)" font-family='"Liberation Serif", serif' fill="#333333" stroke="#333333" stroke-width="0.15">
<text x="0" y="0" font-size="12" font-style="italic">E</text>
<text x="7.74" y="-4.1" font-size="8.3" font-style="italic">LB</text>
<text x="7.14" y="3.2" font-size="8.3" font-style="italic">L−HH</text>
</g>
<g transform="translate(460.9 356.1) scale(1 1)" font-family='"Liberation Serif", serif' fill="#333333" stroke="#333333" stroke-width="0.15">
<text x="0" y="0" font-size="12" font-style="italic">E</text>
<text x="7.74" y="-4.1" font-size="8.3" font-style="italic">MB</text>
<text x="7.14" y="3.2" font-size="8.3" font-style="italic">L−HH</text>
</g>
<path d="M393.3 369.8 L393.3 473.1" fill="none" stroke="#1a1a1a" stroke-width="1.3" stroke-linecap="butt" stroke-linejoin="miter"/>
<path d="M393.3 368.3 L390.4 373.5 L393.3 372.3 L396.2 373.5 Z" fill="#1a1a1a"/>
<path d="M393.3 474.6 L390.4 469.4 L393.3 470.6 L396.2 469.4 Z" fill="#1a1a1a"/>
<path d="M458.3 369.8 L458.3 473.1" fill="none" stroke="#1a1a1a" stroke-width="1.3" stroke-linecap="butt" stroke-linejoin="miter"/>
<path d="M458.3 368.3 L455.4 373.5 L458.3 372.3 L461.2 373.5 Z" fill="#1a1a1a"/>
<path d="M458.3 474.6 L455.4 469.4 L458.3 470.6 L461.2 469.4 Z" fill="#1a1a1a"/>
<text x="0" y="0" font-family='"Liberation Sans", sans-serif' font-size="10.15" fill="#1e1e1e" font-weight="normal" font-style="normal" text-anchor="start" transform="translate(399.2 399) rotate(90)" stroke="#1e1e1e" stroke-width="0.2">2253 nm</text>
<text x="0" y="0" font-family='"Liberation Sans", sans-serif' font-size="10.15" fill="#1e1e1e" font-weight="normal" font-style="normal" text-anchor="start" transform="translate(464.7 399) rotate(90)" stroke="#1e1e1e" stroke-width="0.2">2253 nm</text>
<path d="M412.2 439.4 L412.2 447.8" fill="none" stroke="#8060c0" stroke-width="1.1" stroke-linecap="butt" stroke-linejoin="miter"/>
<path d="M412.2 449.8 L410.2 445.6 L412.2 446.8 L414.2 445.6 Z" fill="#8060c0"/>
<path d="M412.2 486.3 L412.2 477.2" fill="none" stroke="#8060c0" stroke-width="1.1" stroke-linecap="butt" stroke-linejoin="miter"/>
<path d="M412.2 475.2 L410.2 479.4 L412.2 478.2 L414.2 479.4 Z" fill="#8060c0"/>
<path d="M467.4 439.4 L467.4 447.8" fill="none" stroke="#8060c0" stroke-width="1.1" stroke-linecap="butt" stroke-linejoin="miter"/>
<path d="M467.4 449.8 L465.4 445.6 L467.4 446.8 L469.4 445.6 Z" fill="#8060c0"/>
<path d="M467.4 486.3 L467.4 477.2" fill="none" stroke="#8060c0" stroke-width="1.1" stroke-linecap="butt" stroke-linejoin="miter"/>
<path d="M467.4 475.2 L465.4 479.4 L467.4 478.2 L469.4 479.4 Z" fill="#8060c0"/>
<text x="415.7" y="485" font-family='"Liberation Sans", sans-serif' font-size="7.5" fill="#8436c8" font-weight="bold" font-style="normal" text-anchor="start">54 meV</text>
<text x="470.1" y="485" font-family='"Liberation Sans", sans-serif' font-size="7.5" fill="#8436c8" font-weight="bold" font-style="normal" text-anchor="start">54 meV</text>
<g transform="translate(408.9 497.3) scale(1 1)" font-family='"Liberation Serif", serif' fill="#333333" stroke="#333333" stroke-width="0.15">
<text x="0" y="0" font-size="12">Δ</text>
<text x="7.68" y="0" font-size="12" font-style="italic">E</text>
<text x="15.42" y="-4.1" font-size="8.3" font-style="italic">LB</text>
<text x="14.82" y="3.2" font-size="8.3" font-style="italic">V</text>
</g>
<g transform="translate(461.1 497.3) scale(1 1)" font-family='"Liberation Serif", serif' fill="#333333" stroke="#333333" stroke-width="0.15">
<text x="0" y="0" font-size="12">Δ</text>
<text x="7.68" y="0" font-size="12" font-style="italic">E</text>
<text x="15.42" y="-4.1" font-size="8.3" font-style="italic">MB</text>
<text x="14.82" y="3.2" font-size="8.3" font-style="italic">V</text>
</g>
<path d="M519 452.6 L519 515.8" fill="none" stroke="#8060c0" stroke-width="1.1" stroke-linecap="butt" stroke-linejoin="miter"/>
<path d="M519 450.6 L517 454.8 L519 453.6 L521 454.8 Z" fill="#8060c0"/>
<path d="M519 517.8 L517 513.6 L519 514.8 L521 513.6 Z" fill="#8060c0"/>
<text x="465.5" y="529" font-family='"Liberation Sans", sans-serif' font-size="7.5" fill="#8436c8" font-weight="bold" font-style="normal" text-anchor="start">166 meV</text>
<g transform="translate(497.3 531.2) scale(1 1)" font-family='"Liberation Serif", serif' fill="#333333" stroke="#333333" stroke-width="0.15">
<text x="0" y="0" font-size="12">Δ</text>
<text x="7.68" y="0" font-size="12" font-style="italic">E</text>
<text x="15.42" y="-4.1" font-size="8.3" font-style="italic">UB</text>
<text x="14.82" y="3.2" font-size="8.3" font-style="italic">V</text>
</g>
<text x="377.7" y="489" font-family='"Liberation Sans", sans-serif' font-size="10.2" fill="#000" font-weight="bold" font-style="normal" text-anchor="start">HH</text>
<rect x="554" y="298.9" width="165" height="237.1" fill="none" stroke="#000" stroke-width="1.7" stroke-linejoin="round"/>
<path d="M554 331.7 L557.5 331.7" fill="none" stroke="#000" stroke-width="1.3" stroke-linecap="butt" stroke-linejoin="miter"/>
<path d="M719 331.7 L715.5 331.7" fill="none" stroke="#000" stroke-width="1.3" stroke-linecap="butt" stroke-linejoin="miter"/>
<path d="M554 370.4 L557.5 370.4" fill="none" stroke="#000" stroke-width="1.3" stroke-linecap="butt" stroke-linejoin="miter"/>
<path d="M719 370.4 L715.5 370.4" fill="none" stroke="#000" stroke-width="1.3" stroke-linecap="butt" stroke-linejoin="miter"/>
<path d="M554 409.3 L557.5 409.3" fill="none" stroke="#000" stroke-width="1.3" stroke-linecap="butt" stroke-linejoin="miter"/>
<path d="M719 409.3 L715.5 409.3" fill="none" stroke="#000" stroke-width="1.3" stroke-linecap="butt" stroke-linejoin="miter"/>
<path d="M554 430.4 L557.5 430.4" fill="none" stroke="#000" stroke-width="1.3" stroke-linecap="butt" stroke-linejoin="miter"/>
<path d="M719 430.4 L715.5 430.4" fill="none" stroke="#000" stroke-width="1.3" stroke-linecap="butt" stroke-linejoin="miter"/>
<path d="M554 468.4 L557.5 468.4" fill="none" stroke="#000" stroke-width="1.3" stroke-linecap="butt" stroke-linejoin="miter"/>
<path d="M719 468.4 L715.5 468.4" fill="none" stroke="#000" stroke-width="1.3" stroke-linecap="butt" stroke-linejoin="miter"/>
<path d="M554 506.5 L557.5 506.5" fill="none" stroke="#000" stroke-width="1.3" stroke-linecap="butt" stroke-linejoin="miter"/>
<path d="M719 506.5 L715.5 506.5" fill="none" stroke="#000" stroke-width="1.3" stroke-linecap="butt" stroke-linejoin="miter"/>
<path d="M554 308.45 L556 308.45" fill="none" stroke="#000" stroke-width="1.3" stroke-linecap="butt" stroke-linejoin="miter"/>
<path d="M719 308.45 L717 308.45" fill="none" stroke="#000" stroke-width="1.3" stroke-linecap="butt" stroke-linejoin="miter"/>
<path d="M554 316.2 L556 316.2" fill="none" stroke="#000" stroke-width="1.3" stroke-linecap="butt" stroke-linejoin="miter"/>
<path d="M719 316.2 L717 316.2" fill="none" stroke="#000" stroke-width="1.3" stroke-linecap="butt" stroke-linejoin="miter"/>
<path d="M554 323.95 L556 323.95" fill="none" stroke="#000" stroke-width="1.3" stroke-linecap="butt" stroke-linejoin="miter"/>
<path d="M719 323.95 L717 323.95" fill="none" stroke="#000" stroke-width="1.3" stroke-linecap="butt" stroke-linejoin="miter"/>
<path d="M554 339.45 L556 339.45" fill="none" stroke="#000" stroke-width="1.3" stroke-linecap="butt" stroke-linejoin="miter"/>
<path d="M719 339.45 L717 339.45" fill="none" stroke="#000" stroke-width="1.3" stroke-linecap="butt" stroke-linejoin="miter"/>
<path d="M554 347.2 L556 347.2" fill="none" stroke="#000" stroke-width="1.3" stroke-linecap="butt" stroke-linejoin="miter"/>
<path d="M719 347.2 L717 347.2" fill="none" stroke="#000" stroke-width="1.3" stroke-linecap="butt" stroke-linejoin="miter"/>
<path d="M554 354.95 L556 354.95" fill="none" stroke="#000" stroke-width="1.3" stroke-linecap="butt" stroke-linejoin="miter"/>
<path d="M719 354.95 L717 354.95" fill="none" stroke="#000" stroke-width="1.3" stroke-linecap="butt" stroke-linejoin="miter"/>
<path d="M554 362.7 L556 362.7" fill="none" stroke="#000" stroke-width="1.3" stroke-linecap="butt" stroke-linejoin="miter"/>
<path d="M719 362.7 L717 362.7" fill="none" stroke="#000" stroke-width="1.3" stroke-linecap="butt" stroke-linejoin="miter"/>
<path d="M554 378.2 L556 378.2" fill="none" stroke="#000" stroke-width="1.3" stroke-linecap="butt" stroke-linejoin="miter"/>
<path d="M719 378.2 L717 378.2" fill="none" stroke="#000" stroke-width="1.3" stroke-linecap="butt" stroke-linejoin="miter"/>
<path d="M554 385.95 L556 385.95" fill="none" stroke="#000" stroke-width="1.3" stroke-linecap="butt" stroke-linejoin="miter"/>
<path d="M719 385.95 L717 385.95" fill="none" stroke="#000" stroke-width="1.3" stroke-linecap="butt" stroke-linejoin="miter"/>
<path d="M554 393.7 L556 393.7" fill="none" stroke="#000" stroke-width="1.3" stroke-linecap="butt" stroke-linejoin="miter"/>
<path d="M719 393.7 L717 393.7" fill="none" stroke="#000" stroke-width="1.3" stroke-linecap="butt" stroke-linejoin="miter"/>
<path d="M554 401.45 L556 401.45" fill="none" stroke="#000" stroke-width="1.3" stroke-linecap="butt" stroke-linejoin="miter"/>
<path d="M719 401.45 L717 401.45" fill="none" stroke="#000" stroke-width="1.3" stroke-linecap="butt" stroke-linejoin="miter"/>
<path d="M554 422.8 L556 422.8" fill="none" stroke="#000" stroke-width="1.3" stroke-linecap="butt" stroke-linejoin="miter"/>
<path d="M719 422.8 L717 422.8" fill="none" stroke="#000" stroke-width="1.3" stroke-linecap="butt" stroke-linejoin="miter"/>
<path d="M554 438 L556 438" fill="none" stroke="#000" stroke-width="1.3" stroke-linecap="butt" stroke-linejoin="miter"/>
<path d="M719 438 L717 438" fill="none" stroke="#000" stroke-width="1.3" stroke-linecap="butt" stroke-linejoin="miter"/>
<path d="M554 445.6 L556 445.6" fill="none" stroke="#000" stroke-width="1.3" stroke-linecap="butt" stroke-linejoin="miter"/>
<path d="M719 445.6 L717 445.6" fill="none" stroke="#000" stroke-width="1.3" stroke-linecap="butt" stroke-linejoin="miter"/>
<path d="M554 453.2 L556 453.2" fill="none" stroke="#000" stroke-width="1.3" stroke-linecap="butt" stroke-linejoin="miter"/>
<path d="M719 453.2 L717 453.2" fill="none" stroke="#000" stroke-width="1.3" stroke-linecap="butt" stroke-linejoin="miter"/>
<path d="M554 460.8 L556 460.8" fill="none" stroke="#000" stroke-width="1.3" stroke-linecap="butt" stroke-linejoin="miter"/>
<path d="M719 460.8 L717 460.8" fill="none" stroke="#000" stroke-width="1.3" stroke-linecap="butt" stroke-linejoin="miter"/>
<path d="M554 476 L556 476" fill="none" stroke="#000" stroke-width="1.3" stroke-linecap="butt" stroke-linejoin="miter"/>
<path d="M719 476 L717 476" fill="none" stroke="#000" stroke-width="1.3" stroke-linecap="butt" stroke-linejoin="miter"/>
<path d="M554 483.6 L556 483.6" fill="none" stroke="#000" stroke-width="1.3" stroke-linecap="butt" stroke-linejoin="miter"/>
<path d="M719 483.6 L717 483.6" fill="none" stroke="#000" stroke-width="1.3" stroke-linecap="butt" stroke-linejoin="miter"/>
<path d="M554 491.2 L556 491.2" fill="none" stroke="#000" stroke-width="1.3" stroke-linecap="butt" stroke-linejoin="miter"/>
<path d="M719 491.2 L717 491.2" fill="none" stroke="#000" stroke-width="1.3" stroke-linecap="butt" stroke-linejoin="miter"/>
<path d="M554 498.8 L556 498.8" fill="none" stroke="#000" stroke-width="1.3" stroke-linecap="butt" stroke-linejoin="miter"/>
<path d="M719 498.8 L717 498.8" fill="none" stroke="#000" stroke-width="1.3" stroke-linecap="butt" stroke-linejoin="miter"/>
<path d="M554 514 L556 514" fill="none" stroke="#000" stroke-width="1.3" stroke-linecap="butt" stroke-linejoin="miter"/>
<path d="M719 514 L717 514" fill="none" stroke="#000" stroke-width="1.3" stroke-linecap="butt" stroke-linejoin="miter"/>
<path d="M554 521.6 L556 521.6" fill="none" stroke="#000" stroke-width="1.3" stroke-linecap="butt" stroke-linejoin="miter"/>
<path d="M719 521.6 L717 521.6" fill="none" stroke="#000" stroke-width="1.3" stroke-linecap="butt" stroke-linejoin="miter"/>
<path d="M554 529.2 L556 529.2" fill="none" stroke="#000" stroke-width="1.3" stroke-linecap="butt" stroke-linejoin="miter"/>
<path d="M719 529.2 L717 529.2" fill="none" stroke="#000" stroke-width="1.3" stroke-linecap="butt" stroke-linejoin="miter"/>
<path d="M564.9 298.9 L564.9 302.4" fill="none" stroke="#000" stroke-width="1.3" stroke-linecap="butt" stroke-linejoin="miter"/>
<path d="M564.9 536 L564.9 532.5" fill="none" stroke="#000" stroke-width="1.3" stroke-linecap="butt" stroke-linejoin="miter"/>
<path d="M591.5 298.9 L591.5 302.4" fill="none" stroke="#000" stroke-width="1.3" stroke-linecap="butt" stroke-linejoin="miter"/>
<path d="M591.5 536 L591.5 532.5" fill="none" stroke="#000" stroke-width="1.3" stroke-linecap="butt" stroke-linejoin="miter"/>
<path d="M608.9 298.9 L608.9 302.4" fill="none" stroke="#000" stroke-width="1.3" stroke-linecap="butt" stroke-linejoin="miter"/>
<path d="M608.9 536 L608.9 532.5" fill="none" stroke="#000" stroke-width="1.3" stroke-linecap="butt" stroke-linejoin="miter"/>
<path d="M635.6 298.9 L635.6 302.4" fill="none" stroke="#000" stroke-width="1.3" stroke-linecap="butt" stroke-linejoin="miter"/>
<path d="M635.6 536 L635.6 532.5" fill="none" stroke="#000" stroke-width="1.3" stroke-linecap="butt" stroke-linejoin="miter"/>
<path d="M668.7 298.9 L668.7 302.4" fill="none" stroke="#000" stroke-width="1.3" stroke-linecap="butt" stroke-linejoin="miter"/>
<path d="M668.7 536 L668.7 532.5" fill="none" stroke="#000" stroke-width="1.3" stroke-linecap="butt" stroke-linejoin="miter"/>
<path d="M694.8 298.9 L694.8 302.4" fill="none" stroke="#000" stroke-width="1.3" stroke-linecap="butt" stroke-linejoin="miter"/>
<path d="M694.8 536 L694.8 532.5" fill="none" stroke="#000" stroke-width="1.3" stroke-linecap="butt" stroke-linejoin="miter"/>
<path d="M559.58 298.9 L559.58 300.9" fill="none" stroke="#000" stroke-width="1.3" stroke-linecap="butt" stroke-linejoin="miter"/>
<path d="M559.58 536 L559.58 534" fill="none" stroke="#000" stroke-width="1.3" stroke-linecap="butt" stroke-linejoin="miter"/>
<path d="M570.22 298.9 L570.22 300.9" fill="none" stroke="#000" stroke-width="1.3" stroke-linecap="butt" stroke-linejoin="miter"/>
<path d="M570.22 536 L570.22 534" fill="none" stroke="#000" stroke-width="1.3" stroke-linecap="butt" stroke-linejoin="miter"/>
<path d="M575.54 298.9 L575.54 300.9" fill="none" stroke="#000" stroke-width="1.3" stroke-linecap="butt" stroke-linejoin="miter"/>
<path d="M575.54 536 L575.54 534" fill="none" stroke="#000" stroke-width="1.3" stroke-linecap="butt" stroke-linejoin="miter"/>
<path d="M580.86 298.9 L580.86 300.9" fill="none" stroke="#000" stroke-width="1.3" stroke-linecap="butt" stroke-linejoin="miter"/>
<path d="M580.86 536 L580.86 534" fill="none" stroke="#000" stroke-width="1.3" stroke-linecap="butt" stroke-linejoin="miter"/>
<path d="M586.18 298.9 L586.18 300.9" fill="none" stroke="#000" stroke-width="1.3" stroke-linecap="butt" stroke-linejoin="miter"/>
<path d="M586.18 536 L586.18 534" fill="none" stroke="#000" stroke-width="1.3" stroke-linecap="butt" stroke-linejoin="miter"/>
<path d="M596.82 298.9 L596.82 300.9" fill="none" stroke="#000" stroke-width="1.3" stroke-linecap="butt" stroke-linejoin="miter"/>
<path d="M596.82 536 L596.82 534" fill="none" stroke="#000" stroke-width="1.3" stroke-linecap="butt" stroke-linejoin="miter"/>
<path d="M602.14 298.9 L602.14 300.9" fill="none" stroke="#000" stroke-width="1.3" stroke-linecap="butt" stroke-linejoin="miter"/>
<path d="M602.14 536 L602.14 534" fill="none" stroke="#000" stroke-width="1.3" stroke-linecap="butt" stroke-linejoin="miter"/>
<path d="M614.24 298.9 L614.24 300.9" fill="none" stroke="#000" stroke-width="1.3" stroke-linecap="butt" stroke-linejoin="miter"/>
<path d="M614.24 536 L614.24 534" fill="none" stroke="#000" stroke-width="1.3" stroke-linecap="butt" stroke-linejoin="miter"/>
<path d="M619.58 298.9 L619.58 300.9" fill="none" stroke="#000" stroke-width="1.3" stroke-linecap="butt" stroke-linejoin="miter"/>
<path d="M619.58 536 L619.58 534" fill="none" stroke="#000" stroke-width="1.3" stroke-linecap="butt" stroke-linejoin="miter"/>
<path d="M624.92 298.9 L624.92 300.9" fill="none" stroke="#000" stroke-width="1.3" stroke-linecap="butt" stroke-linejoin="miter"/>
<path d="M624.92 536 L624.92 534" fill="none" stroke="#000" stroke-width="1.3" stroke-linecap="butt" stroke-linejoin="miter"/>
<path d="M630.26 298.9 L630.26 300.9" fill="none" stroke="#000" stroke-width="1.3" stroke-linecap="butt" stroke-linejoin="miter"/>
<path d="M630.26 536 L630.26 534" fill="none" stroke="#000" stroke-width="1.3" stroke-linecap="butt" stroke-linejoin="miter"/>
<path d="M640.94 298.9 L640.94 300.9" fill="none" stroke="#000" stroke-width="1.3" stroke-linecap="butt" stroke-linejoin="miter"/>
<path d="M640.94 536 L640.94 534" fill="none" stroke="#000" stroke-width="1.3" stroke-linecap="butt" stroke-linejoin="miter"/>
<path d="M646.28 298.9 L646.28 300.9" fill="none" stroke="#000" stroke-width="1.3" stroke-linecap="butt" stroke-linejoin="miter"/>
<path d="M646.28 536 L646.28 534" fill="none" stroke="#000" stroke-width="1.3" stroke-linecap="butt" stroke-linejoin="miter"/>
<path d="M651.62 298.9 L651.62 300.9" fill="none" stroke="#000" stroke-width="1.3" stroke-linecap="butt" stroke-linejoin="miter"/>
<path d="M651.62 536 L651.62 534" fill="none" stroke="#000" stroke-width="1.3" stroke-linecap="butt" stroke-linejoin="miter"/>
<path d="M656.96 298.9 L656.96 300.9" fill="none" stroke="#000" stroke-width="1.3" stroke-linecap="butt" stroke-linejoin="miter"/>
<path d="M656.96 536 L656.96 534" fill="none" stroke="#000" stroke-width="1.3" stroke-linecap="butt" stroke-linejoin="miter"/>
<path d="M662.3 298.9 L662.3 300.9" fill="none" stroke="#000" stroke-width="1.3" stroke-linecap="butt" stroke-linejoin="miter"/>
<path d="M662.3 536 L662.3 534" fill="none" stroke="#000" stroke-width="1.3" stroke-linecap="butt" stroke-linejoin="miter"/>
<path d="M673.92 298.9 L673.92 300.9" fill="none" stroke="#000" stroke-width="1.3" stroke-linecap="butt" stroke-linejoin="miter"/>
<path d="M673.92 536 L673.92 534" fill="none" stroke="#000" stroke-width="1.3" stroke-linecap="butt" stroke-linejoin="miter"/>
<path d="M679.14 298.9 L679.14 300.9" fill="none" stroke="#000" stroke-width="1.3" stroke-linecap="butt" stroke-linejoin="miter"/>
<path d="M679.14 536 L679.14 534" fill="none" stroke="#000" stroke-width="1.3" stroke-linecap="butt" stroke-linejoin="miter"/>
<path d="M684.36 298.9 L684.36 300.9" fill="none" stroke="#000" stroke-width="1.3" stroke-linecap="butt" stroke-linejoin="miter"/>
<path d="M684.36 536 L684.36 534" fill="none" stroke="#000" stroke-width="1.3" stroke-linecap="butt" stroke-linejoin="miter"/>
<path d="M689.58 298.9 L689.58 300.9" fill="none" stroke="#000" stroke-width="1.3" stroke-linecap="butt" stroke-linejoin="miter"/>
<path d="M689.58 536 L689.58 534" fill="none" stroke="#000" stroke-width="1.3" stroke-linecap="butt" stroke-linejoin="miter"/>
<path d="M700.02 298.9 L700.02 300.9" fill="none" stroke="#000" stroke-width="1.3" stroke-linecap="butt" stroke-linejoin="miter"/>
<path d="M700.02 536 L700.02 534" fill="none" stroke="#000" stroke-width="1.3" stroke-linecap="butt" stroke-linejoin="miter"/>
<path d="M705.24 298.9 L705.24 300.9" fill="none" stroke="#000" stroke-width="1.3" stroke-linecap="butt" stroke-linejoin="miter"/>
<path d="M705.24 536 L705.24 534" fill="none" stroke="#000" stroke-width="1.3" stroke-linecap="butt" stroke-linejoin="miter"/>
<path d="M710.46 298.9 L710.46 300.9" fill="none" stroke="#000" stroke-width="1.3" stroke-linecap="butt" stroke-linejoin="miter"/>
<path d="M710.46 536 L710.46 534" fill="none" stroke="#000" stroke-width="1.3" stroke-linecap="butt" stroke-linejoin="miter"/>
<path d="M715.68 298.9 L715.68 300.9" fill="none" stroke="#000" stroke-width="1.3" stroke-linecap="butt" stroke-linejoin="miter"/>
<path d="M715.68 536 L715.68 534" fill="none" stroke="#000" stroke-width="1.3" stroke-linecap="butt" stroke-linejoin="miter"/>
<rect x="552" y="416.3" width="4" height="4.2" fill="#fff"/>
<path d="M550 418.5 L558 414.5" fill="none" stroke="#000" stroke-width="1.4" stroke-linecap="butt" stroke-linejoin="miter"/>
<path d="M550 422.5 L558 418.5" fill="none" stroke="#000" stroke-width="1.4" stroke-linecap="butt" stroke-linejoin="miter"/>
<rect x="717" y="416.3" width="4" height="4.2" fill="#fff"/>
<path d="M715 418.5 L723 414.5" fill="none" stroke="#000" stroke-width="1.4" stroke-linecap="butt" stroke-linejoin="miter"/>
<path d="M715 422.5 L723 418.5" fill="none" stroke="#000" stroke-width="1.4" stroke-linecap="butt" stroke-linejoin="miter"/>
<rect x="606.5" y="296.9" width="4.2" height="4" fill="#fff"/>
<path d="M604.7 302.4 L608.3 295.4" fill="none" stroke="#000" stroke-width="1.4" stroke-linecap="butt" stroke-linejoin="miter"/>
<path d="M608.9 302.4 L612.5 295.4" fill="none" stroke="#000" stroke-width="1.4" stroke-linecap="butt" stroke-linejoin="miter"/>
<rect x="606.5" y="534" width="4.2" height="4" fill="#fff"/>
<path d="M604.7 539.5 L608.3 532.5" fill="none" stroke="#000" stroke-width="1.4" stroke-linecap="butt" stroke-linejoin="miter"/>
<path d="M608.9 539.5 L612.5 532.5" fill="none" stroke="#000" stroke-width="1.4" stroke-linecap="butt" stroke-linejoin="miter"/>
<rect x="662.9" y="296.9" width="4.2" height="4" fill="#fff"/>
<path d="M661.1 302.4 L664.7 295.4" fill="none" stroke="#000" stroke-width="1.4" stroke-linecap="butt" stroke-linejoin="miter"/>
<path d="M665.3 302.4 L668.9 295.4" fill="none" stroke="#000" stroke-width="1.4" stroke-linecap="butt" stroke-linejoin="miter"/>
<rect x="662.9" y="534" width="4.2" height="4" fill="#fff"/>
<path d="M661.1 539.5 L664.7 532.5" fill="none" stroke="#000" stroke-width="1.4" stroke-linecap="butt" stroke-linejoin="miter"/>
<path d="M665.3 539.5 L668.9 532.5" fill="none" stroke="#000" stroke-width="1.4" stroke-linecap="butt" stroke-linejoin="miter"/>
<text x="0" y="0" font-family='"Liberation Sans", sans-serif' font-size="8.1" fill="#1e1e1e" font-weight="normal" font-style="normal" text-anchor="middle" transform="translate(564.9 546.8) scale(1 0.97)" stroke="#1e1e1e" stroke-width="0.2">-7</text>
<text x="0" y="0" font-family='"Liberation Sans", sans-serif' font-size="8.1" fill="#1e1e1e" font-weight="normal" font-style="normal" text-anchor="middle" transform="translate(591.5 546.8) scale(1 0.97)" stroke="#1e1e1e" stroke-width="0.2">0</text>
<text x="0" y="0" font-family='"Liberation Sans", sans-serif' font-size="8.1" fill="#1e1e1e" font-weight="normal" font-style="normal" text-anchor="middle" transform="translate(608.9 546.8) scale(1 0.97)" stroke="#1e1e1e" stroke-width="0.2">18</text>
<text x="0" y="0" font-family='"Liberation Sans", sans-serif' font-size="8.1" fill="#1e1e1e" font-weight="normal" font-style="normal" text-anchor="middle" transform="translate(635.6 546.8) scale(1 0.97)" stroke="#1e1e1e" stroke-width="0.2">20</text>
<text x="0" y="0" font-family='"Liberation Sans", sans-serif' font-size="8.1" fill="#1e1e1e" font-weight="normal" font-style="normal" text-anchor="middle" transform="translate(668.7 546.8) scale(1 0.97)" stroke="#1e1e1e" stroke-width="0.2">38.5</text>
<text x="0" y="0" font-family='"Liberation Sans", sans-serif' font-size="8.1" fill="#1e1e1e" font-weight="normal" font-style="normal" text-anchor="middle" transform="translate(694.8 546.8) scale(1 0.97)" stroke="#1e1e1e" stroke-width="0.2">42.0</text>
<text x="632.75" y="559.5" font-family='"Liberation Sans", sans-serif' font-size="10.79" fill="#1e1e1e" font-weight="normal" font-style="normal" text-anchor="middle" stroke="#1e1e1e" stroke-width="0.2">position (nm)</text>
<path d="M554 368.1 L591.3 368.1 L591.3 371.2 L605.8 371.2" fill="none" stroke="#00f500" stroke-width="1.85" stroke-linecap="butt" stroke-linejoin="miter"/>
<path d="M610.5 371.2 L622.8 371.2 L622.8 368.1 L649.8 368.1 L649.8 371.2 L660.8 371.2" fill="none" stroke="#00f500" stroke-width="1.85" stroke-linecap="butt" stroke-linejoin="miter"/>
<path d="M665.5 371.2 L680.4 371.2 L680.4 357.6 L719 357.6" fill="none" stroke="#00f500" stroke-width="1.85" stroke-linecap="butt" stroke-linejoin="miter"/>
<path d="M554 395.4 L591.3 395.4" fill="none" stroke="#9c00d8" stroke-width="1.9" stroke-dasharray="2.3 6.4" stroke-dashoffset="0"/>
<path d="M591.3 395.4 L622.8 395.4" fill="none" stroke="#9c00d8" stroke-width="1.9" stroke-dasharray="2.3 6.4" stroke-dashoffset="0"/>
<path d="M622.8 395.4 L649.8 395.4" fill="none" stroke="#9c00d8" stroke-width="1.9" stroke-dasharray="2.3 6.4" stroke-dashoffset="0"/>
<path d="M649.8 395.4 L680.4 395.4" fill="none" stroke="#9c00d8" stroke-width="1.9" stroke-dasharray="2.3 6.4" stroke-dashoffset="0"/>
<path d="M680.4 395.4 L719 395.4" fill="none" stroke="#9c00d8" stroke-width="1.9" stroke-dasharray="2.3 6.4" stroke-dashoffset="0"/>
<path d="M554 450.2 L591.3 450.2" fill="none" stroke="#9c00d8" stroke-width="1.9" stroke-dasharray="2.3 6.4" stroke-dashoffset="0"/>
<path d="M591.3 450.2 L622.8 450.2" fill="none" stroke="#9c00d8" stroke-width="1.9" stroke-dasharray="2.3 6.4" stroke-dashoffset="0"/>
<path d="M622.8 450.2 L649.8 450.2" fill="none" stroke="#9c00d8" stroke-width="1.9" stroke-dasharray="2.3 6.4" stroke-dashoffset="0"/>
<path d="M649.8 450.2 L680.4 450.2" fill="none" stroke="#9c00d8" stroke-width="1.9" stroke-dasharray="2.3 6.4" stroke-dashoffset="0"/>
<path d="M680.4 450.2 L719 450.2" fill="none" stroke="#9c00d8" stroke-width="1.9" stroke-dasharray="2.3 6.4" stroke-dashoffset="0"/>
<path d="M554 479.9 L592.1 479.9 L592.1 479.3 L607 479.3" fill="none" stroke="#1a1aff" stroke-width="1.7" stroke-linecap="butt" stroke-linejoin="miter"/>
<path d="M610.6 479.3 L622.8 479.3 L622.8 479.9 L649.8 479.9 L649.8 479.3 L662.2 479.3" fill="none" stroke="#1a1aff" stroke-width="1.7" stroke-linecap="butt" stroke-linejoin="miter"/>
<path d="M666 479.3 L681.2 479.3 L681.2 466.5 L719 466.5" fill="none" stroke="#1a1aff" stroke-width="1.7" stroke-linecap="butt" stroke-linejoin="miter"/>
<text x="557.6" y="312" font-family='"Liberation Sans", sans-serif' font-size="11.3" fill="#1e1e1e" font-weight="normal" font-style="normal" text-anchor="start" stroke="#1e1e1e" stroke-width="0.2">h)</text>
<text x="560" y="362.9" font-family='"Liberation Sans", sans-serif' font-size="12.4" fill="#148a14" font-weight="bold" font-style="normal" text-anchor="start" stroke="#148a14" stroke-width="0.15">L</text>
<g transform="translate(575.6 357.3) scale(1 1)" font-family='"Liberation Serif", serif' fill="#333333" stroke="#333333" stroke-width="0.15">
<text x="0" y="0" font-size="12" font-style="italic">E</text>
<text x="7.74" y="-4.1" font-size="8.3" font-style="italic">LB</text>
<text x="7.14" y="3.2" font-size="8.3" font-style="italic">L−LH</text>
</g>
<g transform="translate(614.9 357.3) scale(1 1)" font-family='"Liberation Serif", serif' fill="#333333" stroke="#333333" stroke-width="0.15">
<text x="0" y="0" font-size="12" font-style="italic">E</text>
<text x="7.74" y="-4.1" font-size="8.3" font-style="italic">MB</text>
<text x="7.14" y="3.2" font-size="8.3" font-style="italic">L−LH</text>
</g>
<g transform="translate(675.2 346.7) scale(1 1)" font-family='"Liberation Serif", serif' fill="#333333" stroke="#333333" stroke-width="0.15">
<text x="0" y="0" font-size="12" font-style="italic">E</text>
<text x="7.74" y="-4.1" font-size="8.3" font-style="italic">UB</text>
<text x="7.14" y="3.2" font-size="8.3" font-style="italic">L−LH</text>
</g>
<path d="M573 369.8 L573 478.3" fill="none" stroke="#1a1a1a" stroke-width="1.3" stroke-linecap="butt" stroke-linejoin="miter"/>
<path d="M573 368.3 L570.1 373.5 L573 372.3 L575.9 373.5 Z" fill="#1a1a1a"/>
<path d="M573 479.8 L570.1 474.6 L573 475.8 L575.9 474.6 Z" fill="#1a1a1a"/>
<path d="M644.5 369.8 L644.5 477.7" fill="none" stroke="#1a1a1a" stroke-width="1.3" stroke-linecap="butt" stroke-linejoin="miter"/>
<path d="M644.5 368.3 L641.6 373.5 L644.5 372.3 L647.4 373.5 Z" fill="#1a1a1a"/>
<path d="M644.5 479.2 L641.6 474 L644.5 475.2 L647.4 474 Z" fill="#1a1a1a"/>
<path d="M708 359.3 L708 464.9" fill="none" stroke="#1a1a1a" stroke-width="1.3" stroke-linecap="butt" stroke-linejoin="miter"/>
<path d="M708 357.8 L705.1 363 L708 361.8 L710.9 363 Z" fill="#1a1a1a"/>
<path d="M708 466.4 L705.1 461.2 L708 462.4 L710.9 461.2 Z" fill="#1a1a1a"/>
<text x="0" y="0" font-family='"Liberation Sans", sans-serif' font-size="10.15" fill="#1e1e1e" font-weight="normal" font-style="normal" text-anchor="start" transform="translate(578.1 403.4) rotate(90)" stroke="#1e1e1e" stroke-width="0.2">2207 nm</text>
<text x="0" y="0" font-family='"Liberation Sans", sans-serif' font-size="10.15" fill="#1e1e1e" font-weight="normal" font-style="normal" text-anchor="start" transform="translate(649.4 403.4) rotate(90)" stroke="#1e1e1e" stroke-width="0.2">2207 nm</text>
<text x="0" y="0" font-family='"Liberation Sans", sans-serif' font-size="10.15" fill="#1e1e1e" font-weight="normal" font-style="normal" text-anchor="start" transform="translate(693.4 406.8) rotate(90)" stroke="#1e1e1e" stroke-width="0.2">2267 nm</text>
<text x="0" y="0" font-family='"Liberation Sans", sans-serif' font-size="11.3" fill="#1a1aff" font-weight="normal" font-style="normal" text-anchor="start" transform="translate(560.8 493.1) scale(1 0.93)" stroke="#1a1aff" stroke-width="0.3">LH</text>
</svg>
</body></html>
